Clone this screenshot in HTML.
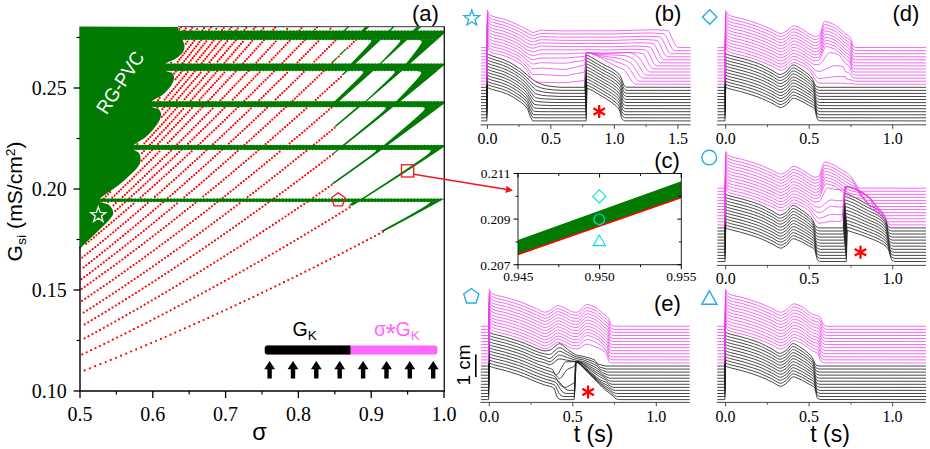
<!DOCTYPE html>
<html><head><meta charset="utf-8"><title>figure</title><style>html,body{margin:0;padding:0;background:#fff}svg{display:block}</style></head><body>
<svg width="930" height="449" viewBox="0 0 930 449">
<rect width="930" height="449" fill="#fff"/>
<g>
<clipPath id="ca"><rect x="79.3" y="26.5" width="364.7" height="364.5"/></clipPath>
<g clip-path="url(#ca)">
<path d="M383.0 231.8h0M379.0 233.9h0M375.0 236.0h0M371.0 238.1h0M367.0 240.2h0M363.0 242.3h0M359.0 244.4h0M354.9 246.5h0M350.8 248.6h0M346.8 250.7h0M342.7 252.8h0M338.6 254.9h0M334.5 257.0h0M330.3 259.1h0M326.2 261.2h0M322.0 263.3h0M317.9 265.4h0M313.7 267.5h0M309.5 269.6h0M305.3 271.7h0M301.0 273.8h0M296.8 275.9h0M292.5 278.0h0M288.2 280.1h0M284.0 282.2h0M279.6 284.3h0M275.3 286.4h0M271.0 288.5h0M266.6 290.6h0M262.2 292.7h0M257.8 294.8h0M253.4 296.9h0M249.0 299.0h0M244.5 301.1h0M240.1 303.2h0M235.6 305.3h0M231.1 307.4h0M226.6 309.5h0M222.0 311.6h0M217.4 313.7h0M212.8 315.8h0M208.2 317.9h0M203.6 320.0h0M199.0 322.1h0M194.3 324.2h0M189.6 326.3h0M184.9 328.4h0M180.1 330.5h0M175.3 332.6h0M170.5 334.7h0M165.7 336.8h0M160.9 338.9h0M156.0 341.0h0M151.1 343.1h0M146.2 345.2h0M141.2 347.3h0M136.2 349.4h0M131.2 351.5h0M126.2 353.6h0M121.1 355.7h0M116.0 357.8h0M110.8 359.9h0M105.7 362.0h0M100.4 364.1h0M95.2 366.2h0M89.9 368.3h0M84.6 370.4h0M349.6 207.4h0M346.2 209.5h0M342.8 211.6h0M339.4 213.7h0M336.0 215.8h0M332.6 217.9h0M329.1 220.0h0M325.7 222.1h0M322.3 224.2h0M318.8 226.3h0M315.3 228.4h0M311.8 230.5h0M308.3 232.6h0M304.8 234.7h0M301.3 236.8h0M297.8 238.9h0M294.3 241.0h0M290.7 243.1h0M287.2 245.2h0M283.6 247.3h0M280.0 249.4h0M276.4 251.5h0M272.8 253.6h0M269.2 255.7h0M265.6 257.8h0M262.0 259.9h0M258.3 262.0h0M254.6 264.1h0M251.0 266.2h0M247.3 268.3h0M243.6 270.4h0M239.9 272.5h0M236.1 274.6h0M232.4 276.7h0M228.7 278.8h0M224.9 280.9h0M221.1 283.0h0M217.3 285.1h0M213.5 287.2h0M209.7 289.3h0M205.8 291.4h0M202.0 293.5h0M198.1 295.6h0M194.2 297.7h0M190.3 299.8h0M186.4 301.9h0M182.5 304.0h0M178.5 306.1h0M174.6 308.2h0M170.6 310.3h0M166.6 312.4h0M162.6 314.5h0M158.5 316.6h0M154.5 318.7h0M150.4 320.8h0M146.3 322.9h0M142.2 325.0h0M138.0 327.1h0M133.9 329.2h0M129.7 331.3h0M125.5 333.4h0M121.3 335.5h0M117.1 337.6h0M112.8 339.7h0M108.5 341.8h0M104.2 343.9h0M99.9 346.0h0M95.5 348.1h0M91.1 350.2h0M86.7 352.3h0M82.3 354.4h0M331.7 185.0h0M328.6 187.1h0M325.6 189.2h0M322.6 191.3h0M319.5 193.4h0M316.5 195.5h0M313.4 197.6h0M307.3 201.8h0M304.2 203.9h0M301.1 206.0h0M298.0 208.1h0M294.9 210.2h0M291.8 212.3h0M288.6 214.4h0M285.5 216.5h0M282.4 218.6h0M279.2 220.7h0M276.1 222.8h0M272.9 224.9h0M269.7 227.0h0M266.5 229.1h0M263.3 231.2h0M260.1 233.3h0M256.9 235.4h0M253.7 237.5h0M250.5 239.6h0M247.2 241.7h0M244.0 243.8h0M240.7 245.9h0M237.4 248.0h0M234.1 250.1h0M230.8 252.2h0M227.5 254.3h0M224.2 256.4h0M220.9 258.5h0M217.6 260.6h0M214.2 262.7h0M210.8 264.8h0M207.5 266.9h0M204.1 269.0h0M200.7 271.1h0M197.3 273.2h0M193.9 275.3h0M190.4 277.4h0M187.0 279.5h0M183.5 281.6h0M180.1 283.7h0M176.6 285.8h0M173.1 287.9h0M169.6 290.0h0M166.1 292.1h0M162.5 294.2h0M159.0 296.3h0M155.4 298.4h0M151.8 300.5h0M148.2 302.6h0M144.6 304.7h0M141.0 306.8h0M137.4 308.9h0M133.7 311.0h0M130.0 313.1h0M126.3 315.2h0M122.6 317.3h0M118.9 319.4h0M115.2 321.5h0M111.4 323.6h0M107.7 325.7h0M103.9 327.8h0M100.0 329.9h0M96.2 332.0h0M92.4 334.1h0M88.5 336.2h0M84.6 338.3h0M332.8 154.3h0M330.0 156.4h0M327.3 158.5h0M324.6 160.6h0M321.8 162.7h0M319.1 164.8h0M316.3 166.9h0M313.5 169.0h0M310.7 171.1h0M308.0 173.2h0M305.2 175.3h0M302.4 177.4h0M299.6 179.5h0M296.8 181.6h0M293.9 183.7h0M291.1 185.8h0M288.3 187.9h0M285.5 190.0h0M282.6 192.1h0M279.8 194.2h0M276.9 196.3h0M274.0 198.4h0M268.3 202.6h0M265.4 204.7h0M262.5 206.8h0M259.6 208.9h0M256.7 211.0h0M253.8 213.1h0M250.8 215.2h0M247.9 217.3h0M244.9 219.4h0M242.0 221.5h0M239.0 223.6h0M236.1 225.7h0M233.1 227.8h0M230.1 229.9h0M227.1 232.0h0M224.1 234.1h0M221.1 236.2h0M218.1 238.3h0M215.0 240.4h0M212.0 242.5h0M209.0 244.6h0M205.9 246.7h0M202.8 248.8h0M199.7 250.9h0M196.7 253.0h0M193.6 255.1h0M190.5 257.2h0M187.3 259.3h0M184.2 261.4h0M181.1 263.5h0M177.9 265.6h0M174.8 267.7h0M171.6 269.8h0M168.4 271.9h0M165.2 274.0h0M162.0 276.1h0M158.8 278.2h0M155.6 280.3h0M152.3 282.4h0M149.1 284.5h0M145.8 286.6h0M142.5 288.7h0M139.2 290.8h0M135.9 292.9h0M132.6 295.0h0M129.3 297.1h0M126.0 299.2h0M122.6 301.3h0M119.2 303.4h0M115.9 305.5h0M112.5 307.6h0M109.0 309.7h0M105.6 311.8h0M102.2 313.9h0M98.7 316.0h0M95.2 318.1h0M91.8 320.2h0M88.2 322.3h0M84.7 324.4h0M334.6 127.8h0M332.0 129.9h0M329.5 132.0h0M326.9 134.1h0M324.4 136.2h0M321.8 138.3h0M319.3 140.4h0M316.7 142.5h0M314.1 144.6h0M306.3 150.9h0M303.7 153.0h0M301.1 155.1h0M298.5 157.2h0M295.9 159.3h0M293.3 161.4h0M290.6 163.5h0M288.0 165.6h0M285.4 167.7h0M282.7 169.8h0M280.1 171.9h0M277.4 174.0h0M274.7 176.1h0M272.1 178.2h0M269.4 180.3h0M266.7 182.4h0M264.0 184.5h0M261.3 186.6h0M258.6 188.7h0M255.9 190.8h0M253.2 192.9h0M250.4 195.0h0M247.7 197.1h0M239.5 203.4h0M236.7 205.5h0M233.9 207.6h0M231.1 209.7h0M228.4 211.8h0M225.6 213.9h0M222.8 216.0h0M220.0 218.1h0M217.1 220.2h0M214.3 222.3h0M211.5 224.4h0M208.6 226.5h0M205.8 228.6h0M202.9 230.7h0M200.1 232.8h0M197.2 234.9h0M194.3 237.0h0M191.4 239.1h0M188.5 241.2h0M185.6 243.3h0M182.7 245.4h0M179.8 247.5h0M176.8 249.6h0M173.9 251.7h0M170.9 253.8h0M168.0 255.9h0M165.0 258.0h0M162.0 260.1h0M159.0 262.2h0M156.0 264.3h0M153.0 266.4h0M150.0 268.5h0M146.9 270.6h0M143.9 272.7h0M140.8 274.8h0M137.8 276.9h0M134.7 279.0h0M131.6 281.1h0M128.5 283.2h0M125.4 285.3h0M122.3 287.4h0M119.1 289.5h0M116.0 291.6h0M112.8 293.7h0M109.6 295.8h0M106.4 297.9h0M103.2 300.0h0M100.0 302.1h0M96.8 304.2h0M93.6 306.3h0M90.3 308.4h0M87.0 310.5h0M83.7 312.6h0M331.4 107.6h0M329.0 109.7h0M326.6 111.8h0M324.1 113.9h0M321.7 116.0h0M319.3 118.1h0M316.8 120.2h0M314.4 122.3h0M311.9 124.4h0M309.5 126.5h0M307.0 128.6h0M304.6 130.7h0M302.1 132.8h0M299.6 134.9h0M297.1 137.0h0M294.6 139.1h0M292.2 141.2h0M289.7 143.3h0M279.6 151.7h0M277.1 153.8h0M274.6 155.9h0M272.0 158.0h0M269.5 160.1h0M266.9 162.2h0M264.4 164.3h0M261.8 166.4h0M259.3 168.5h0M256.7 170.6h0M254.1 172.7h0M251.5 174.8h0M248.9 176.9h0M246.3 179.0h0M243.7 181.1h0M241.1 183.2h0M238.5 185.3h0M235.9 187.4h0M233.3 189.5h0M230.6 191.6h0M228.0 193.7h0M225.3 195.8h0M222.7 197.9h0M217.4 202.1h0M214.7 204.2h0M212.0 206.3h0M209.3 208.4h0M206.6 210.5h0M203.9 212.6h0M201.2 214.7h0M198.5 216.8h0M195.7 218.9h0M193.0 221.0h0M190.3 223.1h0M187.5 225.2h0M184.7 227.3h0M182.0 229.4h0M179.2 231.5h0M176.4 233.6h0M173.6 235.7h0M170.8 237.8h0M168.0 239.9h0M165.2 242.0h0M162.4 244.1h0M159.5 246.2h0M156.7 248.3h0M153.8 250.4h0M150.9 252.5h0M148.1 254.6h0M145.2 256.7h0M142.3 258.8h0M139.4 260.9h0M136.5 263.0h0M133.6 265.1h0M130.6 267.2h0M127.7 269.3h0M124.7 271.4h0M121.8 273.5h0M118.8 275.6h0M115.8 277.7h0M112.8 279.8h0M109.8 281.9h0M106.8 284.0h0M103.7 286.1h0M100.7 288.2h0M97.6 290.3h0M94.5 292.4h0M91.5 294.5h0M88.4 296.6h0M85.3 298.7h0M82.1 300.8h0M341.0 76.8h0M338.7 78.9h0M336.4 81.0h0M334.1 83.1h0M331.8 85.2h0M329.5 87.3h0M327.2 89.4h0M324.9 91.5h0M322.6 93.6h0M320.3 95.7h0M318.0 97.8h0M315.7 99.9h0M306.3 108.3h0M304.0 110.4h0M301.6 112.5h0M299.3 114.6h0M296.9 116.7h0M294.5 118.8h0M292.2 120.9h0M289.8 123.0h0M287.4 125.1h0M285.0 127.2h0M282.6 129.3h0M280.2 131.4h0M277.8 133.5h0M275.4 135.6h0M273.0 137.7h0M270.6 139.8h0M268.2 141.9h0M265.7 144.0h0M258.4 150.3h0M256.0 152.4h0M253.5 154.5h0M251.1 156.6h0M248.6 158.7h0M246.1 160.8h0M243.7 162.9h0M241.2 165.0h0M238.7 167.1h0M236.2 169.2h0M233.7 171.3h0M231.2 173.4h0M228.7 175.5h0M226.1 177.6h0M223.6 179.7h0M221.1 181.8h0M218.6 183.9h0M216.0 186.0h0M213.5 188.1h0M210.9 190.2h0M208.3 192.3h0M205.8 194.4h0M203.2 196.5h0M195.4 202.8h0M192.8 204.9h0M190.2 207.0h0M187.6 209.1h0M184.9 211.2h0M182.3 213.3h0M179.7 215.4h0M177.0 217.5h0M174.4 219.6h0M171.7 221.7h0M169.0 223.8h0M166.3 225.9h0M163.7 228.0h0M161.0 230.1h0M158.3 232.2h0M155.5 234.3h0M152.8 236.4h0M150.1 238.5h0M147.3 240.6h0M144.6 242.7h0M141.8 244.8h0M139.1 246.9h0M136.3 249.0h0M133.5 251.1h0M130.7 253.2h0M127.9 255.3h0M125.1 257.4h0M122.3 259.5h0M119.5 261.6h0M116.6 263.7h0M113.8 265.8h0M110.9 267.9h0M108.0 270.0h0M105.1 272.1h0M102.3 274.2h0M99.4 276.3h0M96.4 278.4h0M93.5 280.5h0M90.6 282.6h0M87.6 284.7h0M84.7 286.8h0M81.7 288.9h0M356.0 39.8h0M353.8 41.9h0M351.7 44.0h0M349.6 46.1h0M347.4 48.2h0M338.8 56.6h0M332.3 62.9h0M323.6 71.3h0M321.5 73.4h0M319.3 75.5h0M317.1 77.6h0M314.9 79.7h0M312.7 81.8h0M310.5 83.9h0M308.3 86.0h0M306.0 88.1h0M303.8 90.2h0M301.6 92.3h0M299.4 94.4h0M297.2 96.5h0M294.9 98.6h0M292.7 100.7h0M285.9 107.0h0M283.7 109.1h0M281.4 111.2h0M279.2 113.3h0M276.9 115.4h0M274.6 117.5h0M272.3 119.6h0M270.1 121.7h0M267.8 123.8h0M265.5 125.9h0M263.2 128.0h0M260.9 130.1h0M258.6 132.2h0M256.2 134.3h0M253.9 136.4h0M251.6 138.5h0M249.3 140.6h0M246.9 142.7h0M244.6 144.8h0M237.6 151.1h0M235.2 153.2h0M232.8 155.3h0M230.5 157.4h0M228.1 159.5h0M225.7 161.6h0M223.3 163.7h0M220.9 165.8h0M218.5 167.9h0M216.1 170.0h0M213.7 172.1h0M211.3 174.2h0M208.9 176.3h0M206.5 178.4h0M204.0 180.5h0M201.6 182.6h0M199.2 184.7h0M196.7 186.8h0M194.2 188.9h0M191.8 191.0h0M189.3 193.1h0M186.8 195.2h0M184.3 197.3h0M176.9 203.6h0M174.3 205.7h0M171.8 207.8h0M169.3 209.9h0M166.8 212.0h0M164.2 214.1h0M161.7 216.2h0M159.1 218.3h0M156.6 220.4h0M154.0 222.5h0M151.4 224.6h0M148.9 226.7h0M146.3 228.8h0M143.7 230.9h0M141.1 233.0h0M138.4 235.1h0M135.8 237.2h0M133.2 239.3h0M130.6 241.4h0M127.9 243.5h0M125.3 245.6h0M122.6 247.7h0M119.9 249.8h0M117.2 251.9h0M114.5 254.0h0M111.8 256.1h0M109.1 258.2h0M106.4 260.3h0M103.7 262.4h0M101.0 264.5h0M98.2 266.6h0M95.4 268.7h0M92.7 270.8h0M89.9 272.9h0M87.1 275.0h0M84.3 277.1h0M81.5 279.2h0M335.3 40.6h0M333.3 42.7h0M331.2 44.8h0M329.1 46.9h0M327.0 49.0h0M324.9 51.1h0M322.8 53.2h0M320.7 55.3h0M318.6 57.4h0M316.5 59.5h0M314.4 61.6h0M303.8 72.1h0M301.7 74.2h0M299.5 76.3h0M297.4 78.4h0M295.3 80.5h0M293.1 82.6h0M291.0 84.7h0M288.8 86.8h0M286.6 88.9h0M284.5 91.0h0M282.3 93.1h0M280.1 95.2h0M278.0 97.3h0M275.8 99.4h0M267.0 107.8h0M264.8 109.9h0M262.6 112.0h0M260.4 114.1h0M258.2 116.2h0M256.0 118.3h0M253.7 120.4h0M251.5 122.5h0M249.3 124.6h0M247.0 126.7h0M244.8 128.8h0M242.6 130.9h0M240.3 133.0h0M238.0 135.1h0M235.8 137.2h0M233.5 139.3h0M231.2 141.4h0M229.0 143.5h0M222.1 149.8h0M219.8 151.9h0M217.5 154.0h0M215.2 156.1h0M212.9 158.2h0M210.6 160.3h0M208.2 162.4h0M205.9 164.5h0M203.6 166.6h0M201.2 168.7h0M198.9 170.8h0M196.5 172.9h0M194.2 175.0h0M191.8 177.1h0M189.4 179.2h0M187.1 181.3h0M184.7 183.4h0M182.3 185.5h0M179.9 187.6h0M177.5 189.7h0M175.1 191.8h0M172.7 193.9h0M170.3 196.0h0M167.8 198.1h0M163.0 202.3h0M160.5 204.4h0M158.1 206.5h0M155.6 208.6h0M153.1 210.7h0M150.7 212.8h0M148.2 214.9h0M145.7 217.0h0M143.2 219.1h0M140.7 221.2h0M138.2 223.3h0M135.7 225.4h0M133.1 227.5h0M130.6 229.6h0M128.1 231.7h0M125.5 233.8h0M123.0 235.9h0M120.4 238.0h0M117.8 240.1h0M115.3 242.2h0M112.7 244.3h0M110.1 246.4h0M107.5 248.5h0M104.9 250.6h0M102.2 252.7h0M99.6 254.8h0M97.0 256.9h0M94.3 259.0h0M91.6 261.1h0M89.0 263.2h0M86.3 265.3h0M83.6 267.4h0M330.5 28.7h0M318.2 41.3h0M316.2 43.4h0M314.1 45.5h0M312.1 47.6h0M310.0 49.7h0M308.0 51.8h0M305.9 53.9h0M303.8 56.0h0M301.7 58.1h0M299.7 60.2h0M297.6 62.3h0M287.1 72.8h0M285.0 74.9h0M282.9 77.0h0M280.8 79.1h0M278.6 81.2h0M276.5 83.3h0M274.4 85.4h0M272.3 87.5h0M270.1 89.6h0M268.0 91.7h0M265.9 93.8h0M263.7 95.9h0M261.6 98.0h0M259.4 100.1h0M250.7 108.5h0M248.6 110.6h0M246.4 112.7h0M244.2 114.8h0M242.0 116.9h0M239.8 119.0h0M237.6 121.1h0M235.4 123.2h0M233.2 125.3h0M231.0 127.4h0M228.8 129.5h0M226.5 131.6h0M224.3 133.7h0M222.1 135.8h0M219.8 137.9h0M217.6 140.0h0M215.3 142.1h0M213.1 144.2h0M206.3 150.5h0M204.0 152.6h0M201.8 154.7h0M199.5 156.8h0M197.2 158.9h0M194.9 161.0h0M192.6 163.1h0M190.3 165.2h0M188.0 167.3h0M185.6 169.4h0M183.3 171.5h0M181.0 173.6h0M178.7 175.7h0M176.3 177.8h0M174.0 179.9h0M171.6 182.0h0M169.3 184.1h0M166.9 186.2h0M164.5 188.3h0M162.1 190.4h0M159.8 192.5h0M157.4 194.6h0M155.0 196.7h0M147.7 203.0h0M145.3 205.1h0M142.9 207.2h0M140.5 209.3h0M138.0 211.4h0M135.6 213.5h0M133.1 215.6h0M130.6 217.7h0M128.2 219.8h0M125.7 221.9h0M123.2 224.0h0M120.7 226.1h0M118.2 228.2h0M115.7 230.3h0M113.2 232.4h0M110.6 234.5h0M108.1 236.6h0M105.5 238.7h0M103.0 240.8h0M100.4 242.9h0M97.9 245.0h0M95.3 247.1h0M92.7 249.2h0M90.1 251.3h0M87.5 253.4h0M84.9 255.5h0M82.3 257.6h0M316.9 27.4h0M314.9 29.5h0M304.8 40.0h0M302.8 42.1h0M300.7 44.2h0M298.7 46.3h0M296.7 48.4h0M294.6 50.5h0M292.6 52.6h0M290.5 54.7h0M288.5 56.8h0M286.4 58.9h0M284.3 61.0h0M282.3 63.1h0M274.0 71.5h0M271.9 73.6h0M269.8 75.7h0M267.7 77.8h0M265.6 79.9h0M263.5 82.0h0M261.4 84.1h0M259.3 86.2h0M257.2 88.3h0M255.0 90.4h0M252.9 92.5h0M250.8 94.6h0M248.7 96.7h0M246.5 98.8h0M244.4 100.9h0M237.9 107.2h0M235.8 109.3h0M233.6 111.4h0M231.5 113.5h0M229.3 115.6h0M227.1 117.7h0M224.9 119.8h0M222.7 121.9h0M220.6 124.0h0M218.4 126.1h0M216.2 128.2h0M214.0 130.3h0M211.7 132.4h0M209.5 134.5h0M207.3 136.6h0M205.1 138.7h0M202.9 140.8h0M200.6 142.9h0M198.4 145.0h0M191.6 151.3h0M189.4 153.4h0M187.1 155.5h0M184.8 157.6h0M182.6 159.7h0M180.3 161.8h0M178.0 163.9h0M175.7 166.0h0M173.4 168.1h0M171.1 170.2h0M168.8 172.3h0M166.5 174.4h0M164.1 176.5h0M161.8 178.6h0M159.5 180.7h0M157.1 182.8h0M154.8 184.9h0M152.4 187.0h0M150.1 189.1h0M147.7 191.2h0M145.3 193.3h0M143.0 195.4h0M140.6 197.5h0M133.4 203.8h0M131.0 205.9h0M128.5 208.0h0M126.1 210.1h0M123.7 212.2h0M121.2 214.3h0M118.8 216.4h0M116.3 218.5h0M113.9 220.6h0M111.4 222.7h0M108.9 224.8h0M106.4 226.9h0M103.9 229.0h0M101.4 231.1h0M98.9 233.2h0M96.4 235.3h0M93.9 237.4h0M91.3 239.5h0M88.8 241.6h0M86.2 243.7h0M301.4 28.2h0M299.5 30.3h0M289.6 40.8h0M287.6 42.9h0M285.6 45.0h0M283.7 47.1h0M281.7 49.2h0M279.7 51.3h0M277.7 53.4h0M275.7 55.5h0M273.7 57.6h0M271.7 59.7h0M269.6 61.8h0M259.5 72.3h0M257.5 74.4h0M255.4 76.5h0M253.4 78.6h0M251.4 80.7h0M249.3 82.8h0M247.3 84.9h0M245.2 87.0h0M243.1 89.1h0M241.1 91.2h0M239.0 93.3h0M236.9 95.4h0M234.8 97.5h0M232.8 99.6h0M224.4 108.0h0M222.3 110.1h0M220.2 112.2h0M218.1 114.3h0M215.9 116.4h0M213.8 118.5h0M211.7 120.6h0M209.6 122.7h0M207.4 124.8h0M205.3 126.9h0M203.1 129.0h0M201.0 131.1h0M198.8 133.2h0M196.7 135.3h0M194.5 137.4h0M192.3 139.5h0M190.2 141.6h0M188.0 143.7h0M181.4 150.0h0M179.2 152.1h0M177.0 154.2h0M174.8 156.3h0M172.6 158.4h0M170.4 160.5h0M168.1 162.6h0M165.9 164.7h0M163.7 166.8h0M161.4 168.9h0M159.2 171.0h0M156.9 173.1h0M154.7 175.2h0M152.4 177.3h0M150.1 179.4h0M147.8 181.5h0M145.6 183.6h0M143.3 185.7h0M141.0 187.8h0M138.7 189.9h0M136.4 192.0h0M134.1 194.1h0M131.7 196.2h0M129.4 198.3h0M124.7 202.5h0M122.4 204.6h0M120.0 206.7h0M117.7 208.8h0M115.3 210.9h0M287.2 28.9h0M275.7 41.5h0M273.8 43.6h0M271.9 45.7h0M270.0 47.8h0M268.0 49.9h0M266.1 52.0h0M264.2 54.1h0M262.2 56.2h0M260.3 58.3h0M258.3 60.4h0M256.4 62.5h0M248.5 70.9h0M246.5 73.0h0M244.6 75.1h0M242.6 77.2h0M240.6 79.3h0M238.6 81.4h0M236.6 83.5h0M234.6 85.6h0M232.6 87.7h0M230.6 89.8h0M228.6 91.9h0M226.6 94.0h0M224.6 96.1h0M222.6 98.2h0M220.6 100.3h0M212.5 108.7h0M210.4 110.8h0M208.4 112.9h0M206.3 115.0h0M204.3 117.1h0M202.2 119.2h0M200.1 121.3h0M198.1 123.4h0M196.0 125.5h0M193.9 127.6h0M191.8 129.7h0M189.8 131.8h0M187.7 133.9h0M185.6 136.0h0M183.5 138.1h0M181.4 140.2h0M179.3 142.3h0M177.2 144.4h0M170.8 150.7h0M168.7 152.8h0M166.5 154.9h0M164.4 157.0h0M162.2 159.1h0M160.1 161.2h0M157.9 163.3h0M155.7 165.4h0M153.6 167.5h0M151.4 169.6h0M149.2 171.7h0M147.0 173.8h0M144.8 175.9h0M142.6 178.0h0M140.4 180.1h0M138.2 182.2h0M136.0 184.3h0M133.8 186.4h0M131.6 188.5h0M129.3 190.6h0M127.1 192.7h0M124.9 194.8h0M122.6 196.9h0M115.8 203.2h0M113.5 205.3h0M275.1 27.6h0M273.3 29.7h0M263.9 40.2h0M262.1 42.3h0M260.2 44.4h0M258.3 46.5h0M256.4 48.6h0M254.5 50.7h0M252.6 52.8h0M250.7 54.9h0M248.8 57.0h0M246.9 59.1h0M245.0 61.2h0M243.1 63.3h0M235.5 71.7h0M233.5 73.8h0M231.6 75.9h0M229.7 78.0h0M227.7 80.1h0M225.8 82.2h0M223.8 84.3h0M221.9 86.4h0M219.9 88.5h0M218.0 90.6h0M216.0 92.7h0M214.1 94.8h0M212.1 96.9h0M210.1 99.0h0M208.2 101.1h0M202.2 107.4h0M200.2 109.5h0M198.2 111.6h0M196.2 113.7h0M194.2 115.8h0M192.2 117.9h0M190.2 120.0h0M188.2 122.1h0M186.2 124.2h0M184.1 126.3h0M182.1 128.4h0M180.1 130.5h0M178.0 132.6h0M176.0 134.7h0M173.9 136.8h0M171.9 138.9h0M169.8 141.0h0M167.8 143.1h0M159.5 151.5h0M157.4 153.6h0M155.3 155.7h0M153.2 157.8h0M151.1 159.9h0M149.0 162.0h0M146.9 164.1h0M144.8 166.2h0M142.6 168.3h0M140.5 170.4h0M138.4 172.5h0M136.3 174.6h0M134.1 176.7h0M132.0 178.8h0M129.8 180.9h0M127.7 183.0h0M125.5 185.1h0M123.3 187.2h0M121.1 189.3h0M119.0 191.4h0M116.8 193.5h0M114.6 195.6h0M112.4 197.7h0M108.0 201.9h0M263.3 28.4h0M261.5 30.5h0M252.3 41.0h0M250.5 43.1h0M248.7 45.2h0M246.8 47.3h0M245.0 49.4h0M243.1 51.5h0M241.3 53.6h0M239.4 55.7h0M237.5 57.8h0M235.7 59.9h0M233.8 62.0h0M224.4 72.5h0M222.5 74.6h0M220.6 76.7h0M218.7 78.8h0M216.8 80.9h0M214.9 83.0h0M213.0 85.1h0M211.1 87.2h0M209.2 89.3h0M207.3 91.4h0M205.4 93.5h0M203.4 95.6h0M201.5 97.7h0M199.6 99.8h0M191.8 108.2h0M189.8 110.3h0M187.9 112.4h0M185.9 114.5h0M184.0 116.6h0M182.0 118.7h0M180.0 120.8h0M178.0 122.9h0M176.1 125.0h0M174.1 127.1h0M172.1 129.2h0M170.1 131.3h0M168.1 133.4h0M166.1 135.5h0M164.1 137.6h0M162.1 139.7h0M160.0 141.8h0M158.0 143.9h0M151.9 150.2h0M149.9 152.3h0M147.8 154.4h0M145.8 156.5h0M143.7 158.6h0M141.7 160.7h0M110.1 192.2h0M108.0 194.3h0M105.8 196.4h0M103.7 198.5h0M255.4 27.1h0M253.6 29.2h0M242.8 41.8h0M241.0 43.9h0M239.2 46.0h0M237.4 48.1h0M235.6 50.2h0M233.8 52.3h0M231.9 54.4h0M230.1 56.5h0M228.3 58.6h0M226.4 60.7h0M224.6 62.8h0M217.2 71.2h0M215.4 73.3h0M213.5 75.4h0M211.6 77.5h0M209.8 79.6h0M207.9 81.7h0M206.0 83.8h0M204.1 85.9h0M202.3 88.0h0M200.4 90.1h0M198.5 92.2h0M196.6 94.3h0M194.7 96.4h0M192.8 98.5h0M190.9 100.6h0M183.2 109.0h0M181.3 111.1h0M179.4 113.2h0M177.5 115.3h0M175.5 117.4h0M173.6 119.5h0M171.7 121.6h0M169.7 123.7h0M167.8 125.8h0M165.8 127.9h0M163.8 130.0h0M161.9 132.1h0M159.9 134.2h0M157.9 136.3h0M156.0 138.4h0M154.0 140.5h0M152.0 142.6h0M150.0 144.7h0M144.0 151.0h0M142.0 153.1h0M246.3 27.8h0M244.5 29.9h0M235.7 40.4h0M233.9 42.5h0M232.1 44.6h0M230.3 46.7h0M228.5 48.8h0M226.7 50.9h0M224.9 53.0h0M223.1 55.1h0M221.3 57.2h0M219.5 59.3h0M217.7 61.4h0M208.6 71.9h0M206.8 74.0h0M205.0 76.1h0M203.1 78.2h0M201.3 80.3h0M199.5 82.4h0M197.6 84.5h0M195.8 86.6h0M193.9 88.7h0M192.1 90.8h0M190.2 92.9h0M188.3 95.0h0M186.5 97.1h0M184.6 99.2h0M177.1 107.6h0M175.2 109.7h0M173.3 111.8h0M171.4 113.9h0M169.5 116.0h0M167.6 118.1h0M165.7 120.2h0M163.8 122.3h0M161.9 124.4h0M159.9 126.5h0M158.0 128.6h0M156.1 130.7h0M154.1 132.8h0M152.2 134.9h0M150.3 137.0h0M148.3 139.1h0M146.4 141.2h0M144.4 143.3h0M237.7 28.6h0M235.9 30.7h0M227.2 41.2h0M225.5 43.3h0M223.7 45.4h0M221.9 47.5h0M220.2 49.6h0M218.4 51.7h0M216.6 53.8h0M214.9 55.9h0M213.1 58.0h0M211.3 60.1h0M209.5 62.2h0M200.6 72.7h0M198.8 74.8h0M197.0 76.9h0M195.2 79.0h0M193.4 81.1h0M191.5 83.2h0M189.7 85.3h0M187.9 87.4h0M186.1 89.5h0M184.2 91.6h0M182.4 93.7h0M180.6 95.8h0M178.7 97.9h0M176.9 100.0h0M169.5 108.4h0M167.6 110.5h0M165.7 112.6h0M163.9 114.7h0M162.0 116.8h0M137.3 144.1h0M231.3 27.3h0M229.6 29.4h0M221.0 39.9h0M219.3 42.0h0M217.6 44.1h0M215.8 46.2h0M214.1 48.3h0M212.4 50.4h0M210.6 52.5h0M208.9 54.6h0M207.1 56.7h0M205.4 58.8h0M203.6 60.9h0M201.9 63.0h0M194.8 71.4h0M193.0 73.5h0M191.3 75.6h0M189.5 77.7h0M187.7 79.8h0M185.9 81.9h0M184.1 84.0h0M182.3 86.1h0M180.5 88.2h0M178.7 90.3h0M176.9 92.4h0M175.1 94.5h0M173.3 96.6h0M171.5 98.7h0M169.7 100.8h0M164.2 107.1h0M162.3 109.2h0M223.8 28.0h0M222.1 30.1h0M213.6 40.6h0M211.9 42.7h0M210.2 44.8h0M208.5 46.9h0M206.8 49.0h0M205.1 51.1h0M203.4 53.2h0M201.6 55.3h0M199.9 57.4h0M198.2 59.5h0M196.5 61.6h0M187.7 72.1h0M186.0 74.2h0M184.2 76.3h0M182.5 78.4h0M180.7 80.5h0M179.0 82.6h0M177.2 84.7h0M175.4 86.8h0M173.6 88.9h0M171.9 91.0h0M170.1 93.1h0M168.3 95.2h0M166.5 97.3h0M164.7 99.4h0M157.5 107.8h0M216.3 28.8h0M206.3 41.4h0M204.6 43.5h0M202.9 45.6h0M201.2 47.7h0M199.5 49.8h0M197.8 51.9h0M196.1 54.0h0M194.4 56.1h0M192.7 58.2h0M191.0 60.3h0M189.3 62.4h0M182.4 70.8h0M180.7 72.9h0M179.0 75.0h0M177.2 77.1h0M175.5 79.2h0M159.7 98.1h0M158.0 100.2h0M211.0 27.5h0M209.3 29.6h0M201.1 40.1h0M199.4 42.2h0M197.8 44.3h0M196.1 46.4h0M194.4 48.5h0M192.8 50.6h0M191.1 52.7h0M189.4 54.8h0M187.7 56.9h0M186.0 59.0h0M184.4 61.1h0M182.7 63.2h0M175.9 71.6h0M174.2 73.7h0M204.0 28.2h0M202.4 30.3h0M194.2 40.8h0M192.6 42.9h0M191.0 45.0h0M189.3 47.1h0M187.7 49.2h0M186.0 51.3h0M184.4 53.4h0M182.7 55.5h0M181.0 57.6h0M179.4 59.7h0M177.7 61.8h0M197.1 29.0h0M187.4 41.6h0M185.8 43.7h0M171.1 62.6h0M192.2 27.7h0M190.7 29.8h0M185.8 28.4h0M184.3 30.6h0M181.0 27.1h0M179.4 29.2h0" stroke="#ff0000" stroke-width="2.2" stroke-linecap="round" fill="none"/>
<path d="M384.7 231.1 385.7 230.6 386.6 230.1 387.5 229.6 388.5 229.1 389.4 228.6 390.4 228.1 391.3 227.6 392.2 227.1 393.2 226.6 394.1 226.1 395.1 225.6 396.0 225.1 396.9 224.6 397.9 224.1 398.8 223.6 399.7 223.1 400.7 222.6 401.6 222.1 402.5 221.6 403.5 221.1 404.4 220.6 405.3 220.1 406.3 219.6 407.2 219.1 408.1 218.6 409.0 218.1 410.0 217.6 410.9 217.1 411.8 216.6 412.8 216.1 413.7 215.6 414.6 215.1 415.5 214.6 416.4 214.1 417.4 213.6 418.3 213.1 419.2 212.6 420.1 212.1 421.1 211.6 422.0 211.1 422.9 210.6 423.8 210.1 424.7 209.6 425.6 209.1 426.6 208.6 427.5 208.1 428.4 207.6 429.3 207.1 430.2 206.6 431.1 206.1 432.0 205.6 433.0 205.1 433.9 204.6 434.8 204.1 435.7 203.6 436.6 203.1 437.5 202.6 438.4 202.1 439.3 201.6 430.8 201.6 430.3 202.1 429.9 202.6 429.4 203.1 428.8 203.6 428.2 204.1 427.5 204.6 426.8 205.1 426.1 205.6 425.3 206.1 424.5 206.6 423.7 207.1 422.9 207.6 422.1 208.1 421.3 208.6 420.5 209.1 419.6 209.6 418.8 210.1 417.9 210.6 417.1 211.1 416.2 211.6 415.3 212.1 414.5 212.6 413.6 213.1 412.7 213.6 411.8 214.1 410.9 214.6 410.1 215.1 409.2 215.6 408.3 216.1 407.4 216.6 406.5 217.1 405.6 217.6 404.7 218.1 403.8 218.6 402.9 219.1 402.0 219.6 401.1 220.1 400.2 220.6 399.3 221.1 398.3 221.6 397.4 222.1 396.5 222.6 395.6 223.1 394.7 223.6 393.8 224.1 392.8 224.6 391.9 225.1 391.0 225.6 390.1 226.1 389.2 226.6 388.2 227.1 387.3 227.6 386.4 228.1 385.5 228.6 384.5 229.1 383.6 229.6 382.7 230.1 381.7 230.6 380.8 231.1 Z" fill="#007a00"/>
<path d="M363.1 199.2 363.9 198.7 364.7 198.2 365.5 197.7 366.3 197.2 367.1 196.7 367.9 196.2 368.7 195.7 369.5 195.2 370.2 194.7 371.0 194.2 371.8 193.7 372.6 193.2 373.4 192.7 374.2 192.2 375.0 191.7 375.8 191.2 376.6 190.7 377.4 190.2 378.2 189.7 378.9 189.2 379.7 188.7 380.5 188.2 381.3 187.7 382.1 187.2 382.9 186.7 383.7 186.2 384.4 185.7 385.2 185.2 386.0 184.7 386.8 184.2 387.6 183.7 388.4 183.2 389.1 182.7 389.9 182.2 390.7 181.7 391.5 181.2 392.3 180.7 393.0 180.2 393.8 179.7 394.6 179.2 395.4 178.7 396.2 178.2 396.9 177.7 397.7 177.2 398.5 176.7 399.3 176.2 400.0 175.7 400.8 175.2 401.6 174.7 402.4 174.2 403.1 173.7 403.9 173.2 404.7 172.7 405.4 172.2 406.2 171.7 407.0 171.2 407.8 170.7 408.5 170.2 409.3 169.7 410.1 169.2 410.8 168.7 411.6 168.2 412.4 167.7 413.1 167.2 413.9 166.7 414.7 166.2 415.4 165.7 416.2 165.2 417.0 164.7 417.7 164.2 418.5 163.7 419.3 163.2 420.0 162.7 420.8 162.2 421.6 161.7 422.3 161.2 423.1 160.7 423.9 160.2 424.6 159.7 425.4 159.2 426.1 158.7 426.9 158.2 427.7 157.7 428.4 157.2 429.2 156.7 429.9 156.2 430.7 155.7 431.5 155.2 432.2 154.7 433.0 154.2 433.7 153.7 434.5 153.2 435.2 152.7 436.0 152.2 436.8 151.7 437.5 151.2 438.3 150.7 439.0 150.2 439.8 149.7 440.5 149.2 429.4 149.2 428.6 149.7 430.2 150.2 430.7 150.7 430.6 151.2 430.4 151.7 429.9 152.2 429.5 152.7 428.9 153.2 428.3 153.7 427.7 154.2 427.1 154.7 426.4 155.2 425.7 155.7 425.1 156.2 424.4 156.7 423.7 157.2 423.0 157.7 422.3 158.2 421.6 158.7 420.9 159.2 420.2 159.7 419.4 160.2 418.7 160.7 418.0 161.2 417.3 161.7 416.5 162.2 415.8 162.7 415.1 163.2 414.3 163.7 413.6 164.2 412.9 164.7 412.1 165.2 411.4 165.7 410.7 166.2 409.9 166.7 409.2 167.2 408.4 167.7 407.7 168.2 407.0 168.7 406.2 169.2 405.5 169.7 404.7 170.2 404.0 170.7 403.2 171.2 402.5 171.7 401.7 172.2 401.0 172.7 400.2 173.2 399.5 173.7 398.7 174.2 398.0 174.7 397.2 175.2 396.5 175.7 395.7 176.2 395.0 176.7 394.2 177.2 393.4 177.7 392.7 178.2 391.9 178.7 391.2 179.2 390.4 179.7 389.7 180.2 388.9 180.7 388.1 181.2 387.4 181.7 386.6 182.2 385.9 182.7 385.1 183.2 384.3 183.7 383.6 184.2 382.8 184.7 382.0 185.2 381.3 185.7 380.5 186.2 379.7 186.7 379.0 187.2 378.2 187.7 377.4 188.2 376.7 188.7 375.9 189.2 375.1 189.7 374.4 190.2 373.6 190.7 372.8 191.2 372.0 191.7 371.3 192.2 370.5 192.7 369.7 193.2 369.0 193.7 368.2 194.2 367.4 194.7 366.6 195.2 365.9 195.7 365.1 196.2 364.3 196.7 363.5 197.2 362.8 197.7 362.0 198.2 361.2 198.7 360.4 199.2 Z" fill="#007a00"/>
<path d="M352.9 205.6 353.7 205.1 354.5 204.6 355.3 204.1 356.1 203.6 356.9 203.1 357.7 202.6 358.5 202.1 359.3 201.6 353.2 201.6 352.6 202.1 352.1 202.6 351.6 203.1 351.0 203.6 350.4 204.1 349.7 204.6 349.0 205.1 348.3 205.6 Z" fill="#007a00"/>
<path d="M387.5 145.6 388.2 145.1 388.9 144.6 389.6 144.1 390.2 143.6 390.9 143.1 391.6 142.6 392.3 142.1 393.0 141.6 393.7 141.1 394.4 140.6 395.0 140.1 395.7 139.6 396.4 139.1 397.1 138.6 397.8 138.1 398.5 137.6 399.1 137.1 399.8 136.6 400.5 136.1 401.2 135.6 401.9 135.1 402.6 134.6 403.2 134.1 403.9 133.6 404.6 133.1 405.3 132.6 405.9 132.1 406.6 131.6 407.3 131.1 408.0 130.6 408.7 130.1 409.3 129.6 410.0 129.1 410.7 128.6 411.4 128.1 412.0 127.6 412.7 127.1 413.4 126.6 414.1 126.1 414.7 125.6 415.4 125.1 416.1 124.6 416.8 124.1 417.4 123.6 418.1 123.1 418.8 122.6 419.5 122.1 420.1 121.6 420.8 121.1 421.5 120.6 422.1 120.1 422.8 119.6 423.5 119.1 424.2 118.6 424.8 118.1 425.5 117.6 426.2 117.1 426.8 116.6 427.5 116.1 428.2 115.6 428.8 115.1 429.5 114.6 430.2 114.1 430.8 113.6 431.5 113.1 432.2 112.6 432.8 112.1 433.5 111.6 434.2 111.1 434.8 110.6 435.5 110.1 436.2 109.6 436.8 109.1 437.5 108.6 438.2 108.1 438.8 107.6 439.5 107.1 440.2 106.6 422.1 106.6 422.3 107.1 424.2 107.6 424.7 108.1 424.8 108.6 424.6 109.1 424.4 109.6 424.0 110.1 423.6 110.6 423.2 111.1 422.7 111.6 422.2 112.1 421.7 112.6 421.2 113.1 420.6 113.6 420.1 114.1 419.6 114.6 419.0 115.1 418.5 115.6 417.9 116.1 417.4 116.6 416.8 117.1 416.3 117.6 415.7 118.1 415.1 118.6 414.6 119.1 414.0 119.6 413.4 120.1 412.9 120.6 412.3 121.1 411.7 121.6 411.1 122.1 410.6 122.6 410.0 123.1 409.4 123.6 408.8 124.1 408.2 124.6 407.7 125.1 407.1 125.6 406.5 126.1 405.9 126.6 405.3 127.1 404.8 127.6 404.2 128.1 403.6 128.6 403.0 129.1 402.4 129.6 401.8 130.1 401.2 130.6 400.6 131.1 400.1 131.6 399.5 132.1 398.9 132.6 398.3 133.1 397.7 133.6 397.1 134.1 396.5 134.6 395.9 135.1 395.3 135.6 394.7 136.1 394.1 136.6 393.6 137.1 393.0 137.6 392.4 138.1 391.8 138.6 391.2 139.1 390.6 139.6 390.0 140.1 389.4 140.6 388.8 141.1 388.2 141.6 387.6 142.1 387.0 142.6 386.4 143.1 385.8 143.6 385.2 144.1 384.6 144.6 384.0 145.1 383.3 145.6 Z" fill="#007a00"/>
<path d="M334.0 183.7 334.7 183.2 335.4 182.7 336.1 182.2 336.8 181.7 337.6 181.2 338.3 180.7 339.0 180.2 339.7 179.7 340.4 179.2 341.1 178.7 341.8 178.2 342.6 177.7 343.3 177.2 344.0 176.7 344.7 176.2 345.4 175.7 346.1 175.2 346.8 174.7 347.5 174.2 348.2 173.7 349.0 173.2 349.7 172.7 350.4 172.2 351.1 171.7 351.8 171.2 352.5 170.7 353.2 170.2 353.9 169.7 354.6 169.2 355.3 168.7 356.0 168.2 356.7 167.7 357.4 167.2 358.1 166.7 358.8 166.2 359.5 165.7 360.2 165.2 360.9 164.7 361.6 164.2 362.3 163.7 363.0 163.2 363.7 162.7 364.4 162.2 365.1 161.7 365.8 161.2 366.5 160.7 367.2 160.2 367.9 159.7 368.6 159.2 369.3 158.7 370.0 158.2 370.7 157.7 371.4 157.2 372.1 156.7 372.8 156.2 373.5 155.7 374.2 155.2 374.9 154.7 375.6 154.2 376.3 153.7 377.0 153.2 377.7 152.7 378.4 152.2 379.1 151.7 379.8 151.2 380.5 150.7 381.1 150.2 381.8 149.7 382.5 149.2 376.5 149.2 375.8 149.7 376.1 150.2 375.9 150.7 375.6 151.2 375.1 151.7 374.5 152.2 373.9 152.7 373.3 153.2 372.7 153.7 372.1 154.2 371.4 154.7 370.8 155.2 370.1 155.7 369.5 156.2 368.8 156.7 368.1 157.2 367.5 157.7 366.8 158.2 366.1 158.7 365.4 159.2 364.7 159.7 364.1 160.2 363.4 160.7 362.7 161.2 362.0 161.7 361.3 162.2 360.6 162.7 359.9 163.2 359.3 163.7 358.6 164.2 357.9 164.7 357.2 165.2 356.5 165.7 355.8 166.2 355.1 166.7 354.4 167.2 353.7 167.7 353.0 168.2 352.3 168.7 351.6 169.2 350.9 169.7 350.2 170.2 349.5 170.7 348.8 171.2 348.1 171.7 347.4 172.2 346.7 172.7 346.0 173.2 345.3 173.7 344.6 174.2 343.9 174.7 343.2 175.2 342.5 175.7 341.8 176.2 341.1 176.7 340.4 177.2 339.7 177.7 339.0 178.2 338.3 178.7 337.6 179.2 336.9 179.7 336.2 180.2 335.5 180.7 334.7 181.2 334.0 181.7 333.3 182.2 332.6 182.7 331.9 183.2 331.2 183.7 Z" fill="#007a00"/>
<path d="M399.6 101.9 400.2 101.4 400.8 100.9 401.4 100.4 402.0 99.9 402.6 99.4 403.3 98.9 403.9 98.4 404.5 97.9 405.1 97.4 405.7 96.9 406.3 96.4 406.9 95.9 407.6 95.4 408.2 94.9 408.8 94.4 409.4 93.9 410.0 93.4 410.6 92.9 411.2 92.4 411.8 91.9 412.5 91.4 413.1 90.9 413.7 90.4 414.3 89.9 414.9 89.4 415.5 88.9 416.1 88.4 416.7 87.9 417.3 87.4 418.0 86.9 418.6 86.4 419.2 85.9 419.8 85.4 420.4 84.9 421.0 84.4 421.6 83.9 422.2 83.4 422.8 82.9 423.4 82.4 424.0 81.9 424.6 81.4 425.3 80.9 425.9 80.4 426.5 79.9 427.1 79.4 427.7 78.9 428.3 78.4 428.9 77.9 429.5 77.4 430.1 76.9 430.7 76.4 431.3 75.9 431.9 75.4 432.5 74.9 433.1 74.4 433.7 73.9 434.3 73.4 434.9 72.9 435.5 72.4 436.1 71.9 436.7 71.4 437.3 70.9 437.9 70.4 415.9 70.4 416.8 70.9 419.8 71.4 420.8 71.9 421.2 72.4 421.2 72.9 421.1 73.4 420.9 73.9 420.6 74.4 420.3 74.9 419.9 75.4 419.6 75.9 419.2 76.4 418.8 76.9 418.4 77.4 418.0 77.9 417.5 78.4 417.1 78.9 416.7 79.4 416.2 79.9 415.8 80.4 415.3 80.9 414.9 81.4 414.4 81.9 414.0 82.4 413.5 82.9 413.1 83.4 412.6 83.9 412.1 84.4 411.7 84.9 411.2 85.4 410.7 85.9 410.3 86.4 409.8 86.9 409.3 87.4 408.9 87.9 408.4 88.4 407.9 88.9 407.5 89.4 407.0 89.9 406.5 90.4 406.0 90.9 405.6 91.4 405.1 91.9 404.6 92.4 404.1 92.9 403.7 93.4 403.2 93.9 402.7 94.4 402.2 94.9 401.8 95.4 401.3 95.9 400.8 96.4 400.3 96.9 399.8 97.4 399.4 97.9 398.9 98.4 398.4 98.9 397.9 99.4 397.4 99.9 397.0 100.4 396.5 100.9 396.0 101.4 395.4 101.9 Z" fill="#007a00"/>
<path d="M344.4 145.6 345.1 145.1 345.7 144.6 346.4 144.1 347.0 143.6 347.7 143.1 348.3 142.6 349.0 142.1 349.6 141.6 350.2 141.1 350.9 140.6 351.5 140.1 352.2 139.6 352.8 139.1 353.4 138.6 354.1 138.1 354.7 137.6 355.4 137.1 356.0 136.6 356.6 136.1 357.3 135.6 357.9 135.1 358.5 134.6 359.2 134.1 359.8 133.6 360.5 133.1 361.1 132.6 361.7 132.1 362.4 131.6 363.0 131.1 363.6 130.6 364.3 130.1 364.9 129.6 365.5 129.1 366.2 128.6 366.8 128.1 367.4 127.6 368.1 127.1 368.7 126.6 369.3 126.1 370.0 125.6 370.6 125.1 371.2 124.6 371.8 124.1 372.5 123.6 373.1 123.1 373.7 122.6 374.4 122.1 375.0 121.6 375.6 121.1 376.3 120.6 376.9 120.1 377.5 119.6 378.1 119.1 378.8 118.6 379.4 118.1 380.0 117.6 380.6 117.1 381.3 116.6 381.9 116.1 382.5 115.6 383.2 115.1 383.8 114.6 384.4 114.1 385.0 113.6 385.6 113.1 386.3 112.6 386.9 112.1 387.5 111.6 388.1 111.1 388.8 110.6 389.4 110.1 390.0 109.6 390.6 109.1 391.3 108.6 391.9 108.1 392.5 107.6 393.1 107.1 393.7 106.6 384.7 106.6 384.7 107.1 385.7 107.6 385.9 108.1 385.7 108.6 385.4 109.1 385.0 109.6 384.5 110.1 384.0 110.6 383.5 111.1 383.0 111.6 382.5 112.1 381.9 112.6 381.3 113.1 380.8 113.6 380.2 114.1 379.6 114.6 379.1 115.1 378.5 115.6 377.9 116.1 377.3 116.6 376.7 117.1 376.1 117.6 375.5 118.1 374.9 118.6 374.4 119.1 373.8 119.6 373.2 120.1 372.6 120.6 372.0 121.1 371.4 121.6 370.8 122.1 370.2 122.6 369.6 123.1 369.0 123.6 368.4 124.1 367.8 124.6 367.1 125.1 366.5 125.6 365.9 126.1 365.3 126.6 364.7 127.1 364.1 127.6 363.5 128.1 362.9 128.6 362.3 129.1 361.7 129.6 361.1 130.1 360.5 130.6 359.9 131.1 359.2 131.6 358.6 132.1 358.0 132.6 357.4 133.1 356.8 133.6 356.2 134.1 355.6 134.6 355.0 135.1 354.3 135.6 353.7 136.1 353.1 136.6 352.5 137.1 351.9 137.6 351.3 138.1 350.6 138.6 350.0 139.1 349.4 139.6 348.8 140.1 348.2 140.6 347.6 141.1 346.9 141.6 346.3 142.1 345.7 142.6 345.1 143.1 344.5 143.6 343.8 144.1 343.2 144.6 342.6 145.1 341.9 145.6 Z" fill="#007a00"/>
<path d="M334.0 153.7 334.6 153.2 335.3 152.7 335.9 152.2 336.6 151.7 337.2 151.2 337.9 150.7 338.5 150.2 339.2 149.7 339.8 149.2 338.0 149.2 337.4 149.7 336.7 150.2 336.1 150.7 335.4 151.2 334.8 151.7 334.1 152.2 333.5 152.7 332.8 153.2 332.2 153.7 Z" fill="#007a00"/>
<path d="M409.7 64.1 410.3 63.6 410.9 63.1 411.5 62.6 412.0 62.1 412.6 61.6 413.2 61.1 413.7 60.6 414.3 60.1 414.9 59.6 415.4 59.1 416.0 58.6 416.6 58.1 417.1 57.6 417.7 57.1 418.3 56.6 418.8 56.1 419.4 55.6 420.0 55.1 420.5 54.6 421.1 54.1 421.7 53.6 422.2 53.1 422.8 52.6 423.4 52.1 423.9 51.6 424.5 51.1 425.1 50.6 425.6 50.1 426.2 49.6 426.8 49.1 427.3 48.6 427.9 48.1 428.5 47.6 429.0 47.1 429.6 46.6 430.1 46.1 430.7 45.6 431.3 45.1 431.8 44.6 432.4 44.1 433.0 43.6 433.5 43.1 434.1 42.6 434.6 42.1 435.2 41.6 435.8 41.1 436.3 40.6 436.9 40.1 437.4 39.6 415.4 39.6 418.9 40.1 420.9 40.6 421.5 41.1 421.7 41.6 421.7 42.1 421.6 42.6 421.4 43.1 421.1 43.6 420.8 44.1 420.5 44.6 420.2 45.1 419.9 45.6 419.6 46.1 419.2 46.6 418.9 47.1 418.5 47.6 418.1 48.1 417.8 48.6 417.4 49.1 417.0 49.6 416.7 50.1 416.3 50.6 415.9 51.1 415.5 51.6 415.2 52.1 414.8 52.6 414.4 53.1 414.0 53.6 413.6 54.1 413.2 54.6 412.8 55.1 412.4 55.6 412.1 56.1 411.7 56.6 411.3 57.1 410.9 57.6 410.5 58.1 410.1 58.6 409.7 59.1 409.3 59.6 408.9 60.1 408.5 60.6 408.1 61.1 407.7 61.6 407.3 62.1 406.9 62.6 406.5 63.1 406.1 63.6 405.5 64.1 Z" fill="#007a00"/>
<path d="M365.9 101.9 366.5 101.4 367.1 100.9 367.7 100.4 368.2 99.9 368.8 99.4 369.4 98.9 370.0 98.4 370.6 97.9 371.2 97.4 371.8 96.9 372.4 96.4 372.9 95.9 373.5 95.4 374.1 94.9 374.7 94.4 375.3 93.9 375.9 93.4 376.5 92.9 377.0 92.4 377.6 91.9 378.2 91.4 378.8 90.9 379.4 90.4 380.0 89.9 380.5 89.4 381.1 88.9 381.7 88.4 382.3 87.9 382.9 87.4 383.5 86.9 384.0 86.4 384.6 85.9 385.2 85.4 385.8 84.9 386.4 84.4 386.9 83.9 387.5 83.4 388.1 82.9 388.7 82.4 389.3 81.9 389.8 81.4 390.4 80.9 391.0 80.4 391.6 79.9 392.2 79.4 392.7 78.9 393.3 78.4 393.9 77.9 394.5 77.4 395.0 76.9 395.6 76.4 396.2 75.9 396.8 75.4 397.4 74.9 397.9 74.4 398.5 73.9 399.1 73.4 399.7 72.9 400.2 72.4 400.8 71.9 401.4 71.4 402.0 70.9 402.5 70.4 393.8 70.4 393.8 70.9 394.7 71.4 394.8 71.9 394.6 72.4 394.3 72.9 393.9 73.4 393.5 73.9 393.0 74.4 392.5 74.9 392.1 75.4 391.6 75.9 391.1 76.4 390.6 76.9 390.1 77.4 389.6 77.9 389.1 78.4 388.6 78.9 388.1 79.4 387.6 79.9 387.1 80.4 386.5 80.9 386.0 81.4 385.5 81.9 385.0 82.4 384.5 82.9 383.9 83.4 383.4 83.9 382.9 84.4 382.4 84.9 381.9 85.4 381.3 85.9 380.8 86.4 380.3 86.9 379.8 87.4 379.2 87.9 378.7 88.4 378.2 88.9 377.6 89.4 377.1 89.9 376.6 90.4 376.1 90.9 375.5 91.4 375.0 91.9 374.5 92.4 373.9 92.9 373.4 93.4 372.9 93.9 372.4 94.4 371.8 94.9 371.3 95.4 370.8 95.9 370.2 96.4 369.7 96.9 369.2 97.4 368.6 97.9 368.1 98.4 367.6 98.9 367.0 99.4 366.5 99.9 366.0 100.4 365.4 100.9 364.9 101.4 364.3 101.9 Z" fill="#007a00"/>
<path d="M336.4 126.6 337.0 126.1 337.6 125.6 338.2 125.1 338.8 124.6 339.4 124.1 340.0 123.6 340.6 123.1 341.2 122.6 341.8 122.1 342.4 121.6 343.0 121.1 343.6 120.6 344.2 120.1 344.8 119.6 345.4 119.1 346.0 118.6 346.6 118.1 347.2 117.6 347.8 117.1 348.4 116.6 349.0 116.1 349.6 115.6 350.2 115.1 350.8 114.6 351.4 114.1 352.0 113.6 352.6 113.1 353.2 112.6 353.8 112.1 354.4 111.6 355.0 111.1 355.6 110.6 356.2 110.1 356.8 109.6 357.4 109.1 358.0 108.6 358.6 108.1 359.1 107.6 359.7 107.1 360.3 106.6 357.5 106.6 356.9 107.1 356.4 107.6 355.8 108.1 355.2 108.6 354.6 109.1 354.0 109.6 353.4 110.1 352.9 110.6 352.3 111.1 351.7 111.6 351.1 112.1 350.5 112.6 349.9 113.1 349.3 113.6 348.8 114.1 348.2 114.6 347.6 115.1 347.0 115.6 346.4 116.1 345.8 116.6 345.2 117.1 344.7 117.6 344.1 118.1 343.5 118.6 342.9 119.1 342.3 119.6 341.7 120.1 341.1 120.6 340.5 121.1 339.9 121.6 339.4 122.1 338.8 122.6 338.2 123.1 337.6 123.6 337.0 124.1 336.4 124.6 335.8 125.1 335.2 125.6 334.6 126.1 334.0 126.6 Z" fill="#007a00"/>
<path d="M416.5 31.3 417.1 30.8 417.6 30.3 418.2 29.8 418.7 29.3 419.2 28.8 419.8 28.3 420.3 27.8 420.9 27.3 421.4 26.8 416.9 26.8 416.4 27.3 415.8 27.8 415.3 28.3 414.7 28.8 414.2 29.3 413.7 29.8 413.1 30.3 412.6 30.8 412.0 31.3 Z" fill="#007a00"/>
<path d="M380.8 64.1 381.3 63.6 381.9 63.1 382.4 62.6 383.0 62.1 383.5 61.6 384.1 61.1 384.6 60.6 385.2 60.1 385.7 59.6 386.3 59.1 386.8 58.6 387.4 58.1 387.9 57.6 388.5 57.1 389.0 56.6 389.6 56.1 390.1 55.6 390.7 55.1 391.2 54.6 391.8 54.1 392.3 53.6 392.9 53.1 393.4 52.6 394.0 52.1 394.5 51.6 395.1 51.1 395.6 50.6 396.1 50.1 396.7 49.6 397.2 49.1 397.8 48.6 398.3 48.1 398.9 47.6 399.4 47.1 400.0 46.6 400.5 46.1 401.1 45.6 401.6 45.1 402.1 44.6 402.7 44.1 403.2 43.6 403.8 43.1 404.3 42.6 404.9 42.1 405.4 41.6 406.0 41.1 406.5 40.6 407.0 40.1 407.6 39.6 398.9 39.6 399.9 40.1 400.4 40.6 400.3 41.1 400.1 41.6 399.8 42.1 399.4 42.6 399.0 43.1 398.6 43.6 398.2 44.1 397.7 44.6 397.3 45.1 396.8 45.6 396.4 46.1 395.9 46.6 395.4 47.1 395.0 47.6 394.5 48.1 394.0 48.6 393.6 49.1 393.1 49.6 392.6 50.1 392.2 50.6 391.7 51.1 391.2 51.6 390.8 52.1 390.3 52.6 389.8 53.1 389.3 53.6 388.8 54.1 388.4 54.6 387.9 55.1 387.4 55.6 386.9 56.1 386.5 56.6 386.0 57.1 385.5 57.6 385.0 58.1 384.5 58.6 384.1 59.1 383.6 59.6 383.1 60.1 382.6 60.6 382.1 61.1 381.7 61.6 381.2 62.1 380.7 62.6 380.2 63.1 379.7 63.6 379.2 64.1 Z" fill="#007a00"/>
<path d="M338.3 101.9 338.8 101.4 339.4 100.9 340.0 100.4 340.6 99.9 341.1 99.4 341.7 98.9 342.3 98.4 342.8 97.9 343.4 97.4 344.0 96.9 344.5 96.4 345.1 95.9 345.7 95.4 346.2 94.9 346.8 94.4 347.4 93.9 347.9 93.4 348.5 92.9 349.1 92.4 349.6 91.9 350.2 91.4 350.8 90.9 351.3 90.4 351.9 89.9 352.5 89.4 353.0 88.9 353.6 88.4 354.2 87.9 354.7 87.4 355.3 86.9 355.9 86.4 356.4 85.9 357.0 85.4 357.6 84.9 358.1 84.4 358.7 83.9 359.2 83.4 359.8 82.9 360.4 82.4 360.9 81.9 361.5 81.4 362.0 80.9 362.6 80.4 363.2 79.9 363.7 79.4 364.3 78.9 364.8 78.4 365.4 77.9 366.0 77.4 366.5 76.9 367.1 76.4 367.6 75.9 368.2 75.4 368.8 74.9 369.3 74.4 369.9 73.9 370.4 73.4 371.0 72.9 371.5 72.4 372.1 71.9 372.7 71.4 373.2 70.9 373.8 70.4 361.7 70.4 361.8 70.9 363.1 71.4 363.3 71.9 363.2 72.4 362.9 72.9 362.6 73.4 362.2 73.9 361.8 74.4 361.4 74.9 360.9 75.4 360.4 75.9 360.0 76.4 359.5 76.9 359.0 77.4 358.5 77.9 358.0 78.4 357.5 78.9 357.0 79.4 356.5 79.9 356.0 80.4 355.5 80.9 355.0 81.4 354.5 81.9 354.0 82.4 353.5 82.9 353.0 83.4 352.5 83.9 352.0 84.4 351.4 84.9 350.9 85.4 350.4 85.9 349.9 86.4 349.4 86.9 348.9 87.4 348.4 87.9 347.8 88.4 347.3 88.9 346.8 89.4 346.3 89.9 345.8 90.4 345.2 90.9 344.7 91.4 344.2 91.9 343.7 92.4 343.2 92.9 342.6 93.4 342.1 93.9 341.6 94.4 341.1 94.9 340.5 95.4 340.0 95.9 339.5 96.4 339.0 96.9 338.5 97.4 337.9 97.9 337.4 98.4 336.9 98.9 336.4 99.4 335.8 99.9 335.3 100.4 334.8 100.9 334.2 101.4 333.7 101.9 Z" fill="#007a00"/>
<path d="M389.9 31.3 390.4 30.8 390.9 30.3 391.4 29.8 391.9 29.3 392.5 28.8 393.0 28.3 393.5 27.8 394.0 27.3 394.6 26.8 392.6 26.8 392.0 27.3 391.5 27.8 391.0 28.3 390.5 28.8 389.9 29.3 389.4 29.8 388.9 30.3 388.4 30.8 387.9 31.3 Z" fill="#007a00"/>
<path d="M355.1 64.1 355.7 63.6 356.2 63.1 356.7 62.6 357.3 62.1 357.8 61.6 358.3 61.1 358.9 60.6 359.4 60.1 359.9 59.6 360.5 59.1 361.0 58.6 361.5 58.1 362.1 57.6 362.6 57.1 363.1 56.6 363.7 56.1 364.2 55.6 364.7 55.1 365.3 54.6 365.8 54.1 366.3 53.6 366.9 53.1 367.4 52.6 367.9 52.1 368.5 51.6 369.0 51.1 369.5 50.6 370.1 50.1 370.6 49.6 371.1 49.1 371.6 48.6 372.2 48.1 372.7 47.6 373.2 47.1 373.8 46.6 374.3 46.1 374.8 45.6 375.4 45.1 375.9 44.6 376.4 44.1 376.9 43.6 377.5 43.1 378.0 42.6 378.5 42.1 379.0 41.6 379.6 41.1 380.1 40.6 380.6 40.1 381.2 39.6 369.1 39.6 370.5 40.1 371.2 40.6 371.3 41.1 371.1 41.6 370.8 42.1 370.5 42.6 370.1 43.1 369.7 43.6 369.3 44.1 368.9 44.6 368.4 45.1 368.0 45.6 367.5 46.1 367.1 46.6 366.6 47.1 366.2 47.6 365.7 48.1 365.3 48.6 364.8 49.1 364.3 49.6 363.9 50.1 363.4 50.6 362.9 51.1 362.5 51.6 362.0 52.1 361.5 52.6 361.1 53.1 360.6 53.6 360.1 54.1 359.6 54.6 359.2 55.1 358.7 55.6 358.2 56.1 357.7 56.6 357.3 57.1 356.8 57.6 356.3 58.1 355.8 58.6 355.4 59.1 354.9 59.6 354.4 60.1 353.9 60.6 353.5 61.1 353.0 61.6 352.5 62.1 352.0 62.6 351.5 63.1 351.1 63.6 350.5 64.1 Z" fill="#007a00"/>
<path d="M343.5 74.9 344.0 74.4 344.6 73.9 345.1 73.4 345.6 72.9 346.2 72.4 346.7 71.9 347.3 71.4 347.8 70.9 348.3 70.4 346.1 70.4 345.6 70.9 345.1 71.4 344.5 71.9 344.0 72.4 343.4 72.9 342.9 73.4 342.4 73.9 341.8 74.4 341.3 74.9 Z" fill="#007a00"/>
<path d="M364.9 31.3 365.4 30.8 365.9 30.3 366.4 29.8 366.9 29.3 367.4 28.8 367.9 28.3 368.4 27.8 368.9 27.3 369.4 26.8 365.4 26.8 364.9 27.3 364.4 27.8 363.9 28.3 363.4 28.8 362.9 29.3 362.4 29.8 361.9 30.3 361.4 30.8 360.9 31.3 Z" fill="#007a00"/>
<path d="M333.6 62.1 334.1 61.6 334.6 61.1 335.1 60.6 335.6 60.1 336.1 59.6 336.6 59.1 337.2 58.6 337.7 58.1 338.2 57.6 336.4 57.6 335.9 58.1 335.4 58.6 334.8 59.1 334.3 59.6 333.8 60.1 333.3 60.6 332.8 61.1 332.3 61.6 331.8 62.1 Z" fill="#007a00"/>
<path d="M340.8 55.1 341.3 54.6 341.8 54.1 342.3 53.6 342.8 53.1 343.3 52.6 343.8 52.1 344.3 51.6 344.9 51.1 345.4 50.6 345.9 50.1 346.4 49.6 346.9 49.1 345.1 49.1 344.6 49.6 344.1 50.1 343.6 50.6 343.1 51.1 342.5 51.6 342.0 52.1 341.5 52.6 341.0 53.1 340.5 53.6 340.0 54.1 339.5 54.6 339.0 55.1 Z" fill="#007a00"/>
<path d="M344.9 31.3 345.3 30.8 345.8 30.3 346.3 29.8 346.8 29.3 347.3 28.8 347.8 28.3 348.3 27.8 348.8 27.3 349.3 26.8 347.3 26.8 346.8 27.3 346.3 27.8 345.8 28.3 345.3 28.8 344.8 29.3 344.3 29.8 343.8 30.3 343.3 30.8 342.9 31.3 Z" fill="#007a00"/>
<path d="M177.5 31.00q1.64 -1.3 3.27 0q1.64 -1.3 3.27 0q1.64 -1.3 3.27 0q1.64 -1.3 3.27 0q1.64 -1.3 3.27 0q1.64 -1.3 3.27 0q1.64 -1.3 3.27 0q1.64 -1.3 3.27 0q1.64 -1.3 3.27 0q1.64 -1.3 3.27 0q1.64 -1.3 3.27 0q1.64 -1.3 3.27 0q1.64 -1.3 3.27 0q1.64 -1.3 3.27 0q1.64 -1.3 3.27 0q1.64 -1.3 3.27 0q1.64 -1.3 3.27 0q1.64 -1.3 3.27 0q1.64 -1.3 3.27 0q1.64 -1.3 3.27 0q1.64 -1.3 3.27 0q1.64 -1.3 3.27 0q1.64 -1.3 3.27 0q1.64 -1.3 3.27 0q1.64 -1.3 3.27 0q1.64 -1.3 3.27 0q1.64 -1.3 3.27 0q1.64 -1.3 3.27 0q1.64 -1.3 3.27 0q1.64 -1.3 3.27 0q1.64 -1.3 3.27 0q1.64 -1.3 3.27 0q1.64 -1.3 3.27 0q1.64 -1.3 3.27 0q1.64 -1.3 3.27 0q1.64 -1.3 3.27 0q1.64 -1.3 3.27 0q1.64 -1.3 3.27 0q1.64 -1.3 3.27 0q1.64 -1.3 3.27 0q1.64 -1.3 3.27 0q1.64 -1.3 3.27 0q1.64 -1.3 3.27 0q1.64 -1.3 3.27 0q1.64 -1.3 3.27 0q1.64 -1.3 3.27 0q1.64 -1.3 3.27 0q1.64 -1.3 3.27 0q1.64 -1.3 3.27 0q1.64 -1.3 3.27 0q1.64 -1.3 3.27 0q1.64 -1.3 3.27 0q1.64 -1.3 3.27 0q1.64 -1.3 3.27 0q1.64 -1.3 3.27 0q1.64 -1.3 3.27 0q1.64 -1.3 3.27 0q1.64 -1.3 3.27 0q1.64 -1.3 3.27 0q1.64 -1.3 3.27 0q1.64 -1.3 3.27 0q1.64 -1.3 3.27 0q1.64 -1.3 3.27 0q1.64 -1.3 3.27 0q1.64 -1.3 3.27 0q1.64 -1.3 3.27 0q1.64 -1.3 3.27 0q1.64 -1.3 3.27 0q1.64 -1.3 3.27 0q1.64 -1.3 3.27 0q1.64 -1.3 3.27 0q1.64 -1.3 3.27 0q1.64 -1.3 3.27 0q1.64 -1.3 3.27 0q1.64 -1.3 3.27 0q1.64 -1.3 3.27 0q1.64 -1.3 3.27 0q1.64 -1.3 3.27 0q1.64 -1.3 3.27 0q1.64 -1.3 3.27 0q1.64 -1.3 3.27 0q1.64 -1.3 3.27 0V39.50q-1.64 1.3 -3.27 0q-1.64 1.3 -3.27 0q-1.64 1.3 -3.27 0q-1.64 1.3 -3.27 0q-1.64 1.3 -3.27 0q-1.64 1.3 -3.27 0q-1.64 1.3 -3.27 0q-1.64 1.3 -3.27 0q-1.64 1.3 -3.27 0q-1.64 1.3 -3.27 0q-1.64 1.3 -3.27 0q-1.64 1.3 -3.27 0q-1.64 1.3 -3.27 0q-1.64 1.3 -3.27 0q-1.64 1.3 -3.27 0q-1.64 1.3 -3.27 0q-1.64 1.3 -3.27 0q-1.64 1.3 -3.27 0q-1.64 1.3 -3.27 0q-1.64 1.3 -3.27 0q-1.64 1.3 -3.27 0q-1.64 1.3 -3.27 0q-1.64 1.3 -3.27 0q-1.64 1.3 -3.27 0q-1.64 1.3 -3.27 0q-1.64 1.3 -3.27 0q-1.64 1.3 -3.27 0q-1.64 1.3 -3.27 0q-1.64 1.3 -3.27 0q-1.64 1.3 -3.27 0q-1.64 1.3 -3.27 0q-1.64 1.3 -3.27 0q-1.64 1.3 -3.27 0q-1.64 1.3 -3.27 0q-1.64 1.3 -3.27 0q-1.64 1.3 -3.27 0q-1.64 1.3 -3.27 0q-1.64 1.3 -3.27 0q-1.64 1.3 -3.27 0q-1.64 1.3 -3.27 0q-1.64 1.3 -3.27 0q-1.64 1.3 -3.27 0q-1.64 1.3 -3.27 0q-1.64 1.3 -3.27 0q-1.64 1.3 -3.27 0q-1.64 1.3 -3.27 0q-1.64 1.3 -3.27 0q-1.64 1.3 -3.27 0q-1.64 1.3 -3.27 0q-1.64 1.3 -3.27 0q-1.64 1.3 -3.27 0q-1.64 1.3 -3.27 0q-1.64 1.3 -3.27 0q-1.64 1.3 -3.27 0q-1.64 1.3 -3.27 0q-1.64 1.3 -3.27 0q-1.64 1.3 -3.27 0q-1.64 1.3 -3.27 0q-1.64 1.3 -3.27 0q-1.64 1.3 -3.27 0q-1.64 1.3 -3.27 0q-1.64 1.3 -3.27 0q-1.64 1.3 -3.27 0q-1.64 1.3 -3.27 0q-1.64 1.3 -3.27 0q-1.64 1.3 -3.27 0q-1.64 1.3 -3.27 0q-1.64 1.3 -3.27 0q-1.64 1.3 -3.27 0q-1.64 1.3 -3.27 0q-1.64 1.3 -3.27 0q-1.64 1.3 -3.27 0q-1.64 1.3 -3.27 0q-1.64 1.3 -3.27 0q-1.64 1.3 -3.27 0q-1.64 1.3 -3.27 0q-1.64 1.3 -3.27 0q-1.64 1.3 -3.27 0q-1.64 1.3 -3.27 0q-1.64 1.3 -3.27 0q-1.64 1.3 -3.27 0q-1.64 1.3 -3.27 0Z" fill="#007a00"/>
<path d="M163.0 63.80q1.65 -1.3 3.29 0q1.65 -1.3 3.29 0q1.65 -1.3 3.29 0q1.65 -1.3 3.29 0q1.65 -1.3 3.29 0q1.65 -1.3 3.29 0q1.65 -1.3 3.29 0q1.65 -1.3 3.29 0q1.65 -1.3 3.29 0q1.65 -1.3 3.29 0q1.65 -1.3 3.29 0q1.65 -1.3 3.29 0q1.65 -1.3 3.29 0q1.65 -1.3 3.29 0q1.65 -1.3 3.29 0q1.65 -1.3 3.29 0q1.65 -1.3 3.29 0q1.65 -1.3 3.29 0q1.65 -1.3 3.29 0q1.65 -1.3 3.29 0q1.65 -1.3 3.29 0q1.65 -1.3 3.29 0q1.65 -1.3 3.29 0q1.65 -1.3 3.29 0q1.65 -1.3 3.29 0q1.65 -1.3 3.29 0q1.65 -1.3 3.29 0q1.65 -1.3 3.29 0q1.65 -1.3 3.29 0q1.65 -1.3 3.29 0q1.65 -1.3 3.29 0q1.65 -1.3 3.29 0q1.65 -1.3 3.29 0q1.65 -1.3 3.29 0q1.65 -1.3 3.29 0q1.65 -1.3 3.29 0q1.65 -1.3 3.29 0q1.65 -1.3 3.29 0q1.65 -1.3 3.29 0q1.65 -1.3 3.29 0q1.65 -1.3 3.29 0q1.65 -1.3 3.29 0q1.65 -1.3 3.29 0q1.65 -1.3 3.29 0q1.65 -1.3 3.29 0q1.65 -1.3 3.29 0q1.65 -1.3 3.29 0q1.65 -1.3 3.29 0q1.65 -1.3 3.29 0q1.65 -1.3 3.29 0q1.65 -1.3 3.29 0q1.65 -1.3 3.29 0q1.65 -1.3 3.29 0q1.65 -1.3 3.29 0q1.65 -1.3 3.29 0q1.65 -1.3 3.29 0q1.65 -1.3 3.29 0q1.65 -1.3 3.29 0q1.65 -1.3 3.29 0q1.65 -1.3 3.29 0q1.65 -1.3 3.29 0q1.65 -1.3 3.29 0q1.65 -1.3 3.29 0q1.65 -1.3 3.29 0q1.65 -1.3 3.29 0q1.65 -1.3 3.29 0q1.65 -1.3 3.29 0q1.65 -1.3 3.29 0q1.65 -1.3 3.29 0q1.65 -1.3 3.29 0q1.65 -1.3 3.29 0q1.65 -1.3 3.29 0q1.65 -1.3 3.29 0q1.65 -1.3 3.29 0q1.65 -1.3 3.29 0q1.65 -1.3 3.29 0q1.65 -1.3 3.29 0q1.65 -1.3 3.29 0q1.65 -1.3 3.29 0q1.65 -1.3 3.29 0q1.65 -1.3 3.29 0q1.65 -1.3 3.29 0q1.65 -1.3 3.29 0q1.65 -1.3 3.29 0q1.65 -1.3 3.29 0q1.65 -1.3 3.29 0V70.50q-1.65 1.3 -3.29 0q-1.65 1.3 -3.29 0q-1.65 1.3 -3.29 0q-1.65 1.3 -3.29 0q-1.65 1.3 -3.29 0q-1.65 1.3 -3.29 0q-1.65 1.3 -3.29 0q-1.65 1.3 -3.29 0q-1.65 1.3 -3.29 0q-1.65 1.3 -3.29 0q-1.65 1.3 -3.29 0q-1.65 1.3 -3.29 0q-1.65 1.3 -3.29 0q-1.65 1.3 -3.29 0q-1.65 1.3 -3.29 0q-1.65 1.3 -3.29 0q-1.65 1.3 -3.29 0q-1.65 1.3 -3.29 0q-1.65 1.3 -3.29 0q-1.65 1.3 -3.29 0q-1.65 1.3 -3.29 0q-1.65 1.3 -3.29 0q-1.65 1.3 -3.29 0q-1.65 1.3 -3.29 0q-1.65 1.3 -3.29 0q-1.65 1.3 -3.29 0q-1.65 1.3 -3.29 0q-1.65 1.3 -3.29 0q-1.65 1.3 -3.29 0q-1.65 1.3 -3.29 0q-1.65 1.3 -3.29 0q-1.65 1.3 -3.29 0q-1.65 1.3 -3.29 0q-1.65 1.3 -3.29 0q-1.65 1.3 -3.29 0q-1.65 1.3 -3.29 0q-1.65 1.3 -3.29 0q-1.65 1.3 -3.29 0q-1.65 1.3 -3.29 0q-1.65 1.3 -3.29 0q-1.65 1.3 -3.29 0q-1.65 1.3 -3.29 0q-1.65 1.3 -3.29 0q-1.65 1.3 -3.29 0q-1.65 1.3 -3.29 0q-1.65 1.3 -3.29 0q-1.65 1.3 -3.29 0q-1.65 1.3 -3.29 0q-1.65 1.3 -3.29 0q-1.65 1.3 -3.29 0q-1.65 1.3 -3.29 0q-1.65 1.3 -3.29 0q-1.65 1.3 -3.29 0q-1.65 1.3 -3.29 0q-1.65 1.3 -3.29 0q-1.65 1.3 -3.29 0q-1.65 1.3 -3.29 0q-1.65 1.3 -3.29 0q-1.65 1.3 -3.29 0q-1.65 1.3 -3.29 0q-1.65 1.3 -3.29 0q-1.65 1.3 -3.29 0q-1.65 1.3 -3.29 0q-1.65 1.3 -3.29 0q-1.65 1.3 -3.29 0q-1.65 1.3 -3.29 0q-1.65 1.3 -3.29 0q-1.65 1.3 -3.29 0q-1.65 1.3 -3.29 0q-1.65 1.3 -3.29 0q-1.65 1.3 -3.29 0q-1.65 1.3 -3.29 0q-1.65 1.3 -3.29 0q-1.65 1.3 -3.29 0q-1.65 1.3 -3.29 0q-1.65 1.3 -3.29 0q-1.65 1.3 -3.29 0q-1.65 1.3 -3.29 0q-1.65 1.3 -3.29 0q-1.65 1.3 -3.29 0q-1.65 1.3 -3.29 0q-1.65 1.3 -3.29 0q-1.65 1.3 -3.29 0q-1.65 1.3 -3.29 0q-1.65 1.3 -3.29 0q-1.65 1.3 -3.29 0Z" fill="#007a00"/>
<path d="M149.0 101.60q1.63 -1.3 3.26 0q1.63 -1.3 3.26 0q1.63 -1.3 3.26 0q1.63 -1.3 3.26 0q1.63 -1.3 3.26 0q1.63 -1.3 3.26 0q1.63 -1.3 3.26 0q1.63 -1.3 3.26 0q1.63 -1.3 3.26 0q1.63 -1.3 3.26 0q1.63 -1.3 3.26 0q1.63 -1.3 3.26 0q1.63 -1.3 3.26 0q1.63 -1.3 3.26 0q1.63 -1.3 3.26 0q1.63 -1.3 3.26 0q1.63 -1.3 3.26 0q1.63 -1.3 3.26 0q1.63 -1.3 3.26 0q1.63 -1.3 3.26 0q1.63 -1.3 3.26 0q1.63 -1.3 3.26 0q1.63 -1.3 3.26 0q1.63 -1.3 3.26 0q1.63 -1.3 3.26 0q1.63 -1.3 3.26 0q1.63 -1.3 3.26 0q1.63 -1.3 3.26 0q1.63 -1.3 3.26 0q1.63 -1.3 3.26 0q1.63 -1.3 3.26 0q1.63 -1.3 3.26 0q1.63 -1.3 3.26 0q1.63 -1.3 3.26 0q1.63 -1.3 3.26 0q1.63 -1.3 3.26 0q1.63 -1.3 3.26 0q1.63 -1.3 3.26 0q1.63 -1.3 3.26 0q1.63 -1.3 3.26 0q1.63 -1.3 3.26 0q1.63 -1.3 3.26 0q1.63 -1.3 3.26 0q1.63 -1.3 3.26 0q1.63 -1.3 3.26 0q1.63 -1.3 3.26 0q1.63 -1.3 3.26 0q1.63 -1.3 3.26 0q1.63 -1.3 3.26 0q1.63 -1.3 3.26 0q1.63 -1.3 3.26 0q1.63 -1.3 3.26 0q1.63 -1.3 3.26 0q1.63 -1.3 3.26 0q1.63 -1.3 3.26 0q1.63 -1.3 3.26 0q1.63 -1.3 3.26 0q1.63 -1.3 3.26 0q1.63 -1.3 3.26 0q1.63 -1.3 3.26 0q1.63 -1.3 3.26 0q1.63 -1.3 3.26 0q1.63 -1.3 3.26 0q1.63 -1.3 3.26 0q1.63 -1.3 3.26 0q1.63 -1.3 3.26 0q1.63 -1.3 3.26 0q1.63 -1.3 3.26 0q1.63 -1.3 3.26 0q1.63 -1.3 3.26 0q1.63 -1.3 3.26 0q1.63 -1.3 3.26 0q1.63 -1.3 3.26 0q1.63 -1.3 3.26 0q1.63 -1.3 3.26 0q1.63 -1.3 3.26 0q1.63 -1.3 3.26 0q1.63 -1.3 3.26 0q1.63 -1.3 3.26 0q1.63 -1.3 3.26 0q1.63 -1.3 3.26 0q1.63 -1.3 3.26 0q1.63 -1.3 3.26 0q1.63 -1.3 3.26 0q1.63 -1.3 3.26 0q1.63 -1.3 3.26 0q1.63 -1.3 3.26 0q1.63 -1.3 3.26 0q1.63 -1.3 3.26 0q1.63 -1.3 3.26 0q1.63 -1.3 3.26 0V106.70q-1.63 1.3 -3.26 0q-1.63 1.3 -3.26 0q-1.63 1.3 -3.26 0q-1.63 1.3 -3.26 0q-1.63 1.3 -3.26 0q-1.63 1.3 -3.26 0q-1.63 1.3 -3.26 0q-1.63 1.3 -3.26 0q-1.63 1.3 -3.26 0q-1.63 1.3 -3.26 0q-1.63 1.3 -3.26 0q-1.63 1.3 -3.26 0q-1.63 1.3 -3.26 0q-1.63 1.3 -3.26 0q-1.63 1.3 -3.26 0q-1.63 1.3 -3.26 0q-1.63 1.3 -3.26 0q-1.63 1.3 -3.26 0q-1.63 1.3 -3.26 0q-1.63 1.3 -3.26 0q-1.63 1.3 -3.26 0q-1.63 1.3 -3.26 0q-1.63 1.3 -3.26 0q-1.63 1.3 -3.26 0q-1.63 1.3 -3.26 0q-1.63 1.3 -3.26 0q-1.63 1.3 -3.26 0q-1.63 1.3 -3.26 0q-1.63 1.3 -3.26 0q-1.63 1.3 -3.26 0q-1.63 1.3 -3.26 0q-1.63 1.3 -3.26 0q-1.63 1.3 -3.26 0q-1.63 1.3 -3.26 0q-1.63 1.3 -3.26 0q-1.63 1.3 -3.26 0q-1.63 1.3 -3.26 0q-1.63 1.3 -3.26 0q-1.63 1.3 -3.26 0q-1.63 1.3 -3.26 0q-1.63 1.3 -3.26 0q-1.63 1.3 -3.26 0q-1.63 1.3 -3.26 0q-1.63 1.3 -3.26 0q-1.63 1.3 -3.26 0q-1.63 1.3 -3.26 0q-1.63 1.3 -3.26 0q-1.63 1.3 -3.26 0q-1.63 1.3 -3.26 0q-1.63 1.3 -3.26 0q-1.63 1.3 -3.26 0q-1.63 1.3 -3.26 0q-1.63 1.3 -3.26 0q-1.63 1.3 -3.26 0q-1.63 1.3 -3.26 0q-1.63 1.3 -3.26 0q-1.63 1.3 -3.26 0q-1.63 1.3 -3.26 0q-1.63 1.3 -3.26 0q-1.63 1.3 -3.26 0q-1.63 1.3 -3.26 0q-1.63 1.3 -3.26 0q-1.63 1.3 -3.26 0q-1.63 1.3 -3.26 0q-1.63 1.3 -3.26 0q-1.63 1.3 -3.26 0q-1.63 1.3 -3.26 0q-1.63 1.3 -3.26 0q-1.63 1.3 -3.26 0q-1.63 1.3 -3.26 0q-1.63 1.3 -3.26 0q-1.63 1.3 -3.26 0q-1.63 1.3 -3.26 0q-1.63 1.3 -3.26 0q-1.63 1.3 -3.26 0q-1.63 1.3 -3.26 0q-1.63 1.3 -3.26 0q-1.63 1.3 -3.26 0q-1.63 1.3 -3.26 0q-1.63 1.3 -3.26 0q-1.63 1.3 -3.26 0q-1.63 1.3 -3.26 0q-1.63 1.3 -3.26 0q-1.63 1.3 -3.26 0q-1.63 1.3 -3.26 0q-1.63 1.3 -3.26 0q-1.63 1.3 -3.26 0q-1.63 1.3 -3.26 0q-1.63 1.3 -3.26 0q-1.63 1.3 -3.26 0q-1.63 1.3 -3.26 0Z" fill="#007a00"/>
<path d="M131.0 145.30q1.64 -1.3 3.28 0q1.64 -1.3 3.28 0q1.64 -1.3 3.28 0q1.64 -1.3 3.28 0q1.64 -1.3 3.28 0q1.64 -1.3 3.28 0q1.64 -1.3 3.28 0q1.64 -1.3 3.28 0q1.64 -1.3 3.28 0q1.64 -1.3 3.28 0q1.64 -1.3 3.28 0q1.64 -1.3 3.28 0q1.64 -1.3 3.28 0q1.64 -1.3 3.28 0q1.64 -1.3 3.28 0q1.64 -1.3 3.28 0q1.64 -1.3 3.28 0q1.64 -1.3 3.28 0q1.64 -1.3 3.28 0q1.64 -1.3 3.28 0q1.64 -1.3 3.28 0q1.64 -1.3 3.28 0q1.64 -1.3 3.28 0q1.64 -1.3 3.28 0q1.64 -1.3 3.28 0q1.64 -1.3 3.28 0q1.64 -1.3 3.28 0q1.64 -1.3 3.28 0q1.64 -1.3 3.28 0q1.64 -1.3 3.28 0q1.64 -1.3 3.28 0q1.64 -1.3 3.28 0q1.64 -1.3 3.28 0q1.64 -1.3 3.28 0q1.64 -1.3 3.28 0q1.64 -1.3 3.28 0q1.64 -1.3 3.28 0q1.64 -1.3 3.28 0q1.64 -1.3 3.28 0q1.64 -1.3 3.28 0q1.64 -1.3 3.28 0q1.64 -1.3 3.28 0q1.64 -1.3 3.28 0q1.64 -1.3 3.28 0q1.64 -1.3 3.28 0q1.64 -1.3 3.28 0q1.64 -1.3 3.28 0q1.64 -1.3 3.28 0q1.64 -1.3 3.28 0q1.64 -1.3 3.28 0q1.64 -1.3 3.28 0q1.64 -1.3 3.28 0q1.64 -1.3 3.28 0q1.64 -1.3 3.28 0q1.64 -1.3 3.28 0q1.64 -1.3 3.28 0q1.64 -1.3 3.28 0q1.64 -1.3 3.28 0q1.64 -1.3 3.28 0q1.64 -1.3 3.28 0q1.64 -1.3 3.28 0q1.64 -1.3 3.28 0q1.64 -1.3 3.28 0q1.64 -1.3 3.28 0q1.64 -1.3 3.28 0q1.64 -1.3 3.28 0q1.64 -1.3 3.28 0q1.64 -1.3 3.28 0q1.64 -1.3 3.28 0q1.64 -1.3 3.28 0q1.64 -1.3 3.28 0q1.64 -1.3 3.28 0q1.64 -1.3 3.28 0q1.64 -1.3 3.28 0q1.64 -1.3 3.28 0q1.64 -1.3 3.28 0q1.64 -1.3 3.28 0q1.64 -1.3 3.28 0q1.64 -1.3 3.28 0q1.64 -1.3 3.28 0q1.64 -1.3 3.28 0q1.64 -1.3 3.28 0q1.64 -1.3 3.28 0q1.64 -1.3 3.28 0q1.64 -1.3 3.28 0q1.64 -1.3 3.28 0q1.64 -1.3 3.28 0q1.64 -1.3 3.28 0q1.64 -1.3 3.28 0q1.64 -1.3 3.28 0q1.64 -1.3 3.28 0q1.64 -1.3 3.28 0q1.64 -1.3 3.28 0q1.64 -1.3 3.28 0q1.64 -1.3 3.28 0q1.64 -1.3 3.28 0V149.40q-1.64 1.3 -3.28 0q-1.64 1.3 -3.28 0q-1.64 1.3 -3.28 0q-1.64 1.3 -3.28 0q-1.64 1.3 -3.28 0q-1.64 1.3 -3.28 0q-1.64 1.3 -3.28 0q-1.64 1.3 -3.28 0q-1.64 1.3 -3.28 0q-1.64 1.3 -3.28 0q-1.64 1.3 -3.28 0q-1.64 1.3 -3.28 0q-1.64 1.3 -3.28 0q-1.64 1.3 -3.28 0q-1.64 1.3 -3.28 0q-1.64 1.3 -3.28 0q-1.64 1.3 -3.28 0q-1.64 1.3 -3.28 0q-1.64 1.3 -3.28 0q-1.64 1.3 -3.28 0q-1.64 1.3 -3.28 0q-1.64 1.3 -3.28 0q-1.64 1.3 -3.28 0q-1.64 1.3 -3.28 0q-1.64 1.3 -3.28 0q-1.64 1.3 -3.28 0q-1.64 1.3 -3.28 0q-1.64 1.3 -3.28 0q-1.64 1.3 -3.28 0q-1.64 1.3 -3.28 0q-1.64 1.3 -3.28 0q-1.64 1.3 -3.28 0q-1.64 1.3 -3.28 0q-1.64 1.3 -3.28 0q-1.64 1.3 -3.28 0q-1.64 1.3 -3.28 0q-1.64 1.3 -3.28 0q-1.64 1.3 -3.28 0q-1.64 1.3 -3.28 0q-1.64 1.3 -3.28 0q-1.64 1.3 -3.28 0q-1.64 1.3 -3.28 0q-1.64 1.3 -3.28 0q-1.64 1.3 -3.28 0q-1.64 1.3 -3.28 0q-1.64 1.3 -3.28 0q-1.64 1.3 -3.28 0q-1.64 1.3 -3.28 0q-1.64 1.3 -3.28 0q-1.64 1.3 -3.28 0q-1.64 1.3 -3.28 0q-1.64 1.3 -3.28 0q-1.64 1.3 -3.28 0q-1.64 1.3 -3.28 0q-1.64 1.3 -3.28 0q-1.64 1.3 -3.28 0q-1.64 1.3 -3.28 0q-1.64 1.3 -3.28 0q-1.64 1.3 -3.28 0q-1.64 1.3 -3.28 0q-1.64 1.3 -3.28 0q-1.64 1.3 -3.28 0q-1.64 1.3 -3.28 0q-1.64 1.3 -3.28 0q-1.64 1.3 -3.28 0q-1.64 1.3 -3.28 0q-1.64 1.3 -3.28 0q-1.64 1.3 -3.28 0q-1.64 1.3 -3.28 0q-1.64 1.3 -3.28 0q-1.64 1.3 -3.28 0q-1.64 1.3 -3.28 0q-1.64 1.3 -3.28 0q-1.64 1.3 -3.28 0q-1.64 1.3 -3.28 0q-1.64 1.3 -3.28 0q-1.64 1.3 -3.28 0q-1.64 1.3 -3.28 0q-1.64 1.3 -3.28 0q-1.64 1.3 -3.28 0q-1.64 1.3 -3.28 0q-1.64 1.3 -3.28 0q-1.64 1.3 -3.28 0q-1.64 1.3 -3.28 0q-1.64 1.3 -3.28 0q-1.64 1.3 -3.28 0q-1.64 1.3 -3.28 0q-1.64 1.3 -3.28 0q-1.64 1.3 -3.28 0q-1.64 1.3 -3.28 0q-1.64 1.3 -3.28 0q-1.64 1.3 -3.28 0q-1.64 1.3 -3.28 0q-1.64 1.3 -3.28 0q-1.64 1.3 -3.28 0q-1.64 1.3 -3.28 0Z" fill="#007a00"/>
<path d="M97.0 198.90q1.65 -1.3 3.29 0q1.65 -1.3 3.29 0q1.65 -1.3 3.29 0q1.65 -1.3 3.29 0q1.65 -1.3 3.29 0q1.65 -1.3 3.29 0q1.65 -1.3 3.29 0q1.65 -1.3 3.29 0q1.65 -1.3 3.29 0q1.65 -1.3 3.29 0q1.65 -1.3 3.29 0q1.65 -1.3 3.29 0q1.65 -1.3 3.29 0q1.65 -1.3 3.29 0q1.65 -1.3 3.29 0q1.65 -1.3 3.29 0q1.65 -1.3 3.29 0q1.65 -1.3 3.29 0q1.65 -1.3 3.29 0q1.65 -1.3 3.29 0q1.65 -1.3 3.29 0q1.65 -1.3 3.29 0q1.65 -1.3 3.29 0q1.65 -1.3 3.29 0q1.65 -1.3 3.29 0q1.65 -1.3 3.29 0q1.65 -1.3 3.29 0q1.65 -1.3 3.29 0q1.65 -1.3 3.29 0q1.65 -1.3 3.29 0q1.65 -1.3 3.29 0q1.65 -1.3 3.29 0q1.65 -1.3 3.29 0q1.65 -1.3 3.29 0q1.65 -1.3 3.29 0q1.65 -1.3 3.29 0q1.65 -1.3 3.29 0q1.65 -1.3 3.29 0q1.65 -1.3 3.29 0q1.65 -1.3 3.29 0q1.65 -1.3 3.29 0q1.65 -1.3 3.29 0q1.65 -1.3 3.29 0q1.65 -1.3 3.29 0q1.65 -1.3 3.29 0q1.65 -1.3 3.29 0q1.65 -1.3 3.29 0q1.65 -1.3 3.29 0q1.65 -1.3 3.29 0q1.65 -1.3 3.29 0q1.65 -1.3 3.29 0q1.65 -1.3 3.29 0q1.65 -1.3 3.29 0q1.65 -1.3 3.29 0q1.65 -1.3 3.29 0q1.65 -1.3 3.29 0q1.65 -1.3 3.29 0q1.65 -1.3 3.29 0q1.65 -1.3 3.29 0q1.65 -1.3 3.29 0q1.65 -1.3 3.29 0q1.65 -1.3 3.29 0q1.65 -1.3 3.29 0q1.65 -1.3 3.29 0q1.65 -1.3 3.29 0q1.65 -1.3 3.29 0q1.65 -1.3 3.29 0q1.65 -1.3 3.29 0q1.65 -1.3 3.29 0q1.65 -1.3 3.29 0q1.65 -1.3 3.29 0q1.65 -1.3 3.29 0q1.65 -1.3 3.29 0q1.65 -1.3 3.29 0q1.65 -1.3 3.29 0q1.65 -1.3 3.29 0q1.65 -1.3 3.29 0q1.65 -1.3 3.29 0q1.65 -1.3 3.29 0q1.65 -1.3 3.29 0q1.65 -1.3 3.29 0q1.65 -1.3 3.29 0q1.65 -1.3 3.29 0q1.65 -1.3 3.29 0q1.65 -1.3 3.29 0q1.65 -1.3 3.29 0q1.65 -1.3 3.29 0q1.65 -1.3 3.29 0q1.65 -1.3 3.29 0q1.65 -1.3 3.29 0q1.65 -1.3 3.29 0q1.65 -1.3 3.29 0q1.65 -1.3 3.29 0q1.65 -1.3 3.29 0q1.65 -1.3 3.29 0q1.65 -1.3 3.29 0q1.65 -1.3 3.29 0q1.65 -1.3 3.29 0q1.65 -1.3 3.29 0q1.65 -1.3 3.29 0q1.65 -1.3 3.29 0q1.65 -1.3 3.29 0q1.65 -1.3 3.29 0q1.65 -1.3 3.29 0q1.65 -1.3 3.29 0q1.65 -1.3 3.29 0V201.50q-1.65 1.3 -3.29 0q-1.65 1.3 -3.29 0q-1.65 1.3 -3.29 0q-1.65 1.3 -3.29 0q-1.65 1.3 -3.29 0q-1.65 1.3 -3.29 0q-1.65 1.3 -3.29 0q-1.65 1.3 -3.29 0q-1.65 1.3 -3.29 0q-1.65 1.3 -3.29 0q-1.65 1.3 -3.29 0q-1.65 1.3 -3.29 0q-1.65 1.3 -3.29 0q-1.65 1.3 -3.29 0q-1.65 1.3 -3.29 0q-1.65 1.3 -3.29 0q-1.65 1.3 -3.29 0q-1.65 1.3 -3.29 0q-1.65 1.3 -3.29 0q-1.65 1.3 -3.29 0q-1.65 1.3 -3.29 0q-1.65 1.3 -3.29 0q-1.65 1.3 -3.29 0q-1.65 1.3 -3.29 0q-1.65 1.3 -3.29 0q-1.65 1.3 -3.29 0q-1.65 1.3 -3.29 0q-1.65 1.3 -3.29 0q-1.65 1.3 -3.29 0q-1.65 1.3 -3.29 0q-1.65 1.3 -3.29 0q-1.65 1.3 -3.29 0q-1.65 1.3 -3.29 0q-1.65 1.3 -3.29 0q-1.65 1.3 -3.29 0q-1.65 1.3 -3.29 0q-1.65 1.3 -3.29 0q-1.65 1.3 -3.29 0q-1.65 1.3 -3.29 0q-1.65 1.3 -3.29 0q-1.65 1.3 -3.29 0q-1.65 1.3 -3.29 0q-1.65 1.3 -3.29 0q-1.65 1.3 -3.29 0q-1.65 1.3 -3.29 0q-1.65 1.3 -3.29 0q-1.65 1.3 -3.29 0q-1.65 1.3 -3.29 0q-1.65 1.3 -3.29 0q-1.65 1.3 -3.29 0q-1.65 1.3 -3.29 0q-1.65 1.3 -3.29 0q-1.65 1.3 -3.29 0q-1.65 1.3 -3.29 0q-1.65 1.3 -3.29 0q-1.65 1.3 -3.29 0q-1.65 1.3 -3.29 0q-1.65 1.3 -3.29 0q-1.65 1.3 -3.29 0q-1.65 1.3 -3.29 0q-1.65 1.3 -3.29 0q-1.65 1.3 -3.29 0q-1.65 1.3 -3.29 0q-1.65 1.3 -3.29 0q-1.65 1.3 -3.29 0q-1.65 1.3 -3.29 0q-1.65 1.3 -3.29 0q-1.65 1.3 -3.29 0q-1.65 1.3 -3.29 0q-1.65 1.3 -3.29 0q-1.65 1.3 -3.29 0q-1.65 1.3 -3.29 0q-1.65 1.3 -3.29 0q-1.65 1.3 -3.29 0q-1.65 1.3 -3.29 0q-1.65 1.3 -3.29 0q-1.65 1.3 -3.29 0q-1.65 1.3 -3.29 0q-1.65 1.3 -3.29 0q-1.65 1.3 -3.29 0q-1.65 1.3 -3.29 0q-1.65 1.3 -3.29 0q-1.65 1.3 -3.29 0q-1.65 1.3 -3.29 0q-1.65 1.3 -3.29 0q-1.65 1.3 -3.29 0q-1.65 1.3 -3.29 0q-1.65 1.3 -3.29 0q-1.65 1.3 -3.29 0q-1.65 1.3 -3.29 0q-1.65 1.3 -3.29 0q-1.65 1.3 -3.29 0q-1.65 1.3 -3.29 0q-1.65 1.3 -3.29 0q-1.65 1.3 -3.29 0q-1.65 1.3 -3.29 0q-1.65 1.3 -3.29 0q-1.65 1.3 -3.29 0q-1.65 1.3 -3.29 0q-1.65 1.3 -3.29 0q-1.65 1.3 -3.29 0q-1.65 1.3 -3.29 0q-1.65 1.3 -3.29 0q-1.65 1.3 -3.29 0q-1.65 1.3 -3.29 0q-1.65 1.3 -3.29 0Z" fill="#007a00"/>
<path d="M436.7 40.3 437.2 39.8 437.8 39.3 438.3 38.8 438.9 38.3 439.5 37.8 440.0 37.3 440.6 36.8 441.1 36.3 441.7 35.8 442.2 35.3 442.8 34.8 443.4 34.3 443.9 33.8 444.5 33.3 445.0 32.8 445.6 32.3 447.0 32.3 447.0 40.3 Z" fill="#fff"/>
<path d="M436.8 71.3 437.4 70.8 438.0 70.3 438.6 69.8 439.2 69.3 439.8 68.8 440.4 68.3 441.0 67.8 441.6 67.3 442.2 66.8 442.8 66.3 443.4 65.8 444.0 65.3 444.6 64.8 445.2 64.3 445.8 63.8 447.0 63.8 447.0 71.3 Z" fill="#fff"/>
<path d="M439.0 107.5 439.6 107.0 440.3 106.5 440.9 106.0 441.6 105.5 442.3 105.0 442.9 104.5 443.6 104.0 444.3 103.5 444.9 103.0 445.6 102.5 447.0 102.5 447.0 107.5 Z" fill="#fff"/>
<path d="M439.0 150.2 439.8 149.7 440.5 149.2 441.3 148.7 442.0 148.2 442.8 147.7 443.5 147.2 444.3 146.7 445.0 146.2 445.8 145.7 447.0 145.7 447.0 150.2 Z" fill="#fff"/>
<path d="M438.1 202.3 439.0 201.8 439.9 201.3 440.8 200.8 441.7 200.3 442.6 199.8 443.5 199.3 444.4 198.8 445.3 198.3 447.0 198.3 447.0 202.3 Z" fill="#fff"/>
<path d="M178.0 27.0C178.1 27.6 177.8 28.4 178.5 30.5C179.2 32.6 181.5 37.2 182.5 39.8C183.5 42.4 184.4 44.0 184.5 46.0C184.6 48.0 184.4 49.9 183.0 52.0C181.6 54.1 178.8 56.6 176.0 58.5C173.2 60.4 167.7 61.5 166.0 63.5C164.3 65.5 165.0 69.2 166.0 70.8C167.0 72.4 170.7 71.8 172.0 73.0C173.3 74.2 174.1 76.0 174.0 78.0C173.9 80.0 173.3 82.2 171.5 85.0C169.7 87.8 166.2 91.8 163.0 94.5C159.8 97.2 153.8 99.2 152.0 101.3C150.2 103.4 150.8 105.6 152.0 107.0C153.2 108.4 157.5 108.2 159.0 109.5C160.5 110.8 161.2 112.8 161.0 115.0C160.8 117.2 160.3 119.5 158.0 123.0C155.7 126.5 151.0 132.3 147.0 136.0C143.0 139.7 136.2 142.7 134.0 145.0C131.8 147.3 133.2 148.4 134.0 149.7C134.8 151.0 137.9 151.3 139.0 153.0C140.1 154.7 140.8 157.5 140.5 160.0C140.2 162.5 140.4 164.0 137.0 168.0C133.6 172.0 126.2 178.9 120.0 184.0C113.8 189.1 103.3 195.6 100.0 198.6C96.7 201.6 98.5 200.7 100.0 201.8C101.5 202.9 106.8 203.3 109.0 205.0C111.2 206.7 113.0 209.7 113.2 212.0C113.4 214.3 112.9 215.5 110.0 219.0C107.1 222.5 101.0 228.1 96.0 233.0C91.0 237.9 82.7 245.9 80.0 248.5L78.0 250.5L78.0 26.0Z" fill="#007a00"/>
</g>
</g>
<path d="M178.0 26.7H444.2" stroke="#333" stroke-width="1" fill="none"/>
<path d="M444.3 26.2V391.0" stroke="#222" stroke-width="1.4" fill="none"/>
<path d="M80.0 246.5V391.0H444.7" stroke="#000" stroke-width="1.4" fill="none"/>
<path d="M80.0 391.0h-6.5" stroke="#000" stroke-width="1.3"/>
<text x="66.8" y="397.6" font-family='"Liberation Serif", serif' font-size="20.0" text-anchor="end" fill="#000" >0.10</text>
<path d="M80.0 290.0h-6.5" stroke="#000" stroke-width="1.3"/>
<text x="66.8" y="296.6" font-family='"Liberation Serif", serif' font-size="20.0" text-anchor="end" fill="#000" >0.15</text>
<path d="M80.0 189.0h-6.5" stroke="#000" stroke-width="1.3"/>
<text x="66.8" y="195.6" font-family='"Liberation Serif", serif' font-size="20.0" text-anchor="end" fill="#000" >0.20</text>
<path d="M80.0 88.0h-6.5" stroke="#000" stroke-width="1.3"/>
<text x="66.8" y="94.6" font-family='"Liberation Serif", serif' font-size="20.0" text-anchor="end" fill="#000" >0.25</text>
<path d="M80.0 340.5h-3.5" stroke="#000" stroke-width="1.2"/>
<path d="M80.0 239.5h-3.5" stroke="#000" stroke-width="1.2"/>
<path d="M80.0 138.5h-3.5" stroke="#000" stroke-width="1.2"/>
<path d="M80.0 37.5h-3.5" stroke="#000" stroke-width="1.2"/>
<path d="M80.0 391.0v7" stroke="#000" stroke-width="1.3"/>
<text x="80.0" y="421.0" font-family='"Liberation Serif", serif' font-size="20.0" text-anchor="middle" fill="#000" >0.5</text>
<path d="M152.8 391.0v7" stroke="#000" stroke-width="1.3"/>
<text x="152.8" y="421.0" font-family='"Liberation Serif", serif' font-size="20.0" text-anchor="middle" fill="#000" >0.6</text>
<path d="M225.6 391.0v7" stroke="#000" stroke-width="1.3"/>
<text x="225.6" y="421.0" font-family='"Liberation Serif", serif' font-size="20.0" text-anchor="middle" fill="#000" >0.7</text>
<path d="M298.4 391.0v7" stroke="#000" stroke-width="1.3"/>
<text x="298.4" y="421.0" font-family='"Liberation Serif", serif' font-size="20.0" text-anchor="middle" fill="#000" >0.8</text>
<path d="M371.2 391.0v7" stroke="#000" stroke-width="1.3"/>
<text x="371.2" y="421.0" font-family='"Liberation Serif", serif' font-size="20.0" text-anchor="middle" fill="#000" >0.9</text>
<path d="M444.0 391.0v7" stroke="#000" stroke-width="1.3"/>
<text x="444.0" y="421.0" font-family='"Liberation Serif", serif' font-size="20.0" text-anchor="middle" fill="#000" >1.0</text>
<path d="M116.4 391.0v3.5" stroke="#000" stroke-width="1.2"/>
<path d="M189.2 391.0v3.5" stroke="#000" stroke-width="1.2"/>
<path d="M262.0 391.0v3.5" stroke="#000" stroke-width="1.2"/>
<path d="M334.8 391.0v3.5" stroke="#000" stroke-width="1.2"/>
<path d="M407.6 391.0v3.5" stroke="#000" stroke-width="1.2"/>
<text x="259.5" y="439.6" font-family='"Liberation Sans", sans-serif' font-size="23.5" text-anchor="middle" fill="#000" >&#963;</text>
<g transform="translate(21.5 201.5) rotate(-90)"><text x="0" y="0" font-family='"Liberation Sans", sans-serif' font-size="20" text-anchor="middle" fill="#000" textLength="120" lengthAdjust="spacingAndGlyphs">G<tspan font-size="13.5" dy="4">si</tspan><tspan dy="-4"> (mS/cm</tspan><tspan font-size="13" dy="-6.5">2</tspan><tspan dy="6.5">)</tspan></text></g>
<text x="425.5" y="21.0" font-family='"Liberation Sans", sans-serif' font-size="22.0" text-anchor="middle" fill="#000" >(a)</text>
<g transform="translate(125.9 86.2) rotate(-56.5)"><text x="0" y="0" font-family='"Liberation Sans", sans-serif' font-size="19.5" text-anchor="middle" fill="#fff" textLength="70" lengthAdjust="spacingAndGlyphs">RG-PVC</text></g>
<polygon points="98.3,207.0 100.2,212.3 105.9,212.5 101.4,216.0 103.0,221.5 98.3,218.3 93.6,221.5 95.2,216.0 90.7,212.5 96.4,212.3" fill="none" stroke="#fff" stroke-width="1.30" stroke-linejoin="miter"/>
<polygon points="338.3,192.8 345.1,197.8 342.5,205.8 334.1,205.8 331.5,197.8" fill="none" stroke="#f5141e" stroke-width="1.30"/>
<rect x="401.5" y="164.8" width="12.2" height="12.2" fill="none" stroke="#f5141e" stroke-width="1.3"/>
<path d="M413.6 174.2L507 189.5" stroke="#f5141e" stroke-width="1.4" fill="none"/>
<path d="M513.0 190.5L505.4 193.1L506.6 185.7Z" fill="#f5141e"/>
<rect x="264.8" y="345.6" width="172.6" height="8.8" rx="2.6" fill="#ff66ff"/>
<path d="M267.4 345.6H350.4V354.4H267.4A2.6 2.6 0 0 1 264.8 351.8V348.2A2.6 2.6 0 0 1 267.4 345.6Z" fill="#000"/>
<path d="M269.6 361L275.0 369.3H271.8V378.6H267.4V369.3H264.2Z" fill="#000"/>
<path d="M293.0 361L298.4 369.3H295.2V378.6H290.8V369.3H287.6Z" fill="#000"/>
<path d="M316.3 361L321.7 369.3H318.5V378.6H314.1V369.3H310.9Z" fill="#000"/>
<path d="M339.7 361L345.1 369.3H341.9V378.6H337.5V369.3H334.3Z" fill="#000"/>
<path d="M363.1 361L368.5 369.3H365.3V378.6H360.9V369.3H357.7Z" fill="#000"/>
<path d="M386.5 361L391.9 369.3H388.7V378.6H384.3V369.3H381.1Z" fill="#000"/>
<path d="M409.8 361L415.2 369.3H412.0V378.6H407.6V369.3H404.4Z" fill="#000"/>
<path d="M433.2 361L438.6 369.3H435.4V378.6H431.0V369.3H427.8Z" fill="#000"/>
<text x="292.5" y="335.5" font-family='"Liberation Sans", sans-serif' font-size="19.5" fill="#000">G<tspan font-size="13.5" dy="4.5">K</tspan></text>
<text x="374" y="335.5" font-family='"Liberation Sans", sans-serif' font-size="19.5" fill="#ff66ff">&#963;<tspan font-size="27" dy="7.5" dx="-0.5">*</tspan><tspan dy="-7.5" dx="-0.5">G</tspan><tspan font-size="13.5" dy="4.5">K</tspan></text>
<clipPath id="cc"><rect x="518.0" y="173.5" width="163.3" height="91.2"/></clipPath>
<g clip-path="url(#cc)">
<polygon points="518.0,240.0 681.3,181.3 681.3,197.2 518.0,254.4" fill="#007a00"/>
<path d="M518.0 254.6L681.3 197.6" stroke="#ff0000" stroke-width="1.6"/>
</g>
<rect x="518.0" y="173.5" width="163.3" height="91.2" fill="none" stroke="#222" stroke-width="1"/>
<path d="M518.0 173.5h-4.5M681.3 173.5h-4" stroke="#000" stroke-width="1"/>
<text x="510.5" y="178.3" font-family='"Liberation Serif", serif' font-size="13.4" text-anchor="end" fill="#000" >0.211</text>
<path d="M518.0 219.1h-4.5M681.3 219.1h-4" stroke="#000" stroke-width="1"/>
<text x="510.5" y="223.9" font-family='"Liberation Serif", serif' font-size="13.4" text-anchor="end" fill="#000" >0.209</text>
<path d="M518.0 264.7h-4.5M681.3 264.7h-4" stroke="#000" stroke-width="1"/>
<text x="510.5" y="269.5" font-family='"Liberation Serif", serif' font-size="13.4" text-anchor="end" fill="#000" >0.207</text>
<path d="M518.0 196.3h-2.5M681.3 196.3h-2.5" stroke="#000" stroke-width="0.9"/>
<path d="M518.0 241.9h-2.5M681.3 241.9h-2.5" stroke="#000" stroke-width="0.9"/>
<path d="M518.0 264.7v4.5M518.0 173.5v4" stroke="#000" stroke-width="1"/>
<text x="518.3" y="281.3" font-family='"Liberation Serif", serif' font-size="13.4" text-anchor="middle" fill="#000" >0.945</text>
<path d="M599.6 264.7v4.5M599.6 173.5v4" stroke="#000" stroke-width="1"/>
<text x="599.6" y="281.3" font-family='"Liberation Serif", serif' font-size="13.4" text-anchor="middle" fill="#000" >0.950</text>
<path d="M681.3 264.7v4.5M681.3 173.5v4" stroke="#000" stroke-width="1"/>
<text x="681.3" y="281.3" font-family='"Liberation Serif", serif' font-size="13.4" text-anchor="middle" fill="#000" >0.955</text>
<path d="M558.8 264.7v2.5M558.8 173.5v2.5" stroke="#000" stroke-width="0.9"/>
<path d="M640.5 264.7v2.5M640.5 173.5v2.5" stroke="#000" stroke-width="0.9"/>
<polygon points="599.3,189.8 605.9,196.4 599.3,203.0 592.7,196.4" fill="none" stroke="#00e0e0" stroke-width="1.1"/>
<circle cx="599.3" cy="219.3" r="5.3" fill="none" stroke="#00e0e0" stroke-width="1.2"/>
<polygon points="599.3,235.0 605.5,245.6 593.1,245.6" fill="none" stroke="#00e0e0" stroke-width="1.1"/>
<text x="667.0" y="167.5" font-family='"Liberation Sans", sans-serif' font-size="22.0" text-anchor="middle" fill="#000" >(c)</text>
<path d="M481.0 120.9 486.9 120.9 487.4 87.4 487.8 87.5 488.9 88.2 491.4 89.2 501.8 92.0 506.6 93.8 510.2 95.5 513.9 97.5 521.4 102.6 523.0 103.8 524.6 105.3 527.0 108.2 527.9 109.8 530.2 116.4 531.9 119.6 532.6 120.7 533.0 120.9 586.2 120.9 587.0 88.2 588.2 88.6 593.4 91.2 605.8 98.6 611.0 101.9 616.2 105.9 617.8 107.5 619.0 109.2 619.8 111.4 621.4 117.2 622.2 119.0 623.4 120.2 624.6 120.8 690.6 120.9M481.0 117.8 486.9 117.8 487.4 84.3 487.8 84.5 488.9 85.2 491.4 86.1 501.8 89.0 506.6 90.8 509.8 92.3 513.4 94.3 517.0 96.6 521.0 99.3 524.2 102.0 525.9 103.7 527.0 105.3 527.9 106.8 529.9 111.9 531.9 116.0 532.6 117.3 533.0 117.7 533.4 117.8 586.1 117.8 586.9 85.2 587.9 85.4 593.0 88.0 606.6 96.1 611.4 99.1 616.2 102.8 618.2 104.9 619.0 106.0 619.4 106.8 621.4 113.6 622.2 115.7 623.4 117.0 624.6 117.7 625.4 117.8 690.6 117.8M481.0 114.8 486.9 114.8 487.4 81.3 487.8 81.4 488.9 82.1 491.4 83.1 501.4 85.8 503.8 86.7 506.6 87.8 509.8 89.4 513.4 91.3 517.0 93.6 520.6 96.1 523.9 98.7 526.7 101.9 527.9 103.8 529.9 108.4 532.2 113.0 533.0 114.2 533.8 114.6 547.0 114.8 586.0 114.8 586.7 82.1 587.9 82.4 593.0 85.0 607.4 93.5 611.8 96.4 616.2 99.7 618.2 101.7 619.4 103.4 620.2 105.7 621.8 111.3 622.6 113.0 623.8 114.1 625.0 114.7 690.6 114.8M481.0 111.7 486.9 111.7 487.4 78.2 487.8 78.4 488.9 79.1 491.4 80.0 501.4 82.8 506.2 84.7 509.4 86.2 513.0 88.1 516.2 90.1 519.9 92.5 523.4 95.4 525.0 96.9 526.6 98.8 527.9 100.8 529.9 104.8 532.6 109.9 533.4 111.0 534.2 111.4 539.0 111.6 547.9 111.7 585.9 111.7 586.6 79.1 587.9 79.4 592.6 81.8 608.2 91.0 612.2 93.6 616.2 96.6 617.8 98.1 619.4 100.2 620.2 102.2 621.8 107.7 622.6 109.7 623.8 110.9 625.0 111.6 625.7 111.7 690.6 111.7M481.0 108.7 486.9 108.7 487.4 75.2 487.8 75.3 488.9 76.0 491.4 77.0 501.4 79.8 505.8 81.5 509.0 83.0 512.2 84.7 515.4 86.6 519.0 89.0 523.0 92.1 524.6 93.6 526.5 95.6 527.9 97.7 533.0 106.8 533.9 107.7 534.5 108.0 539.9 108.4 548.6 108.6 585.7 108.7 586.5 76.0 587.9 76.4 592.6 78.8 601.9 84.3 608.6 88.2 612.2 90.5 616.2 93.5 618.2 95.4 619.8 97.7 622.6 106.3 623.0 107.0 623.8 107.7 624.6 108.3 625.5 108.6 690.6 108.7M481.0 105.6 486.9 105.6 487.4 72.1 487.8 72.3 488.9 73.0 491.4 73.9 501.0 76.7 505.4 78.3 508.6 79.8 511.8 81.5 518.2 85.5 522.6 88.8 524.6 90.6 526.3 92.4 527.9 94.6 533.0 102.9 534.2 104.3 535.0 104.6 540.6 105.2 549.9 105.5 561.0 105.6 585.6 105.6 586.4 73.0 587.4 73.2 592.2 75.6 601.9 81.4 609.0 85.4 612.6 87.7 616.2 90.4 618.2 92.3 619.8 94.4 620.6 96.4 622.2 101.8 623.0 103.7 624.2 104.8 625.5 105.5 626.1 105.6 690.6 105.6M481.0 102.6 486.9 102.6 487.4 69.1 487.8 69.2 488.9 69.9 491.4 70.9 501.0 73.7 505.0 75.2 510.6 77.9 516.6 81.4 519.4 83.3 521.9 85.2 524.2 87.3 526.2 89.3 527.9 91.4 533.0 99.1 534.2 100.5 535.0 101.0 537.4 101.5 543.0 102.1 554.2 102.5 585.5 102.6 586.3 69.9 587.4 70.2 591.8 72.4 601.9 78.4 609.4 82.6 612.6 84.6 616.2 87.3 618.6 89.6 619.8 91.2 620.2 91.9 622.2 98.3 623.0 100.3 623.4 100.9 624.2 101.6 625.0 102.2 625.8 102.5 690.6 102.6M481.0 99.5 486.9 99.5 487.4 66.0 487.8 66.2 488.9 66.9 491.8 68.0 500.6 70.6 504.2 71.8 509.4 74.3 515.0 77.4 520.6 81.3 525.0 85.1 527.0 87.3 533.4 95.7 534.6 97.0 535.5 97.5 539.4 98.4 544.6 98.9 556.6 99.4 585.4 99.5 586.2 66.9 587.4 67.2 591.8 69.5 601.9 75.5 609.8 79.8 613.0 81.8 616.2 84.2 618.6 86.5 620.2 88.6 621.0 90.7 622.6 95.9 623.4 97.7 624.6 98.8 625.8 99.4 690.6 99.5M481.0 96.5 486.9 96.5 487.4 63.0 487.8 63.1 488.9 63.8 491.8 64.9 500.6 67.6 503.8 68.7 508.6 70.9 513.9 73.7 519.4 77.4 523.9 81.0 526.6 83.8 533.4 91.8 535.0 93.4 535.9 93.8 537.4 94.3 541.4 95.2 546.6 95.8 558.2 96.4 585.3 96.5 586.0 63.8 587.0 64.0 591.4 66.2 601.9 72.5 610.2 77.0 613.4 79.0 616.6 81.4 618.6 83.3 620.2 85.4 621.0 87.2 622.6 92.4 623.4 94.3 624.6 95.6 625.8 96.3 626.6 96.5 690.6 96.5M481.0 93.4 486.9 93.4 487.4 59.9 487.8 60.0 488.9 60.8 491.8 61.9 500.6 64.5 503.8 65.7 507.8 67.5 512.2 69.8 518.2 73.6 521.9 76.3 526.2 80.3 533.4 87.9 535.4 89.6 536.6 90.2 539.0 91.0 543.9 92.1 551.0 92.9 559.4 93.3 585.2 93.4 585.9 60.8 587.0 61.0 592.2 63.7 601.9 69.5 611.4 74.7 613.9 76.2 616.2 78.0 618.6 80.2 620.6 82.9 621.4 85.0 623.0 90.0 623.8 91.6 625.0 92.7 626.2 93.3 690.6 93.4M481.0 90.4 486.9 90.4 487.4 56.9 487.8 57.0 488.9 57.7 491.8 58.9 500.2 61.4 503.4 62.5 507.0 64.1 511.0 66.2 516.2 69.3 520.6 72.4 525.9 76.9 530.6 81.5 533.9 84.4 535.4 85.6 537.0 86.4 540.2 87.6 543.0 88.4 545.9 89.0 553.4 89.9 560.2 90.3 585.1 90.4 585.8 57.7 587.0 58.0 591.0 60.1 601.9 66.6 611.0 71.4 613.9 73.1 616.6 75.2 618.6 77.1 620.6 79.6 621.4 81.5 623.0 86.5 623.8 88.3 625.0 89.5 626.2 90.2 626.9 90.4 690.6 90.4M481.0 87.3 486.9 87.3 487.4 53.8 487.8 53.9 488.9 54.6 491.8 55.8 503.0 59.4 506.2 60.8 509.8 62.5 514.6 65.3 519.4 68.5 521.9 70.4 530.2 77.7 535.4 81.5 537.9 82.7 541.9 84.3 545.0 85.3 547.9 85.9 555.0 86.8 561.0 87.3 584.9 87.3 585.7 54.6 586.6 54.9 590.6 56.8 601.9 63.6 611.0 68.3 613.9 70.1 616.6 72.1 619.0 74.4 620.2 75.9 621.0 77.1 623.8 85.0 624.2 85.6 625.0 86.3 625.8 86.9 626.6 87.2 690.6 87.3" fill="none" stroke="#1a1a1a" stroke-width="0.8" stroke-linejoin="round"/>
<path d="M481.0 84.3 486.9 84.3 487.4 46.7 487.8 47.5 488.6 50.3 488.9 50.8 491.0 52.1 494.2 53.4 501.8 55.0 505.8 56.4 510.2 58.2 513.9 59.9 517.0 61.6 520.0 63.5 521.9 64.9 523.4 66.4 527.0 70.5 528.2 72.5 531.0 77.9 532.2 79.6 533.0 80.2 534.6 80.8 536.6 81.5 538.6 81.9 541.0 82.2 548.2 82.5 564.6 82.7 568.2 82.4 576.3 81.4 581.4 81.0 584.6 80.4 585.0 77.2 586.6 53.8 587.0 52.5 590.6 53.3 595.0 55.0 603.4 59.3 614.2 65.4 620.6 68.0 623.4 69.5 624.6 70.5 625.8 71.9 632.6 82.0 634.2 83.5 635.4 84.2 690.6 84.3M481.0 81.2 486.9 81.2 487.4 43.7 487.8 44.5 488.6 47.2 488.9 47.7 491.0 49.0 492.6 49.8 494.6 50.4 501.4 51.9 504.2 52.7 509.4 54.8 513.4 56.6 517.0 58.5 520.0 60.3 522.6 62.5 526.8 66.8 527.9 68.2 531.0 73.1 532.2 74.2 533.0 74.5 544.2 74.6 558.6 75.6 564.6 75.7 568.2 75.3 576.3 73.6 581.0 72.9 583.8 72.1 584.6 71.7 585.0 69.6 586.2 56.5 586.6 53.4 587.0 52.5 589.4 52.9 592.2 53.7 601.4 57.0 614.6 61.1 622.2 63.8 625.5 65.3 627.5 66.6 628.6 67.7 630.2 69.8 635.8 78.5 636.6 79.4 637.8 80.5 639.0 81.2 690.6 81.2M481.0 78.1 486.9 78.1 487.4 40.6 487.8 41.4 488.6 44.2 488.9 44.6 491.4 46.2 494.6 47.4 501.0 48.7 503.8 49.6 512.6 53.2 515.9 54.7 519.0 56.6 520.6 57.6 522.2 59.0 527.4 64.0 530.6 67.5 531.9 68.4 532.6 68.7 534.6 68.7 540.2 68.1 542.6 68.1 547.4 68.3 559.0 69.3 564.6 69.4 568.2 68.9 576.3 66.9 582.2 65.7 583.8 65.1 584.6 64.6 585.0 63.2 586.2 55.0 586.6 53.1 587.0 52.5 591.0 53.3 602.2 55.9 615.0 57.7 619.0 58.4 623.0 59.4 626.6 60.8 629.8 62.5 631.8 64.1 633.8 66.7 639.5 75.5 640.2 76.4 641.5 77.5 642.6 78.1 690.6 78.1M481.0 75.1 486.9 75.1 487.4 37.6 487.8 38.3 488.6 41.1 488.9 41.6 490.2 42.5 492.2 43.5 494.2 44.2 501.4 45.8 503.8 46.5 510.2 49.0 515.0 51.2 518.2 53.0 520.6 54.5 525.9 59.2 529.9 62.5 531.4 63.6 532.6 64.0 534.6 63.9 539.0 63.0 541.0 62.7 560.2 63.2 565.4 63.2 568.6 62.8 576.3 61.5 582.2 60.7 584.6 59.9 585.0 59.1 586.2 54.0 586.6 52.9 587.0 52.5 594.6 53.7 600.2 54.3 605.4 54.7 621.8 55.4 625.8 55.8 628.2 56.5 629.8 57.2 631.8 58.3 634.6 60.1 635.4 60.9 637.4 63.5 643.0 72.5 643.8 73.4 645.0 74.5 646.2 75.1 690.6 75.1M481.0 72.0 486.9 72.0 487.4 34.5 487.8 35.3 488.6 38.1 488.9 38.5 490.6 39.7 492.6 40.6 494.6 41.3 501.0 42.6 503.4 43.3 509.4 45.6 514.2 47.8 517.4 49.4 520.2 51.1 521.4 52.0 526.2 56.2 530.2 58.8 532.2 59.5 533.4 59.6 534.6 59.5 539.0 58.3 541.0 58.0 565.0 58.0 582.6 56.6 584.6 56.3 585.0 55.8 586.2 53.3 586.6 52.7 587.0 52.5 589.0 52.8 591.0 52.9 601.9 53.2 629.0 52.5 631.0 52.8 633.4 53.8 635.8 55.2 638.6 57.2 640.6 59.8 646.6 69.5 648.2 71.1 649.4 71.9 650.0 72.0 690.6 72.0M481.0 69.0 486.9 69.0 487.4 31.5 487.8 32.2 488.6 35.0 488.9 35.5 491.0 36.8 492.6 37.6 494.6 38.2 501.0 39.6 503.4 40.3 513.0 44.1 516.6 45.9 520.2 47.9 521.9 49.2 525.0 52.0 526.2 52.9 529.9 54.7 532.2 55.5 533.4 55.6 534.6 55.4 539.4 54.1 541.4 53.9 565.4 53.8 580.2 53.1 587.9 53.0 609.4 53.3 626.2 52.6 632.6 52.7 639.5 53.0 643.0 53.6 643.8 54.2 645.0 56.2 650.2 66.4 651.8 68.1 653.0 68.9 690.6 69.0M481.0 65.9 486.9 65.9 487.4 28.4 487.8 29.2 488.6 31.9 488.9 32.4 491.0 33.8 492.6 34.5 494.6 35.2 501.0 36.5 503.4 37.2 512.2 40.7 516.6 42.8 520.2 44.8 521.9 46.0 524.6 48.4 526.2 49.5 529.9 51.1 531.9 51.7 533.1 51.9 534.6 51.7 539.4 50.1 541.4 49.8 566.6 49.9 589.4 49.7 608.6 50.0 630.6 49.3 636.6 49.4 643.0 49.7 646.5 50.3 647.4 51.0 648.6 53.0 653.8 63.4 655.4 65.1 656.6 65.9 690.6 65.9M481.0 62.9 486.9 62.9 487.4 25.4 487.8 26.1 488.6 28.9 488.9 29.4 491.0 30.7 492.6 31.4 494.6 32.1 503.0 34.0 511.4 37.3 516.2 39.5 520.2 41.6 524.6 45.1 526.2 46.1 529.4 47.4 531.4 48.0 533.0 48.1 534.2 48.0 539.4 46.4 541.4 46.1 570.2 46.6 590.6 46.6 607.0 46.8 613.4 46.7 632.6 46.1 639.5 46.1 646.6 46.5 650.1 47.1 650.6 47.4 651.0 47.9 652.2 49.9 657.5 60.4 659.0 62.1 660.2 62.8 690.6 62.9M481.0 59.8 486.9 59.8 487.4 22.3 487.8 23.1 488.6 25.8 488.9 26.3 491.4 27.9 493.0 28.6 495.0 29.2 503.0 31.0 511.0 34.1 515.9 36.2 520.2 38.5 524.6 41.7 526.2 42.7 529.9 44.3 531.9 44.9 533.1 45.0 534.6 44.8 539.4 43.2 541.4 42.9 563.0 43.4 581.8 43.5 590.6 43.4 607.4 43.6 614.6 43.5 635.8 42.8 643.0 42.9 650.2 43.2 653.6 43.8 654.2 44.2 654.6 44.7 655.8 46.8 660.6 56.7 661.6 58.1 663.4 59.6 664.2 59.8 690.6 59.8M481.0 56.8 486.9 56.8 487.4 19.2 487.8 20.0 488.6 22.8 488.9 23.3 491.4 24.8 493.0 25.5 495.0 26.1 503.0 27.9 510.6 30.8 515.4 33.0 520.0 35.2 526.2 39.3 530.2 41.2 532.2 41.8 533.4 41.8 534.6 41.6 539.4 40.0 541.4 39.7 562.6 40.3 582.6 40.4 590.2 40.3 607.4 40.4 615.4 40.3 639.0 39.6 646.2 39.6 653.8 40.0 657.2 40.6 657.8 41.0 658.2 41.5 659.5 43.6 664.2 53.8 665.2 55.1 667.0 56.6 667.7 56.8 690.6 56.8M481.0 53.7 486.9 53.7 487.4 16.2 487.8 17.0 488.6 19.7 488.9 20.2 491.4 21.8 493.0 22.4 495.0 23.1 503.0 24.9 510.2 27.6 518.6 31.4 521.0 32.7 526.2 35.9 530.2 37.9 532.2 38.6 533.4 38.7 534.6 38.5 539.4 36.9 541.4 36.6 562.2 37.2 589.8 37.1 607.4 37.2 616.2 37.1 642.2 36.3 649.8 36.4 657.5 36.7 660.8 37.3 661.4 37.8 661.8 38.3 663.0 40.5 667.8 50.8 668.8 52.0 669.8 53.0 670.6 53.6 671.3 53.7 690.6 53.7M481.0 50.7 486.9 50.7 487.4 13.1 487.8 13.9 488.6 16.7 488.9 17.2 491.4 18.7 493.0 19.4 495.0 20.0 503.0 21.8 510.2 24.6 515.4 26.8 520.0 29.0 529.9 34.5 531.0 35.0 532.2 35.4 533.4 35.5 534.6 35.3 539.4 33.7 541.4 33.4 563.4 34.0 589.0 33.9 611.8 34.0 646.6 33.0 653.8 33.1 661.0 33.5 664.3 34.0 665.0 34.6 666.2 36.5 671.5 47.8 672.2 48.9 673.8 50.3 674.9 50.7 690.6 50.7M481.0 47.6 486.9 47.6 487.4 10.1 487.8 10.9 488.6 13.6 488.9 14.1 491.4 15.7 493.0 16.3 495.0 17.0 503.0 18.8 509.8 21.3 520.2 25.9 527.0 29.5 530.6 31.6 532.2 32.3 533.4 32.4 534.6 32.2 539.4 30.5 541.4 30.2 563.6 30.9 588.6 30.8 612.6 30.8 649.8 29.8 657.5 29.9 664.6 30.2 667.9 30.8 668.6 31.4 669.8 33.4 675.0 44.8 675.8 45.9 677.4 47.3 678.4 47.6 690.6 47.6" fill="none" stroke="#e93ce9" stroke-width="0.75" stroke-linejoin="round"/>
<path d="M480.5 124.8H690.6" stroke="#333" stroke-width="0.9"/>
<path d="M487.4 124.8v4" stroke="#333" stroke-width="0.9"/>
<text x="487.4" y="143.6" font-family='"Liberation Serif", serif' font-size="16.0" text-anchor="middle" fill="#000" >0.0</text>
<path d="M550.9 124.8v4" stroke="#333" stroke-width="0.9"/>
<text x="550.9" y="143.6" font-family='"Liberation Serif", serif' font-size="16.0" text-anchor="middle" fill="#000" >0.5</text>
<path d="M614.4 124.8v4" stroke="#333" stroke-width="0.9"/>
<text x="614.4" y="143.6" font-family='"Liberation Serif", serif' font-size="16.0" text-anchor="middle" fill="#000" >1.0</text>
<path d="M677.9 124.8v4" stroke="#333" stroke-width="0.9"/>
<text x="677.9" y="143.6" font-family='"Liberation Serif", serif' font-size="16.0" text-anchor="middle" fill="#000" >1.5</text>
<path d="M519.1 124.8v2.3" stroke="#333" stroke-width="0.8"/>
<path d="M582.6 124.8v2.3" stroke="#333" stroke-width="0.8"/>
<path d="M646.1 124.8v2.3" stroke="#333" stroke-width="0.8"/>
<path d="M717.4 120.9 725.0 120.9 725.7 87.4 726.2 87.5 727.7 88.2 730.6 89.1 740.6 91.6 747.0 93.4 753.0 95.3 758.2 97.1 762.2 98.7 766.6 100.7 773.0 103.7 777.8 106.6 779.0 107.1 780.2 107.5 781.4 107.5 782.6 107.1 786.2 104.9 787.8 103.4 790.6 99.9 792.2 98.5 793.4 98.1 794.6 98.3 795.8 98.6 802.6 101.7 809.4 105.6 812.2 106.9 813.8 108.0 814.6 108.8 815.0 109.7 816.6 116.7 817.4 119.3 817.8 119.7 819.0 120.4 820.6 120.8 926.1 120.9M717.4 117.8 725.0 117.8 725.7 84.3 726.2 84.4 727.7 85.2 730.6 86.1 741.0 88.6 747.4 90.5 753.0 92.2 758.2 94.0 761.8 95.5 766.2 97.5 773.0 100.7 777.8 103.6 779.0 104.2 780.2 104.5 781.4 104.5 782.6 104.1 786.2 101.9 787.8 100.3 790.6 96.9 792.2 95.5 793.4 95.1 795.4 95.5 802.6 98.8 809.4 102.8 812.2 104.3 813.4 105.1 814.4 106.2 815.0 107.6 817.0 115.7 817.4 116.5 817.8 116.7 819.0 117.4 820.2 117.8 821.1 117.8 926.1 117.8M717.4 114.8 725.0 114.8 725.7 81.3 726.2 81.4 727.7 82.1 730.6 83.0 741.0 85.6 747.4 87.4 753.4 89.3 758.2 91.0 762.2 92.6 767.0 94.8 773.0 97.7 777.8 100.7 779.8 101.4 781.0 101.5 782.2 101.2 783.8 100.4 786.2 98.9 787.8 97.3 790.6 93.9 792.2 92.4 793.4 92.1 795.4 92.5 803.0 96.2 809.4 100.1 811.8 101.4 813.4 102.6 814.2 103.5 814.6 104.2 816.2 110.5 817.0 113.1 817.2 113.5 818.2 114.0 820.2 114.7 926.1 114.8M717.4 111.7 725.0 111.7 725.7 78.2 726.2 78.3 727.7 79.1 730.6 80.0 741.0 82.5 747.4 84.4 753.4 86.2 758.2 87.9 762.2 89.5 766.6 91.6 773.0 94.8 777.8 97.7 779.8 98.4 781.0 98.5 782.2 98.2 783.8 97.4 786.2 95.9 787.8 94.3 790.6 90.8 792.2 89.4 793.4 89.0 795.4 89.5 803.0 93.3 811.8 98.8 813.0 99.7 814.0 100.8 814.6 102.0 816.2 108.2 817.0 110.3 818.6 111.2 820.2 111.7 926.1 111.7M717.4 108.7 725.0 108.7 725.7 75.2 726.2 75.3 727.7 76.0 730.6 76.9 741.0 79.5 747.8 81.4 753.4 83.2 758.2 84.9 761.8 86.3 766.2 88.4 773.0 91.8 777.8 94.7 779.8 95.5 781.0 95.5 782.2 95.2 783.8 94.4 786.2 92.8 787.8 91.3 790.6 87.8 792.2 86.4 793.3 86.0 795.0 86.3 796.6 87.0 803.0 90.4 811.4 95.8 812.6 96.7 813.8 98.0 814.2 98.7 816.6 106.8 816.9 107.3 817.8 107.8 819.8 108.6 926.1 108.7M717.4 105.6 725.0 105.6 725.7 72.1 726.2 72.2 727.7 73.0 730.6 73.8 741.0 76.4 747.8 78.4 753.4 80.1 758.2 81.8 761.8 83.3 765.8 85.2 773.0 88.8 777.8 91.8 779.8 92.5 781.0 92.5 782.2 92.2 783.8 91.3 786.2 89.8 787.8 88.2 790.6 84.8 792.2 83.4 793.3 83.0 795.0 83.3 796.6 84.0 803.4 87.8 806.6 89.9 812.2 93.8 813.6 95.4 814.2 96.5 815.8 102.0 816.6 104.0 818.2 105.1 819.8 105.6 926.1 105.6M717.4 102.6 725.0 102.6 725.7 69.1 726.2 69.2 727.7 69.9 730.6 70.8 741.0 73.4 747.8 75.3 753.4 77.1 758.2 78.8 761.8 80.2 765.8 82.1 773.0 85.8 777.8 88.8 779.8 89.5 781.0 89.5 782.2 89.1 783.8 88.3 786.2 86.8 787.8 85.2 790.6 81.8 792.2 80.4 793.3 80.0 795.0 80.3 796.6 81.0 803.8 85.2 807.4 87.6 812.2 91.2 813.4 92.6 813.8 93.2 815.8 99.6 816.6 101.2 818.2 102.1 819.8 102.5 926.1 102.6M717.4 99.5 725.0 99.5 725.7 66.0 726.2 66.1 727.7 66.9 730.6 67.7 741.0 70.3 748.2 72.4 753.4 74.0 758.2 75.7 761.4 77.0 765.4 78.9 773.0 82.8 777.8 85.8 779.8 86.5 781.0 86.5 782.2 86.1 783.8 85.3 786.2 83.8 787.8 82.2 790.6 78.7 792.2 77.3 793.3 77.0 795.0 77.3 796.6 78.1 803.8 82.3 807.4 84.8 811.8 88.3 813.3 90.0 813.8 91.0 815.4 95.9 816.2 97.8 816.5 98.2 817.4 98.7 819.4 99.4 926.1 99.5M717.4 96.5 725.0 96.5 725.7 63.0 726.2 63.0 727.7 63.8 730.6 64.7 741.0 67.3 748.2 69.3 753.4 71.0 758.2 72.7 761.4 74.0 765.4 75.9 773.0 79.8 777.8 82.9 779.0 83.4 779.8 83.5 781.0 83.5 782.2 83.1 786.2 80.7 787.8 79.2 790.6 75.7 792.2 74.3 793.3 73.9 795.0 74.3 796.6 75.1 803.8 79.4 807.4 82.0 811.0 85.0 812.2 86.1 813.4 87.8 815.4 93.4 816.2 95.0 817.8 95.9 819.4 96.4 926.1 96.5M717.4 93.4 725.0 93.4 725.7 59.9 726.2 60.0 727.7 60.8 730.6 61.6 741.0 64.2 748.6 66.4 753.8 68.0 758.6 69.8 762.2 71.3 766.2 73.2 773.0 76.8 777.4 79.7 779.4 80.5 780.2 80.6 781.4 80.4 782.6 79.9 784.2 79.0 786.2 77.7 787.0 77.0 790.6 72.7 791.8 71.6 793.0 71.0 793.8 70.9 794.6 71.1 796.2 71.9 803.4 76.3 807.0 78.9 810.2 81.6 811.8 83.2 813.0 84.7 815.8 91.6 816.2 92.1 817.0 92.5 819.0 93.3 819.9 93.4 926.1 93.4M717.4 90.4 725.0 90.4 725.7 56.9 726.2 56.9 727.7 57.7 730.6 58.6 741.0 61.1 748.6 63.3 753.8 65.0 758.6 66.7 761.8 68.0 765.8 70.0 773.0 73.8 777.4 76.7 779.4 77.5 780.2 77.6 781.4 77.4 782.6 76.9 784.2 76.0 786.2 74.7 787.0 74.0 790.6 69.7 791.8 68.5 793.0 67.9 793.8 67.9 794.6 68.1 796.2 68.9 803.4 73.4 806.6 75.8 809.2 78.0 811.4 80.2 812.7 82.0 813.4 83.2 815.0 87.3 815.8 88.8 817.4 89.8 819.0 90.3 926.1 90.4M717.4 87.3 725.0 87.3 725.7 53.8 726.2 53.9 727.7 54.6 730.6 55.5 741.0 58.1 748.6 60.3 754.2 62.1 758.6 63.6 761.8 65.0 765.8 67.0 773.0 70.8 777.4 73.8 779.4 74.5 780.2 74.6 781.4 74.4 782.6 73.9 784.2 72.9 786.2 71.7 787.0 71.0 790.6 66.6 791.8 65.5 793.0 64.9 793.8 64.9 794.6 65.1 796.2 65.9 803.4 70.5 806.2 72.6 808.6 74.6 810.6 76.7 812.6 79.3 815.4 85.4 815.9 86.0 817.0 86.6 819.0 87.3 926.1 87.3" fill="none" stroke="#1a1a1a" stroke-width="0.8" stroke-linejoin="round"/>
<path d="M717.4 84.3 725.0 84.3 725.7 47.4 726.2 47.8 727.4 50.6 727.7 51.1 730.2 52.4 733.8 53.5 742.2 55.4 751.8 58.3 757.8 60.3 763.4 62.5 772.6 66.5 777.4 69.2 779.8 70.1 781.0 70.2 782.2 70.0 783.4 69.5 786.2 68.0 787.8 66.8 791.0 63.7 792.6 62.7 793.4 62.5 794.2 62.5 796.6 63.1 802.2 65.8 804.6 67.1 807.0 68.7 809.2 70.5 810.6 72.1 814.2 78.0 816.6 81.2 817.8 82.7 818.6 83.2 845.9 83.2 846.2 83.7 849.3 83.9 852.2 83.2 853.0 83.4 854.6 84.2 855.1 84.3 926.1 84.3M717.4 81.2 725.0 81.2 725.7 44.3 726.2 44.8 727.4 47.6 727.7 48.0 730.2 49.3 733.8 50.5 742.2 52.3 751.8 55.3 757.8 57.3 763.4 59.4 772.6 63.5 777.4 66.1 779.8 67.0 781.0 67.1 782.2 66.9 783.4 66.4 786.2 64.9 787.8 63.7 791.0 60.7 792.6 59.7 793.4 59.4 794.2 59.4 796.2 59.9 798.2 60.8 803.8 63.6 806.2 65.1 808.6 66.9 809.8 68.0 810.6 69.0 814.6 74.7 817.4 77.7 818.6 78.5 820.6 78.5 823.4 78.2 834.6 76.7 837.0 76.5 841.4 76.5 845.9 76.9 846.2 78.8 846.6 79.0 847.4 79.2 851.8 80.1 854.6 81.1 855.2 81.2 926.1 81.2M717.4 78.1 725.0 78.1 725.7 41.3 726.2 41.7 727.4 44.5 727.7 45.0 730.2 46.3 733.8 47.4 742.2 49.3 751.8 52.2 757.8 54.2 763.4 56.4 772.6 60.4 777.4 63.1 779.8 64.0 781.0 64.1 782.2 63.9 783.4 63.4 786.2 61.9 787.8 60.6 791.0 57.6 792.6 56.6 793.8 56.4 795.8 56.7 797.8 57.5 801.8 59.5 805.0 61.4 809.8 64.9 814.2 69.3 816.6 70.7 818.2 71.4 820.2 71.3 822.6 70.7 824.6 69.8 829.8 67.2 832.6 66.1 834.6 65.8 837.8 65.8 840.6 66.1 843.4 66.8 843.8 67.2 844.6 69.9 845.1 71.3 846.2 71.9 848.6 72.7 849.4 73.1 850.2 73.9 851.4 76.0 852.2 77.0 853.8 77.8 855.0 78.1 926.1 78.1M717.4 75.1 725.0 75.1 725.7 38.2 726.2 38.7 727.4 41.5 727.7 41.9 730.2 43.2 733.8 44.4 742.2 46.2 751.8 49.1 757.8 51.2 765.8 54.4 773.0 57.6 777.8 60.2 779.0 60.7 780.2 61.0 781.4 61.0 782.6 60.7 785.8 59.0 787.4 57.9 790.6 54.9 791.8 54.0 793.0 53.4 794.2 53.3 795.4 53.5 797.0 54.1 802.2 56.7 809.8 61.7 812.6 63.7 813.8 64.4 815.0 64.7 818.9 64.4 820.2 63.8 821.4 62.7 823.0 60.6 826.6 55.3 827.8 53.9 828.6 53.2 829.4 52.8 830.2 52.6 832.2 52.8 834.6 53.3 838.6 54.8 839.8 55.8 841.0 57.3 844.6 62.6 845.8 63.8 848.6 65.7 849.5 66.7 850.2 68.0 851.4 71.8 852.2 73.8 853.0 74.4 854.6 75.0 855.5 75.1 926.1 75.1M717.4 72.0 725.0 72.0 725.7 35.2 726.2 35.6 727.4 38.4 727.7 38.9 730.2 40.2 733.8 41.3 742.2 43.2 751.8 46.1 757.8 48.1 765.8 51.3 773.0 54.5 777.8 57.2 779.0 57.6 780.2 57.9 781.4 57.9 782.6 57.6 785.8 56.0 787.4 54.9 790.6 51.9 791.8 50.9 793.0 50.4 794.2 50.3 795.4 50.5 797.0 51.0 801.8 53.4 808.2 57.7 813.0 60.5 814.6 60.9 816.6 60.8 819.0 59.9 819.8 59.1 821.0 56.7 823.8 49.4 825.0 47.2 825.4 46.8 825.9 46.6 827.4 46.7 829.4 47.1 834.6 49.1 836.6 50.3 839.0 52.3 845.0 58.0 848.6 60.7 849.6 62.0 850.2 63.2 852.2 70.4 852.6 71.0 853.0 71.3 855.0 72.0 926.1 72.0M717.4 69.0 725.0 69.0 725.7 32.1 726.2 32.6 727.4 35.4 727.7 35.8 730.2 37.1 733.8 38.3 742.2 40.1 751.8 43.0 757.8 45.0 765.8 48.3 773.0 51.5 777.8 54.1 779.0 54.6 780.2 54.9 781.4 54.9 782.6 54.6 785.8 52.9 787.4 51.8 790.6 48.8 791.8 47.9 793.0 47.3 794.2 47.2 795.4 47.4 797.0 48.0 801.8 50.4 808.2 54.6 813.0 57.4 814.6 57.9 816.6 57.7 819.0 56.9 819.8 56.0 821.0 53.6 823.8 46.0 825.0 43.9 825.4 43.6 825.8 43.4 827.4 43.6 829.0 43.9 831.0 44.6 834.2 45.9 836.2 47.0 839.0 49.3 845.0 54.9 848.6 57.6 849.7 58.9 850.2 59.9 851.8 65.9 852.6 67.9 853.8 68.5 855.0 68.9 926.1 69.0M717.4 65.9 725.0 65.9 725.7 29.1 726.2 29.5 727.4 32.3 727.7 32.8 730.2 34.0 733.8 35.2 742.2 37.0 751.8 40.0 757.8 42.0 765.8 45.2 773.0 48.4 777.8 51.0 779.0 51.5 780.2 51.8 781.4 51.8 782.6 51.5 785.8 49.8 787.4 48.8 790.6 45.8 791.8 44.8 793.0 44.3 794.2 44.2 795.4 44.4 797.0 44.9 801.8 47.3 808.2 51.6 813.0 54.3 814.6 54.8 816.6 54.7 819.0 53.8 819.8 53.0 821.0 50.4 823.8 42.6 824.6 41.1 825.0 40.6 825.4 40.3 826.2 40.3 829.0 40.8 834.2 42.8 836.2 44.0 838.6 45.9 845.0 51.9 848.6 54.5 849.8 55.8 850.2 56.6 851.8 62.5 852.6 64.7 853.4 65.2 855.0 65.8 926.1 65.9M717.4 62.9 725.0 62.9 725.7 26.0 726.2 26.4 727.4 29.3 727.7 29.7 730.2 31.0 733.8 32.2 742.2 34.0 751.8 36.9 757.8 38.9 765.8 42.1 773.0 45.3 777.8 48.0 779.0 48.5 780.2 48.8 781.4 48.8 782.6 48.4 785.8 46.8 787.4 45.7 790.6 42.7 791.8 41.8 793.0 41.2 794.2 41.1 795.4 41.3 797.0 41.9 801.8 44.2 808.2 48.5 813.0 51.3 814.6 51.8 816.6 51.6 819.0 50.8 819.8 49.9 821.0 47.2 823.4 40.2 824.6 37.8 825.0 37.3 825.4 37.2 827.0 37.3 828.6 37.6 830.6 38.3 833.8 39.6 836.2 41.0 838.6 42.9 845.0 48.8 848.6 51.4 849.8 52.7 850.2 53.3 852.2 60.4 852.6 61.4 852.9 61.9 853.8 62.3 855.4 62.8 926.1 62.9M717.4 59.8 725.0 59.8 725.7 23.0 726.2 23.4 727.4 26.2 727.7 26.7 730.2 27.9 733.8 29.1 742.2 30.9 751.8 33.9 757.8 35.9 765.8 39.1 773.0 42.3 777.8 44.9 779.0 45.4 780.2 45.7 781.4 45.7 782.6 45.4 785.8 43.7 787.4 42.7 790.6 39.7 791.8 38.7 793.0 38.1 794.2 38.1 795.4 38.3 797.0 38.8 801.8 41.2 808.2 45.5 813.0 48.2 814.6 48.7 816.6 48.6 819.0 47.7 819.8 46.8 821.0 43.9 823.4 36.8 824.6 34.4 825.0 34.1 825.4 34.0 827.0 34.2 828.6 34.5 833.8 36.6 835.8 37.7 838.6 39.9 845.0 45.7 847.8 47.6 849.0 48.6 849.9 49.8 850.6 51.1 852.6 58.1 853.0 58.8 854.2 59.4 855.4 59.8 926.1 59.8M717.4 56.8 725.0 56.8 725.7 19.9 726.2 20.3 727.4 23.1 727.7 23.6 730.2 24.9 733.8 26.1 742.2 27.9 751.8 30.8 757.8 32.8 765.8 36.0 773.0 39.2 777.8 41.9 779.0 42.4 780.2 42.7 781.4 42.7 782.6 42.3 785.8 40.7 787.4 39.6 790.6 36.6 791.8 35.7 793.0 35.1 794.2 35.0 795.4 35.2 797.0 35.8 801.8 38.1 808.2 42.4 813.0 45.2 814.6 45.7 816.6 45.5 819.0 44.7 819.8 43.7 821.0 40.7 823.4 33.3 824.2 31.7 824.6 31.1 825.0 30.9 825.8 30.9 828.2 31.4 830.2 32.0 833.4 33.4 835.8 34.7 838.6 36.9 845.0 42.6 849.0 45.5 850.0 46.7 850.6 47.8 852.2 53.6 853.0 55.6 854.2 56.3 855.4 56.7 926.1 56.8M717.4 53.7 725.0 53.7 725.7 16.9 726.2 17.3 727.4 20.1 727.7 20.5 730.2 21.8 733.8 23.0 742.2 24.8 751.8 27.8 757.8 29.8 765.8 33.0 773.0 36.2 777.8 38.8 779.0 39.3 780.2 39.6 781.4 39.6 782.6 39.3 785.8 37.6 787.4 36.6 790.6 33.5 791.8 32.6 793.0 32.0 794.2 32.0 795.4 32.2 797.0 32.7 801.8 35.1 808.2 39.4 813.0 42.1 814.6 42.6 816.6 42.5 819.0 41.6 819.8 40.6 821.0 37.5 823.0 31.0 824.2 28.3 824.6 27.9 824.9 27.7 826.6 27.9 828.2 28.3 833.4 30.3 835.8 31.7 838.6 33.9 845.0 39.6 849.0 42.4 850.1 43.7 850.6 44.5 852.2 50.2 853.0 52.4 853.8 53.0 855.4 53.6 856.2 53.7 926.1 53.7M717.4 50.7 725.0 50.7 725.7 13.8 726.2 14.2 727.4 17.0 727.7 17.5 730.2 18.8 733.8 20.0 742.2 21.8 751.8 24.7 757.8 26.7 765.8 29.9 773.0 33.1 777.8 35.8 779.0 36.3 780.2 36.5 781.4 36.5 782.6 36.2 785.8 34.6 787.4 33.5 790.6 30.5 791.8 29.6 793.0 29.0 794.2 28.9 795.4 29.1 797.0 29.7 801.8 32.0 808.2 36.3 813.0 39.1 814.6 39.6 816.6 39.4 819.0 38.6 819.8 37.5 820.6 35.5 823.0 27.5 823.8 25.6 824.2 25.0 824.6 24.6 825.0 24.6 827.8 25.1 829.8 25.7 833.1 27.1 835.4 28.4 838.2 30.5 845.0 36.5 849.0 39.3 850.2 40.5 850.6 41.3 852.6 48.1 853.0 49.1 853.3 49.7 853.8 49.9 855.8 50.6 926.1 50.7M717.4 47.6 725.0 47.6 725.7 10.8 726.2 11.2 727.4 14.0 727.7 14.4 730.2 15.7 733.8 16.9 742.2 18.7 751.8 21.7 757.8 23.7 765.8 26.9 773.0 30.1 777.8 32.7 779.0 33.2 780.2 33.5 781.4 33.5 782.6 33.2 785.8 31.5 787.4 30.5 790.6 27.4 791.8 26.5 793.0 25.9 794.2 25.8 795.4 26.1 797.0 26.6 801.8 29.0 808.2 33.3 813.0 36.0 814.6 36.5 816.6 36.4 819.0 35.5 819.8 34.4 820.6 32.3 823.0 24.1 823.8 22.2 824.2 21.7 824.6 21.5 825.4 21.5 827.8 22.0 833.0 24.0 835.4 25.4 838.2 27.5 845.0 33.4 848.2 35.5 849.4 36.5 850.6 38.0 853.0 45.9 853.5 46.6 854.6 47.2 855.8 47.5 926.1 47.6" fill="none" stroke="#e93ce9" stroke-width="0.75" stroke-linejoin="round"/>
<path d="M716.9 124.8H926.1" stroke="#333" stroke-width="0.9"/>
<path d="M725.7 124.8v4" stroke="#333" stroke-width="0.9"/>
<text x="725.7" y="143.6" font-family='"Liberation Serif", serif' font-size="16.0" text-anchor="middle" fill="#000" >0.0</text>
<path d="M809.2 124.8v4" stroke="#333" stroke-width="0.9"/>
<text x="809.2" y="143.6" font-family='"Liberation Serif", serif' font-size="16.0" text-anchor="middle" fill="#000" >0.5</text>
<path d="M892.7 124.8v4" stroke="#333" stroke-width="0.9"/>
<text x="892.7" y="143.6" font-family='"Liberation Serif", serif' font-size="16.0" text-anchor="middle" fill="#000" >1.0</text>
<path d="M767.5 124.8v2.3" stroke="#333" stroke-width="0.8"/>
<path d="M851.0 124.8v2.3" stroke="#333" stroke-width="0.8"/>
<path d="M717.4 261.5 725.0 261.5 725.7 228.0 726.2 228.1 727.7 228.8 730.6 229.7 740.6 232.2 747.0 234.0 753.0 235.9 758.2 237.7 762.2 239.3 766.6 241.3 773.0 244.3 777.8 247.2 779.0 247.7 780.2 248.1 781.4 248.1 782.6 247.7 786.2 245.5 787.8 244.0 790.6 240.5 792.2 239.1 793.3 238.7 795.4 239.1 802.6 242.3 809.4 246.2 812.2 247.5 813.8 248.6 814.6 249.4 815.0 250.3 816.6 257.3 817.4 259.9 818.2 260.5 819.4 261.1 821.2 261.5 846.3 261.5 847.3 230.5 847.8 230.6 861.8 235.2 873.8 239.7 879.0 242.0 883.8 244.7 886.2 246.6 888.2 249.0 889.0 251.0 890.6 257.1 891.4 259.4 891.9 260.2 893.8 261.2 895.2 261.5 926.1 261.5M717.4 258.4 725.0 258.4 725.7 224.9 726.2 225.0 727.7 225.8 730.6 226.7 741.0 229.2 747.4 231.1 753.0 232.8 758.2 234.6 761.8 236.1 766.2 238.1 773.0 241.3 777.8 244.2 779.0 244.8 780.2 245.1 781.4 245.1 782.6 244.7 786.2 242.5 787.8 240.9 790.6 237.5 792.2 236.1 793.4 235.7 795.4 236.1 802.6 239.4 809.4 243.4 812.2 244.9 813.4 245.7 814.4 246.8 815.0 248.2 816.6 255.0 817.0 256.3 817.4 257.1 819.4 258.1 821.0 258.4 846.0 258.4 846.2 256.6 847.0 227.4 847.0 227.1 847.8 227.2 860.2 231.5 874.2 236.9 879.0 239.1 883.4 241.7 885.8 243.6 887.8 245.9 888.6 247.9 890.2 253.8 891.0 256.2 891.5 257.1 893.4 258.1 894.9 258.4 926.1 258.4M717.4 255.4 725.0 255.4 725.7 221.9 726.2 222.0 727.7 222.7 730.6 223.6 741.0 226.2 747.4 228.0 753.4 229.9 758.2 231.6 762.2 233.2 767.0 235.4 773.0 238.3 777.8 241.3 779.8 242.0 781.0 242.1 782.2 241.8 783.8 241.0 786.2 239.5 787.8 237.9 790.6 234.5 792.2 233.0 793.4 232.7 795.4 233.1 803.0 236.8 809.4 240.7 811.8 242.0 813.4 243.2 814.2 244.1 814.6 244.8 816.2 251.1 817.0 253.7 817.4 254.1 819.0 255.0 820.2 255.3 820.9 255.4 845.7 255.4 846.6 226.4 846.7 223.7 847.4 223.8 858.2 227.6 874.6 234.1 879.0 236.2 883.0 238.6 885.4 240.6 887.4 243.0 888.2 244.7 890.6 253.0 891.2 254.1 893.0 255.0 894.5 255.4 926.1 255.4M717.4 252.3 725.0 252.3 725.7 218.8 726.2 218.9 727.7 219.7 730.6 220.6 741.0 223.1 747.4 225.0 753.4 226.8 758.2 228.5 762.2 230.1 766.6 232.2 773.0 235.4 777.8 238.3 779.8 239.0 781.0 239.1 782.2 238.8 783.8 238.0 786.2 236.5 787.8 234.9 790.6 231.4 792.2 230.0 793.4 229.6 795.4 230.1 803.0 233.9 811.8 239.4 813.0 240.3 814.0 241.4 814.6 242.6 816.2 248.8 817.0 250.9 819.0 252.0 820.8 252.3 845.5 252.3 846.5 220.3 847.0 220.4 856.6 223.8 874.6 231.2 878.6 233.1 882.6 235.6 885.0 237.6 887.1 240.2 888.2 242.8 890.2 249.8 890.9 251.0 892.6 252.0 894.2 252.3 926.1 252.3M717.4 249.3 725.0 249.3 725.7 215.8 726.2 215.9 727.7 216.6 730.6 217.5 741.0 220.1 747.8 222.0 753.4 223.8 758.2 225.5 761.8 226.9 766.2 229.0 773.0 232.4 777.8 235.3 779.8 236.1 781.0 236.1 782.2 235.8 783.8 235.0 786.2 233.4 787.8 231.9 790.6 228.4 792.2 227.0 793.3 226.6 795.0 226.9 796.6 227.6 803.0 231.0 811.4 236.4 812.6 237.3 813.8 238.6 814.2 239.3 816.6 247.4 816.9 247.9 818.2 248.6 819.4 249.1 820.6 249.3 845.2 249.3 845.4 246.8 846.2 217.0 846.2 216.9 846.6 216.9 847.8 217.2 855.8 220.3 874.6 228.3 878.6 230.2 881.8 232.2 884.6 234.5 886.8 237.3 887.8 239.6 889.4 245.4 890.2 247.5 890.5 247.9 892.2 248.9 893.0 249.2 893.9 249.3 926.1 249.3M717.4 246.2 725.0 246.2 725.7 212.7 726.2 212.8 727.7 213.6 730.6 214.4 741.0 217.0 747.8 219.0 753.4 220.7 758.2 222.4 761.8 223.9 765.8 225.8 773.0 229.4 777.8 232.4 779.8 233.1 781.0 233.1 782.2 232.8 783.8 231.9 786.2 230.4 787.8 228.8 790.6 225.4 792.2 224.0 793.3 223.6 795.0 223.9 796.6 224.6 803.4 228.4 806.6 230.5 812.2 234.4 813.6 236.0 814.2 237.1 815.8 242.6 816.6 244.6 817.4 245.2 818.6 245.8 820.5 246.2 844.9 246.2 845.8 215.7 845.9 213.5 846.6 213.6 851.4 215.3 855.4 216.9 868.2 222.6 874.6 225.4 878.2 227.1 881.4 229.2 884.2 231.5 885.4 232.8 886.6 234.5 887.4 236.5 889.0 242.2 889.8 244.3 890.2 244.9 891.8 245.8 892.6 246.1 893.5 246.2 926.1 246.2M717.4 243.2 725.0 243.2 725.7 209.7 726.2 209.8 727.7 210.5 730.6 211.4 741.0 214.0 747.8 215.9 753.4 217.7 758.2 219.4 761.8 220.8 765.8 222.7 773.0 226.4 777.8 229.4 779.8 230.1 781.0 230.1 782.2 229.7 783.8 228.9 786.2 227.4 787.8 225.8 790.6 222.4 792.2 221.0 793.3 220.6 795.0 220.9 796.6 221.6 803.4 225.5 807.0 227.9 811.8 231.5 813.0 232.7 813.8 233.8 815.8 240.2 816.6 241.8 818.6 242.8 820.3 243.2 844.6 243.2 845.6 210.1 846.2 210.2 851.8 212.1 857.4 214.5 867.8 219.5 875.8 223.0 878.6 224.5 881.0 226.1 883.8 228.5 885.0 229.8 886.2 231.5 887.0 233.3 888.6 238.9 889.4 241.1 889.9 241.8 891.8 242.9 893.2 243.2 926.1 243.2M717.4 240.1 725.0 240.1 725.7 206.6 726.2 206.7 727.7 207.5 730.6 208.3 741.0 210.9 748.2 213.0 753.4 214.6 758.2 216.3 761.4 217.6 765.4 219.5 773.0 223.4 777.8 226.4 779.8 227.1 781.0 227.1 782.2 226.7 783.8 225.9 786.2 224.4 787.8 222.8 790.6 219.3 792.2 217.9 793.3 217.6 795.0 217.9 796.6 218.7 803.8 222.9 807.0 225.1 811.4 228.5 813.0 230.2 813.8 231.6 815.4 236.5 816.2 238.4 816.6 238.8 818.2 239.7 819.4 240.0 820.2 240.1 844.4 240.1 844.6 237.0 845.4 206.7 845.8 206.7 847.0 207.0 851.0 208.5 856.2 210.8 867.8 216.5 875.8 220.1 878.2 221.4 880.6 223.0 883.4 225.4 884.6 226.8 885.9 228.7 886.6 230.1 888.2 235.7 889.0 237.9 889.5 238.8 891.4 239.8 892.9 240.1 926.1 240.1M717.4 237.1 725.0 237.1 725.7 203.6 726.2 203.6 727.7 204.4 730.6 205.3 741.0 207.9 748.2 209.9 753.4 211.6 758.2 213.3 761.4 214.6 765.4 216.5 773.0 220.4 777.8 223.5 779.0 224.0 779.8 224.1 781.0 224.1 782.2 223.7 786.2 221.3 787.8 219.8 790.6 216.3 792.2 214.9 793.3 214.5 794.6 214.7 796.6 215.7 803.8 220.0 807.4 222.6 811.4 225.9 812.6 227.2 813.4 228.4 815.8 234.9 816.3 235.7 817.8 236.5 819.0 236.9 820.0 237.1 844.1 237.1 845.1 203.3 847.0 203.7 851.4 205.4 855.0 207.0 867.8 213.5 875.4 217.0 877.8 218.3 879.8 219.6 881.4 220.8 883.0 222.3 885.4 225.4 886.2 227.0 888.6 234.7 889.2 235.7 891.0 236.7 892.5 237.1 926.1 237.1M717.4 234.0 725.0 234.0 725.7 200.5 726.2 200.6 727.7 201.4 730.6 202.2 741.0 204.8 748.6 207.0 753.8 208.6 758.6 210.4 762.2 211.9 766.2 213.8 773.0 217.4 777.4 220.3 779.4 221.1 780.2 221.2 781.4 221.0 782.6 220.5 784.2 219.6 786.2 218.3 787.0 217.6 790.6 213.3 791.8 212.2 793.0 211.6 793.8 211.5 794.6 211.7 796.2 212.5 803.8 217.2 807.4 219.8 810.6 222.5 811.8 223.8 813.0 225.3 815.8 232.2 816.2 232.7 817.8 233.5 819.0 233.9 819.8 234.0 843.8 234.0 844.2 225.1 844.6 205.9 844.8 199.9 846.2 200.1 849.4 201.3 854.6 203.6 867.8 210.5 875.4 214.0 877.8 215.4 879.6 216.7 881.4 218.1 882.6 219.3 885.0 222.4 885.8 223.9 888.2 231.5 888.9 232.7 890.6 233.6 892.2 234.0 926.1 234.0M717.4 231.0 725.0 231.0 725.7 197.5 726.2 197.5 727.7 198.3 730.6 199.2 741.0 201.7 748.6 203.9 753.8 205.6 758.6 207.3 761.8 208.6 765.8 210.6 773.0 214.4 777.4 217.3 779.4 218.1 780.2 218.2 781.4 218.0 782.6 217.5 784.2 216.6 786.2 215.3 787.0 214.6 790.6 210.3 791.8 209.1 793.0 208.5 793.8 208.5 794.6 208.7 796.2 209.5 803.8 214.3 807.0 216.7 809.8 219.1 811.4 220.8 813.0 222.9 815.0 227.9 815.8 229.4 817.4 230.4 818.6 230.8 819.7 231.0 843.5 231.0 843.8 227.1 844.5 196.5 845.8 196.7 849.0 197.9 854.2 200.2 867.8 207.5 875.4 211.1 877.4 212.3 879.4 213.6 881.0 215.0 882.2 216.2 884.6 219.4 885.4 220.8 885.8 221.9 887.4 227.2 888.2 229.2 888.5 229.6 890.2 230.6 891.0 230.8 891.9 231.0 926.1 231.0M717.4 227.9 725.0 227.9 725.7 194.4 726.2 194.5 727.7 195.2 730.6 196.1 741.0 198.7 748.6 200.9 754.2 202.7 758.6 204.2 761.8 205.6 765.8 207.6 773.0 211.4 777.4 214.4 779.4 215.1 780.6 215.1 781.8 214.8 783.4 214.0 785.8 212.5 787.4 211.2 790.2 207.7 791.4 206.4 792.2 205.8 793.0 205.5 794.2 205.6 796.2 206.5 803.0 210.9 806.2 213.2 809.0 215.6 811.0 217.7 812.6 219.9 815.4 226.0 815.9 226.6 817.4 227.4 818.6 227.8 819.6 227.9 843.3 227.9 844.3 193.1 845.8 193.4 848.6 194.4 853.8 196.8 867.7 204.5 875.4 208.2 879.0 210.5 880.6 211.9 881.8 213.1 884.2 216.3 885.0 217.7 885.4 218.7 887.0 224.0 887.8 226.0 888.2 226.6 889.8 227.5 890.6 227.8 891.5 227.9 926.1 227.9" fill="none" stroke="#1a1a1a" stroke-width="0.8" stroke-linejoin="round"/>
<path d="M717.4 224.9 725.0 224.9 725.7 188.0 726.2 188.4 727.4 191.2 727.7 191.7 730.2 193.0 733.8 194.1 742.2 196.0 751.8 198.9 757.8 200.9 763.4 203.1 772.6 207.1 777.4 209.8 779.8 210.7 781.0 210.8 782.2 210.6 783.4 210.1 786.2 208.6 787.8 207.4 791.0 204.3 792.6 203.3 793.4 203.1 794.2 203.1 796.6 203.7 804.2 207.5 806.6 209.0 809.0 210.9 810.6 212.7 814.2 218.3 817.0 221.8 818.2 222.9 819.0 223.2 822.2 222.9 828.6 221.6 831.0 221.2 833.4 221.2 839.4 221.4 840.6 221.2 841.6 220.9 841.8 220.6 842.2 218.2 842.6 213.9 844.2 191.3 844.6 187.8 844.9 186.5 846.6 186.7 851.0 187.7 857.0 189.6 859.8 190.8 862.6 192.2 864.2 193.1 865.8 194.4 868.6 197.1 875.4 204.7 880.6 209.9 882.6 212.2 884.2 214.6 887.4 222.4 888.2 223.6 889.0 224.1 890.6 224.7 891.8 224.9 926.1 224.9M717.4 221.8 725.0 221.8 725.7 184.9 726.2 185.4 727.4 188.2 727.7 188.6 730.2 189.9 733.8 191.1 742.2 192.9 751.8 195.9 757.8 197.9 763.4 200.0 772.6 204.1 777.4 206.7 779.8 207.6 781.0 207.7 782.2 207.5 783.4 207.0 786.2 205.5 787.8 204.3 791.0 201.3 792.6 200.3 793.4 200.0 794.2 200.0 796.2 200.5 798.2 201.4 803.4 204.0 805.8 205.4 807.8 206.9 810.2 209.0 814.6 214.8 817.4 217.4 818.2 217.9 818.9 218.1 820.6 218.0 822.2 217.5 828.2 215.2 830.6 214.6 832.6 214.4 838.7 214.8 842.3 214.5 842.6 213.9 843.0 211.4 845.0 189.3 845.4 187.0 845.6 186.5 847.0 186.6 852.6 188.1 857.8 190.1 863.4 193.0 867.0 195.8 869.4 198.0 872.6 201.4 876.2 205.4 878.6 208.4 880.2 210.7 881.4 212.7 884.2 219.5 885.0 220.6 885.8 221.1 887.4 221.6 888.5 221.8 926.1 221.8M717.4 218.7 725.0 218.7 725.7 181.9 726.2 182.3 727.4 185.1 727.7 185.6 730.2 186.9 733.8 188.0 742.2 189.9 751.8 192.8 757.8 194.8 763.4 197.0 772.6 201.0 777.4 203.7 779.8 204.6 781.0 204.7 782.2 204.5 783.4 204.0 786.2 202.5 787.8 201.2 791.0 198.2 792.6 197.2 793.4 197.0 794.2 197.0 796.2 197.4 802.2 200.3 805.8 202.5 809.8 205.5 813.4 209.4 814.6 210.6 817.4 212.3 818.9 212.7 820.2 212.5 821.8 211.9 823.4 210.9 827.8 207.7 829.4 206.8 830.6 206.4 832.6 206.4 837.8 207.0 843.0 207.0 843.4 206.1 843.8 203.9 845.4 190.3 845.8 187.9 846.3 186.5 847.8 186.7 852.6 188.0 855.0 188.9 857.8 190.3 864.6 194.2 867.0 195.9 869.4 197.9 872.6 201.1 874.6 203.6 878.2 210.0 881.0 216.6 881.8 217.7 883.0 218.3 884.2 218.6 885.2 218.7 926.1 218.7M717.4 215.7 725.0 215.7 725.7 178.8 726.2 179.3 727.4 182.1 727.7 182.5 730.2 183.8 733.8 185.0 742.2 186.8 752.2 189.9 758.2 191.9 763.4 193.9 772.6 198.0 777.4 200.6 779.0 201.3 781.0 201.6 782.2 201.4 783.4 200.9 787.0 198.9 790.6 195.5 791.8 194.6 793.0 194.0 794.6 194.0 795.8 194.3 797.4 194.9 801.8 197.0 803.8 198.2 809.4 202.1 813.0 205.3 814.2 206.2 816.2 206.9 818.6 207.3 819.8 207.2 821.4 206.5 823.0 205.4 827.8 201.2 829.0 200.5 830.2 200.0 832.2 200.0 837.4 200.7 843.8 200.7 844.2 199.7 844.6 198.0 845.8 190.7 846.6 187.1 846.9 186.5 848.6 186.7 852.2 187.6 855.8 189.3 867.0 195.9 868.6 197.0 870.2 198.3 872.0 200.3 873.0 201.9 877.8 213.8 878.5 214.7 879.8 215.3 881.0 215.6 881.8 215.7 926.1 215.7M717.4 212.6 725.0 212.6 725.7 175.8 726.2 176.2 727.4 179.0 727.7 179.5 730.2 180.8 733.8 181.9 742.2 183.8 751.8 186.7 757.8 188.7 763.4 190.9 772.6 194.9 777.4 197.6 779.8 198.5 780.8 198.6 781.8 198.5 784.2 197.5 787.0 195.8 790.6 192.5 791.8 191.5 793.0 191.0 794.2 190.9 795.4 191.1 797.0 191.6 801.8 194.0 813.4 201.6 815.0 202.0 818.2 201.7 819.4 201.4 820.6 200.0 821.8 197.8 825.0 190.7 826.2 188.8 827.0 188.0 827.6 187.8 829.0 188.0 834.2 189.2 840.2 189.8 844.3 189.9 845.0 189.6 847.0 186.9 847.4 186.6 848.2 186.5 851.8 187.3 854.2 188.3 856.6 189.8 862.6 193.8 867.4 195.9 868.6 196.6 869.8 197.6 870.7 198.6 871.0 199.1 872.6 205.7 874.2 210.1 875.0 211.5 876.6 212.3 878.5 212.6 926.1 212.6M717.4 209.6 725.0 209.6 725.7 172.7 726.2 173.2 727.4 176.0 727.7 176.4 730.2 177.7 733.8 178.9 742.2 180.7 751.8 183.6 757.8 185.6 763.4 187.8 772.6 191.9 777.4 194.5 779.8 195.4 780.8 195.5 781.8 195.4 784.2 194.4 787.0 192.8 790.6 189.4 791.8 188.5 793.0 187.9 794.2 187.8 795.4 188.0 797.0 188.6 801.8 191.0 808.2 195.2 813.0 198.0 814.6 198.5 816.6 198.3 819.0 197.5 819.8 196.7 821.0 194.2 823.4 187.7 824.6 185.0 825.4 184.0 825.8 183.8 827.0 183.8 830.2 184.6 835.4 186.6 837.8 188.2 846.6 194.7 849.0 196.1 852.6 197.0 861.4 198.3 863.4 198.9 865.4 199.6 866.6 201.0 869.0 205.2 871.0 208.1 871.8 209.1 872.6 209.6 926.1 209.6M717.4 206.5 725.0 206.5 725.7 169.7 726.2 170.1 727.4 172.9 727.7 173.4 730.2 174.6 733.8 175.8 742.2 177.6 751.8 180.6 757.8 182.6 763.4 184.8 772.6 188.8 777.4 191.4 779.8 192.3 780.8 192.5 781.8 192.3 784.2 191.3 787.0 189.7 790.6 186.4 791.8 185.4 793.0 184.9 794.2 184.8 795.4 185.0 797.0 185.5 801.8 187.9 808.2 192.2 813.0 194.9 814.6 195.4 816.6 195.3 819.0 194.4 819.8 193.6 821.0 191.0 823.4 184.3 824.2 182.4 825.0 181.1 825.4 180.8 826.6 180.7 828.2 181.0 830.2 181.6 835.4 183.7 837.8 185.2 846.6 191.6 849.0 193.0 852.2 194.0 859.4 195.3 862.6 196.5 863.4 197.1 864.2 198.1 866.6 202.3 868.6 205.2 869.4 206.1 870.2 206.5 926.1 206.5M717.4 203.5 725.0 203.5 725.7 166.6 726.2 167.0 727.4 169.9 727.7 170.3 730.2 171.6 733.8 172.8 742.2 174.6 751.8 177.5 757.8 179.5 763.4 181.7 772.6 185.8 777.4 188.4 779.8 189.3 780.8 189.4 781.8 189.3 784.2 188.3 787.0 186.7 790.6 183.3 791.8 182.4 793.0 181.8 794.2 181.7 795.4 181.9 797.0 182.5 801.8 184.8 808.2 189.1 813.0 191.9 814.6 192.4 816.6 192.2 819.0 191.4 819.8 190.5 821.0 187.8 823.0 181.9 824.2 179.0 825.0 177.9 825.4 177.6 826.6 177.6 828.2 177.9 830.2 178.5 835.4 180.7 837.8 182.3 846.6 188.5 849.0 189.9 851.4 190.8 857.4 192.2 860.2 193.4 861.4 194.7 864.2 199.4 866.2 202.3 867.0 203.2 867.4 203.4 926.1 203.5M717.4 200.4 725.0 200.4 725.7 163.6 726.2 164.0 727.4 166.8 727.7 167.3 730.2 168.5 733.8 169.7 742.2 171.5 751.8 174.5 757.8 176.5 763.4 178.7 772.6 182.7 777.4 185.3 779.8 186.2 780.8 186.4 781.8 186.2 784.2 185.2 787.0 183.6 790.6 180.3 791.8 179.3 793.0 178.7 794.2 178.7 795.4 178.9 797.0 179.4 801.8 181.8 808.2 186.1 813.0 188.8 814.6 189.3 816.6 189.2 819.0 188.3 819.8 187.4 820.6 185.7 823.0 178.5 824.2 175.6 825.0 174.6 825.3 174.5 826.2 174.5 827.8 174.8 829.4 175.3 834.6 177.4 837.4 179.0 846.6 185.4 848.6 186.6 850.6 187.6 855.4 189.2 857.6 190.4 859.0 191.9 861.4 195.9 863.8 199.4 864.6 200.2 865.0 200.4 926.1 200.4M717.4 197.4 725.0 197.4 725.7 160.5 726.2 160.9 727.4 163.7 727.7 164.2 730.2 165.5 733.8 166.7 742.2 168.5 751.8 171.4 757.8 173.4 763.4 175.6 772.6 179.7 777.4 182.3 779.8 183.2 780.8 183.3 781.8 183.2 784.2 182.2 787.0 180.5 790.6 177.2 791.8 176.3 793.0 175.7 794.2 175.6 795.4 175.8 797.0 176.4 801.8 178.7 808.2 183.0 813.0 185.8 814.6 186.3 816.6 186.1 818.9 185.3 819.4 184.9 820.6 182.5 823.0 175.1 823.8 173.0 824.6 171.7 825.0 171.4 826.2 171.4 827.8 171.7 829.8 172.4 835.4 174.8 848.6 183.5 853.0 185.9 854.6 186.9 855.4 187.5 856.2 188.5 859.0 193.1 861.4 196.4 862.2 197.2 862.6 197.4 926.1 197.4M717.4 194.3 725.0 194.3 725.7 157.5 726.2 157.9 727.4 160.7 727.7 161.1 730.2 162.4 733.8 163.6 742.2 165.4 751.8 168.4 757.8 170.4 763.4 172.6 772.6 176.6 777.4 179.2 779.8 180.1 780.8 180.2 781.8 180.1 784.2 179.1 787.0 177.5 790.6 174.1 791.8 173.2 793.0 172.6 794.2 172.6 795.4 172.8 797.0 173.3 801.8 175.7 808.2 180.0 813.0 182.7 814.2 183.1 815.0 183.3 817.0 183.0 819.0 182.2 819.8 181.2 820.6 179.3 823.0 171.6 823.8 169.6 824.6 168.4 824.9 168.3 825.8 168.3 827.4 168.6 829.4 169.2 833.8 171.1 835.4 171.9 852.6 183.0 854.6 184.9 857.8 189.9 859.8 192.7 860.6 193.8 861.4 194.3 926.1 194.3M717.4 191.3 725.0 191.3 725.7 154.4 726.2 154.8 727.4 157.6 727.7 158.1 730.2 159.4 733.8 160.6 742.2 162.4 751.8 165.3 757.8 167.3 763.4 169.5 772.6 173.5 777.4 176.2 779.8 177.1 780.8 177.2 781.8 177.1 784.2 176.1 787.0 174.4 790.6 171.1 791.8 170.2 793.0 169.6 794.2 169.5 795.4 169.7 797.0 170.3 801.8 172.6 808.2 176.9 813.0 179.7 814.2 180.1 815.0 180.2 817.0 179.9 818.9 179.2 819.4 178.8 819.8 178.1 820.6 176.1 822.6 169.4 823.8 166.2 824.2 165.6 824.6 165.2 825.8 165.2 827.4 165.6 829.0 166.1 835.0 168.7 846.6 175.9 849.0 177.6 851.0 179.2 853.0 181.3 859.0 190.1 859.8 191.0 860.2 191.2 926.1 191.3M717.4 188.2 725.0 188.2 725.7 151.4 726.2 151.8 727.4 154.6 727.7 155.0 730.2 156.3 733.8 157.5 742.2 159.3 751.8 162.3 757.8 164.3 763.4 166.4 772.6 170.5 777.4 173.1 779.8 174.0 780.8 174.1 781.8 174.0 784.2 173.0 787.0 171.4 790.6 168.0 791.8 167.1 793.0 166.5 794.2 166.4 795.4 166.7 797.0 167.2 801.8 169.6 808.2 173.9 813.0 176.6 814.2 177.0 815.0 177.1 817.0 176.9 818.9 176.1 819.4 175.7 819.8 175.0 820.6 172.9 822.6 165.9 823.4 163.6 824.2 162.3 824.6 162.1 825.4 162.1 827.0 162.4 828.6 162.9 834.6 165.5 837.4 167.1 842.6 170.4 846.6 172.7 848.2 173.8 849.4 174.9 850.2 175.8 857.8 186.9 858.6 187.9 859.0 188.1 926.1 188.2" fill="none" stroke="#e93ce9" stroke-width="0.75" stroke-linejoin="round"/>
<path d="M716.9 265.4H926.1" stroke="#333" stroke-width="0.9"/>
<path d="M725.7 265.4v4" stroke="#333" stroke-width="0.9"/>
<text x="725.7" y="283.9" font-family='"Liberation Serif", serif' font-size="16.0" text-anchor="middle" fill="#000" >0.0</text>
<path d="M809.2 265.4v4" stroke="#333" stroke-width="0.9"/>
<text x="809.2" y="283.9" font-family='"Liberation Serif", serif' font-size="16.0" text-anchor="middle" fill="#000" >0.5</text>
<path d="M892.7 265.4v4" stroke="#333" stroke-width="0.9"/>
<text x="892.7" y="283.9" font-family='"Liberation Serif", serif' font-size="16.0" text-anchor="middle" fill="#000" >1.0</text>
<path d="M767.5 265.4v2.3" stroke="#333" stroke-width="0.8"/>
<path d="M851.0 265.4v2.3" stroke="#333" stroke-width="0.8"/>
<path d="M480.9 399.6 488.6 399.6 489.3 366.1 489.8 366.2 491.3 366.9 493.8 367.7 505.4 370.6 517.8 374.4 524.6 376.9 534.1 381.1 539.4 383.1 545.4 385.2 550.6 386.5 552.6 387.3 553.6 387.9 554.2 388.6 555.0 390.7 556.6 395.9 557.4 397.5 559.0 398.8 560.2 399.4 561.1 399.6 574.1 399.6 574.6 391.0 575.0 374.6 575.5 361.8 576.2 362.0 577.8 362.7 579.8 364.2 593.8 378.6 602.2 387.0 605.0 389.5 612.0 395.2 615.0 398.1 615.7 398.6 617.4 399.3 619.1 399.6 689.7 399.6M480.9 396.5 488.6 396.5 489.3 363.0 489.8 363.1 491.3 363.9 493.8 364.7 505.4 367.6 517.8 371.4 524.6 373.8 534.1 378.0 539.8 380.2 545.8 382.3 551.0 383.6 553.4 384.5 555.0 385.4 555.8 386.5 558.6 392.5 559.4 393.9 559.9 394.5 561.0 395.3 562.6 396.3 563.6 396.5 574.3 396.5 574.6 393.4 575.4 366.0 575.6 361.9 576.6 362.1 578.2 362.9 580.6 364.7 593.4 377.4 599.4 383.2 602.2 385.7 610.6 392.0 613.8 395.1 614.5 395.5 616.6 396.4 617.8 396.5 689.7 396.5M480.9 393.5 488.6 393.5 489.3 360.0 489.8 360.1 491.3 360.8 493.8 361.6 505.4 364.5 517.8 368.3 524.6 370.8 534.1 375.0 539.8 377.1 545.8 379.3 551.8 380.9 554.2 381.7 555.8 382.5 557.0 383.7 560.6 389.6 561.8 391.2 563.8 392.7 565.4 393.4 574.5 393.5 575.0 384.2 575.4 370.4 575.8 361.9 576.6 362.0 578.2 362.8 580.6 364.5 597.4 380.3 601.0 383.4 603.0 384.9 609.0 388.7 610.2 389.7 612.6 392.1 613.8 392.7 615.4 393.3 616.6 393.5 689.7 393.5M480.9 390.4 488.6 390.4 489.3 356.9 489.8 357.0 491.3 357.8 493.8 358.5 505.4 361.4 517.8 365.2 524.6 367.7 534.1 371.9 539.4 373.9 545.8 376.2 552.6 378.1 555.4 379.1 557.0 379.9 558.2 380.9 559.8 382.6 563.0 386.6 564.2 387.8 567.0 389.9 568.2 390.4 574.6 390.4 575.0 386.5 575.8 364.0 576.0 361.9 576.6 362.0 578.2 362.7 580.6 364.3 597.0 378.8 599.8 381.1 601.8 382.5 606.2 384.8 608.2 386.0 611.0 388.7 611.8 389.3 614.2 390.3 615.3 390.4 689.7 390.4M480.9 387.4 488.6 387.4 489.3 353.9 489.8 354.0 491.3 354.7 493.4 355.4 505.8 358.5 518.6 362.5 524.6 364.7 537.4 370.1 545.8 373.2 550.6 374.6 552.6 375.4 554.4 376.3 555.4 377.2 556.6 378.9 559.4 383.7 560.6 385.3 562.6 386.5 564.6 387.3 566.2 387.3 567.8 386.7 572.6 383.7 574.2 382.9 574.8 382.4 575.4 376.9 576.2 363.8 576.5 361.9 578.6 362.3 580.6 363.5 585.0 367.4 596.6 377.2 599.0 379.0 601.0 380.2 605.0 381.9 606.6 382.7 607.8 383.6 610.2 386.0 611.4 386.7 613.0 387.2 614.0 387.4 689.7 387.4M480.9 384.3 488.6 384.3 489.3 350.8 489.8 350.9 491.3 351.7 493.4 352.3 505.8 355.4 518.6 359.4 525.0 361.8 537.0 366.9 545.8 370.1 551.4 371.9 553.4 372.8 554.2 373.3 557.8 377.5 558.6 378.2 559.4 378.5 559.8 378.4 560.6 378.1 561.8 377.0 565.8 371.2 567.4 369.4 569.0 368.5 572.6 367.2 574.2 366.2 574.6 365.7 576.2 362.4 576.6 361.8 577.0 361.6 577.4 361.6 579.4 361.9 581.0 362.7 585.0 366.0 597.8 375.5 599.8 376.8 603.8 378.8 605.8 380.0 608.6 382.7 609.4 383.3 611.8 384.2 612.8 384.3 689.7 384.3M480.9 381.3 488.6 381.3 489.3 347.8 489.8 347.9 491.3 348.6 493.4 349.3 505.8 352.4 518.1 356.2 524.6 358.5 537.4 364.0 545.4 366.9 550.6 368.5 551.9 369.2 552.6 369.8 555.0 374.0 555.8 374.8 556.1 374.9 556.6 374.8 557.4 374.4 558.6 373.0 559.8 371.0 563.4 364.4 564.6 362.8 565.4 362.1 566.1 361.8 577.4 361.5 579.4 361.8 581.0 362.6 597.4 373.0 603.8 376.8 605.0 377.7 607.8 380.0 609.8 380.9 611.0 381.2 689.7 381.3M480.9 378.2 488.6 378.2 489.3 344.7 489.8 344.8 491.3 345.6 493.8 346.3 505.4 349.2 517.8 353.0 524.1 355.3 535.0 360.1 537.8 361.0 545.0 363.0 548.2 364.5 549.0 364.8 550.2 364.7 551.4 364.3 553.0 363.2 557.0 359.9 558.2 359.2 559.4 359.0 562.2 359.2 567.4 360.3 580.6 362.3 583.0 362.8 585.4 363.9 596.6 370.4 599.0 371.9 602.6 374.7 605.4 376.4 608.2 377.7 609.8 378.2 689.7 378.2M480.9 375.2 488.6 375.2 489.3 341.7 489.8 341.7 491.3 342.5 493.8 343.3 505.4 346.2 517.8 350.0 524.1 352.3 535.0 357.0 537.8 357.9 545.0 360.0 548.2 361.5 549.0 361.7 550.2 361.7 551.8 360.8 553.0 359.9 556.2 356.8 558.2 355.4 559.4 355.1 561.8 355.4 567.4 357.6 573.8 359.6 577.4 360.5 582.6 361.4 584.6 362.0 591.0 365.1 596.6 368.1 598.2 369.2 601.4 372.0 602.6 372.7 605.0 373.9 607.4 374.8 608.6 375.1 689.7 375.2M480.9 372.1 488.6 372.1 489.3 338.6 489.8 338.7 491.3 339.5 493.8 340.2 505.4 343.1 517.4 346.8 524.1 349.2 535.4 354.1 545.2 357.0 547.8 358.1 549.0 358.5 550.2 358.4 551.8 357.6 553.0 356.5 556.2 353.2 557.8 351.9 558.6 351.5 559.4 351.3 561.0 351.6 563.0 352.4 567.4 354.8 574.6 358.0 577.4 358.8 583.4 359.9 590.6 362.7 594.6 364.6 596.3 365.5 597.4 366.4 599.8 368.9 600.8 369.6 602.6 370.4 607.4 372.1 689.7 372.1M480.9 369.1 488.6 369.1 489.3 335.6 489.8 335.6 491.3 336.4 493.8 337.2 505.4 340.1 517.0 343.6 524.1 346.2 535.0 350.9 541.0 353.0 544.6 353.9 548.6 354.4 549.8 354.4 550.6 354.2 551.4 353.7 552.6 352.8 555.8 349.7 557.4 348.4 559.0 347.7 560.6 347.8 562.6 348.7 567.4 352.1 574.6 356.1 577.4 357.1 582.2 357.9 584.2 358.4 589.0 360.0 593.0 361.5 594.6 362.2 595.8 363.0 598.6 366.1 599.4 366.8 600.6 367.3 606.2 369.0 689.7 369.1M480.9 366.0 488.6 366.0 489.3 332.5 489.8 332.6 491.3 333.3 493.8 334.1 505.4 337.0 517.8 340.8 524.1 343.1 534.6 347.7 541.0 350.1 543.8 350.8 545.2 350.9 546.6 350.8 550.2 350.0 552.2 348.7 555.8 345.5 557.4 344.4 559.0 343.8 559.8 343.7 560.6 343.9 562.6 345.1 567.0 348.9 572.2 352.7 575.4 354.7 577.8 355.5 582.6 356.2 585.0 356.8 589.0 357.9 592.6 359.1 594.2 359.8 595.0 360.4 597.4 363.4 598.2 364.0 599.4 364.4 601.9 365.0 605.0 366.0 689.7 366.0" fill="none" stroke="#1a1a1a" stroke-width="0.8" stroke-linejoin="round"/>
<path d="M480.9 363.0 488.6 363.0 489.3 326.1 489.8 326.5 490.9 329.3 491.3 329.8 494.2 331.2 497.4 332.2 505.4 334.0 515.0 336.9 521.0 338.9 526.1 340.9 536.6 345.4 541.8 348.0 544.2 348.8 545.8 348.8 547.8 348.2 551.4 346.2 555.4 343.1 556.6 342.4 557.4 342.2 559.0 342.3 561.0 343.0 565.4 344.9 569.8 347.5 571.4 348.2 572.6 348.5 575.4 348.8 577.4 348.9 579.0 348.4 580.6 347.5 584.2 345.1 585.8 344.4 587.4 344.2 589.8 344.7 599.8 348.6 602.2 349.9 604.2 351.3 605.4 352.5 606.7 354.6 607.4 356.4 608.6 360.7 609.0 361.7 609.2 361.9 610.2 362.4 611.8 362.9 689.7 363.0M480.9 359.9 488.6 359.9 489.3 323.0 489.8 323.5 490.9 326.3 491.3 326.7 494.2 328.2 497.4 329.2 505.4 330.9 515.0 333.8 521.0 335.8 526.1 337.8 536.6 342.4 541.8 345.0 544.2 345.7 545.8 345.8 547.8 345.1 551.4 343.2 555.4 340.0 556.6 339.4 557.4 339.2 559.0 339.3 561.0 339.9 565.4 341.9 569.8 344.4 571.4 345.1 572.8 345.5 576.6 345.8 577.8 345.7 579.4 344.9 583.8 341.0 585.8 339.7 586.6 339.5 587.4 339.5 589.8 339.9 595.0 342.0 597.4 343.2 600.6 345.3 604.2 348.2 605.8 349.9 607.0 351.7 609.0 358.3 609.4 358.9 610.6 359.5 611.8 359.8 689.7 359.9M480.9 356.8 488.6 356.8 489.3 320.0 489.8 320.4 490.9 323.2 491.3 323.7 494.2 325.1 497.4 326.1 505.4 327.8 515.0 330.8 521.0 332.8 526.1 334.8 536.6 339.3 541.8 341.9 544.2 342.7 545.8 342.7 547.8 342.1 551.4 340.1 555.8 336.7 557.0 336.2 557.8 336.1 559.4 336.3 561.4 337.0 565.4 338.8 569.8 341.4 571.4 342.1 572.6 342.4 574.2 342.6 577.4 342.7 578.6 342.3 579.8 341.4 583.8 337.3 585.4 336.1 586.2 335.7 587.0 335.6 588.2 335.7 589.8 336.0 594.6 337.9 597.0 339.2 600.2 341.6 604.6 345.6 605.8 346.8 607.0 348.5 607.4 349.3 609.0 354.8 609.4 355.7 610.6 356.3 611.8 356.7 612.9 356.8 689.7 356.8M480.9 353.8 488.6 353.8 489.3 316.9 489.8 317.4 490.9 320.2 491.3 320.6 494.2 322.1 497.4 323.1 505.4 324.8 515.0 327.7 521.0 329.7 526.1 331.7 536.6 336.2 541.8 338.9 544.2 339.6 545.8 339.7 547.8 339.0 551.4 337.1 555.8 333.7 557.0 333.1 557.8 333.0 559.4 333.2 561.4 334.0 565.4 335.8 569.8 338.3 571.4 339.0 572.6 339.3 574.2 339.5 577.4 339.7 578.6 339.2 579.8 338.4 583.8 334.3 585.4 333.0 586.2 332.6 587.0 332.5 588.2 332.6 589.8 332.9 594.6 334.8 597.0 336.2 600.2 338.6 605.0 342.8 606.6 344.6 607.4 345.9 609.4 352.3 609.7 352.8 610.2 353.0 612.2 353.7 689.7 353.8M480.9 350.7 488.6 350.7 489.3 313.9 489.8 314.3 490.9 317.1 491.3 317.6 494.2 319.0 497.4 320.0 505.4 321.7 515.0 324.7 521.0 326.7 526.1 328.7 536.6 333.2 541.8 335.8 544.2 336.6 545.8 336.6 547.8 336.0 551.4 334.0 555.8 330.6 557.0 330.1 557.8 330.0 559.4 330.2 561.4 330.9 565.4 332.7 569.8 335.2 571.4 336.0 572.6 336.3 574.2 336.5 577.4 336.6 578.6 336.2 579.8 335.3 583.8 331.2 585.4 329.9 586.2 329.5 587.0 329.4 588.2 329.4 589.8 329.8 594.6 331.7 597.0 333.1 599.8 335.2 605.4 340.1 606.6 341.4 607.4 342.5 607.8 343.5 609.0 347.7 609.8 349.6 611.0 350.3 612.2 350.6 613.2 350.7 689.7 350.7M480.9 347.7 488.6 347.7 489.3 310.8 489.8 311.3 490.9 314.1 491.3 314.5 494.2 316.0 497.4 317.0 505.4 318.7 515.0 321.6 521.0 323.6 526.1 325.6 536.6 330.1 541.8 332.8 544.2 333.5 545.8 333.6 547.8 332.9 551.4 330.9 555.8 327.6 557.0 327.0 557.8 326.9 559.4 327.1 561.4 327.9 565.4 329.7 569.8 332.2 571.4 332.9 572.6 333.2 574.2 333.4 577.4 333.6 578.6 333.1 579.8 332.2 583.8 328.1 585.4 326.8 586.2 326.4 587.0 326.3 588.2 326.3 589.8 326.7 594.6 328.6 597.0 330.0 599.8 332.1 605.8 337.4 607.0 338.7 607.8 340.0 609.4 345.4 609.8 346.3 610.0 346.7 611.0 347.1 612.6 347.6 689.7 347.7M480.9 344.6 488.6 344.6 489.3 307.8 489.8 308.2 490.9 311.0 491.3 311.5 494.2 312.9 497.4 313.9 505.4 315.6 515.0 318.6 521.0 320.5 526.1 322.5 536.6 327.1 541.8 329.7 544.2 330.5 545.8 330.5 547.8 329.9 551.4 327.9 555.8 324.5 557.0 324.0 557.8 323.9 559.4 324.1 561.4 324.8 565.4 326.6 569.8 329.1 571.4 329.9 572.6 330.2 574.2 330.4 577.4 330.5 578.6 330.1 579.8 329.2 583.8 325.0 585.4 323.7 586.2 323.3 587.0 323.2 588.2 323.2 589.8 323.6 594.6 325.5 596.6 326.6 599.0 328.4 605.8 334.2 607.0 335.5 607.8 336.6 609.4 341.9 609.8 343.0 610.2 343.6 611.4 344.2 612.6 344.5 613.5 344.6 689.7 344.6M480.9 341.6 488.6 341.6 489.3 304.7 489.8 305.1 490.9 308.0 491.3 308.4 494.2 309.9 497.4 310.9 505.4 312.6 515.0 315.5 521.0 317.5 526.1 319.5 536.6 324.0 541.8 326.6 544.2 327.4 545.8 327.5 547.8 326.8 551.4 324.8 555.8 321.4 557.0 320.9 557.8 320.8 559.4 321.0 561.4 321.7 565.4 323.6 569.8 326.1 571.4 326.8 572.6 327.1 574.2 327.3 577.4 327.5 578.6 327.0 579.8 326.1 583.8 321.9 585.4 320.6 586.2 320.2 587.0 320.1 588.2 320.1 589.8 320.5 594.6 322.4 596.6 323.5 599.0 325.4 603.7 329.5 606.2 331.5 607.8 333.3 608.2 334.2 609.8 339.5 610.2 340.3 611.4 341.0 613.0 341.5 689.7 341.6M480.9 338.5 488.6 338.5 489.3 301.7 489.8 302.1 490.9 304.9 491.3 305.4 494.2 306.8 497.4 307.8 505.4 309.5 515.0 312.5 521.0 314.4 526.1 316.4 536.6 321.0 541.8 323.6 544.2 324.4 545.8 324.4 547.8 323.7 551.4 321.8 555.8 318.4 557.0 317.9 557.8 317.8 559.4 318.0 561.4 318.7 565.4 320.5 569.8 323.0 571.4 323.8 572.6 324.1 574.2 324.3 577.4 324.4 578.6 324.0 579.8 323.0 583.8 318.8 585.4 317.5 586.2 317.1 587.0 316.9 588.2 317.0 589.8 317.4 594.6 319.3 596.6 320.4 598.6 322.0 603.7 326.5 606.6 328.7 607.8 330.1 608.2 330.8 610.2 337.0 610.5 337.5 611.0 337.7 613.0 338.4 689.7 338.5M480.9 335.5 488.6 335.5 489.3 298.6 489.8 299.0 490.9 301.8 491.3 302.3 494.2 303.7 497.4 304.8 505.4 306.5 515.0 309.4 521.0 311.4 526.1 313.4 536.6 317.9 541.8 320.5 544.2 321.3 545.8 321.4 547.8 320.7 551.4 318.7 555.8 315.3 557.0 314.8 557.8 314.7 559.4 314.9 561.4 315.6 565.4 317.4 569.8 320.0 571.4 320.7 572.6 321.0 574.2 321.2 577.4 321.4 578.6 320.9 579.8 320.0 583.8 315.7 585.4 314.4 586.2 314.0 587.0 313.8 588.2 313.9 589.8 314.3 594.6 316.2 596.6 317.3 599.0 319.2 603.8 323.5 606.6 325.6 607.4 326.3 608.2 327.4 609.8 332.5 610.6 334.3 611.8 335.0 613.0 335.3 614.0 335.5 689.7 335.5M480.9 332.4 488.6 332.4 489.3 295.6 489.8 296.0 490.9 298.8 491.3 299.2 494.2 300.7 497.4 301.7 505.4 303.4 515.0 306.3 521.0 308.3 526.1 310.3 536.6 314.9 541.8 317.5 544.2 318.2 545.8 318.3 547.8 317.6 551.4 315.7 555.8 312.3 557.0 311.8 557.8 311.6 559.4 311.9 561.4 312.6 565.4 314.4 569.8 316.9 571.4 317.6 572.6 318.0 574.2 318.2 577.4 318.3 578.6 317.8 579.8 316.9 583.8 312.6 585.4 311.3 586.2 310.9 587.0 310.7 588.2 310.8 589.8 311.2 594.6 313.1 596.6 314.3 598.6 315.8 603.7 320.4 607.0 322.8 608.1 324.0 608.6 325.0 610.2 330.1 610.6 331.0 610.9 331.4 611.4 331.7 613.4 332.3 689.7 332.4M480.9 329.4 488.6 329.4 489.3 292.5 489.8 292.9 490.9 295.7 491.3 296.2 494.2 297.6 497.4 298.7 505.4 300.4 515.0 303.3 521.0 305.3 526.1 307.3 536.6 311.8 541.8 314.4 544.2 315.2 545.8 315.3 547.8 314.6 551.4 312.6 555.8 309.2 557.0 308.7 557.8 308.6 559.4 308.8 561.4 309.5 565.4 311.3 569.8 313.9 571.4 314.6 572.6 314.9 574.2 315.1 577.4 315.3 578.6 314.8 579.8 313.9 583.8 309.5 585.4 308.2 586.2 307.8 587.0 307.6 588.2 307.7 589.8 308.1 593.0 309.3 595.0 310.2 596.2 310.9 598.6 312.7 603.7 317.3 607.0 319.6 608.2 320.9 608.6 321.6 610.2 326.6 610.6 327.7 611.0 328.3 612.2 328.9 613.4 329.3 614.4 329.4 689.7 329.4M480.9 326.3 488.6 326.3 489.3 289.5 489.8 289.9 490.9 292.7 491.3 293.1 494.2 294.6 497.4 295.6 505.4 297.3 515.0 300.2 521.0 302.2 526.1 304.2 536.6 308.8 541.8 311.4 544.2 312.1 545.8 312.2 547.8 311.5 551.4 309.6 555.8 306.2 557.0 305.7 557.8 305.5 559.4 305.8 561.4 306.5 565.4 308.3 569.8 310.8 571.4 311.5 572.6 311.9 574.2 312.1 577.4 312.2 578.6 311.7 579.8 310.8 583.8 306.4 585.4 305.1 586.2 304.7 587.0 304.5 588.2 304.6 589.8 305.0 593.0 306.2 595.0 307.1 596.2 307.8 598.2 309.3 603.7 314.2 607.4 316.8 608.6 318.2 610.6 324.2 611.0 325.0 611.2 325.3 612.2 325.8 613.8 326.2 689.7 326.3" fill="none" stroke="#e93ce9" stroke-width="0.75" stroke-linejoin="round"/>
<path d="M480.4 402.4H689.7" stroke="#333" stroke-width="0.9"/>
<path d="M489.3 402.4v4" stroke="#333" stroke-width="0.9"/>
<text x="489.3" y="422.3" font-family='"Liberation Serif", serif' font-size="16.0" text-anchor="middle" fill="#000" >0.0</text>
<path d="M572.8 402.4v4" stroke="#333" stroke-width="0.9"/>
<text x="572.8" y="422.3" font-family='"Liberation Serif", serif' font-size="16.0" text-anchor="middle" fill="#000" >0.5</text>
<path d="M656.3 402.4v4" stroke="#333" stroke-width="0.9"/>
<text x="656.3" y="422.3" font-family='"Liberation Serif", serif' font-size="16.0" text-anchor="middle" fill="#000" >1.0</text>
<path d="M531.0 402.4v2.3" stroke="#333" stroke-width="0.8"/>
<path d="M614.5 402.4v2.3" stroke="#333" stroke-width="0.8"/>
<path d="M717.2 399.6 724.9 399.6 725.6 366.1 726.1 366.2 727.6 366.9 730.5 367.8 740.5 370.3 746.9 372.1 752.9 374.0 758.1 375.8 762.1 377.4 766.5 379.4 772.9 382.4 777.7 385.3 778.9 385.8 780.1 386.2 781.2 386.2 782.5 385.8 786.1 383.6 787.7 382.1 790.5 378.6 792.1 377.2 793.2 376.8 794.5 377.0 795.7 377.3 802.5 380.4 809.2 384.3 812.1 385.6 813.7 386.7 814.5 387.5 814.9 388.4 816.5 395.4 817.2 398.0 817.7 398.4 818.9 399.1 820.5 399.5 926.0 399.6M717.2 396.5 724.9 396.5 725.6 363.0 726.1 363.1 727.6 363.9 730.5 364.8 740.9 367.3 747.2 369.2 752.9 370.9 758.1 372.7 761.7 374.2 766.1 376.2 772.9 379.4 777.7 382.3 778.9 382.9 780.1 383.2 781.2 383.2 782.5 382.8 786.1 380.6 787.7 379.0 790.5 375.6 792.1 374.2 793.2 373.8 795.2 374.2 802.5 377.5 809.2 381.5 812.1 383.0 813.2 383.8 814.3 384.9 814.9 386.3 816.9 394.4 817.2 395.2 817.7 395.4 818.9 396.1 820.1 396.5 821.0 396.5 926.0 396.5M717.2 393.5 724.9 393.5 725.6 360.0 726.1 360.1 727.6 360.8 730.5 361.7 740.9 364.3 747.2 366.1 753.2 368.0 758.1 369.7 762.1 371.3 766.9 373.5 772.9 376.4 777.7 379.4 779.7 380.1 780.9 380.2 782.1 379.9 783.7 379.1 786.1 377.6 787.7 376.0 790.5 372.6 792.1 371.1 793.2 370.8 795.2 371.2 802.9 374.9 809.2 378.8 811.7 380.1 813.2 381.3 814.1 382.2 814.5 382.9 816.1 389.2 816.9 391.8 817.1 392.2 818.1 392.7 820.1 393.4 926.0 393.5M717.2 390.4 724.9 390.4 725.6 356.9 726.1 357.0 727.6 357.8 730.5 358.7 740.9 361.2 747.2 363.1 753.2 364.9 758.1 366.6 762.1 368.2 766.5 370.3 772.9 373.5 777.7 376.4 779.7 377.1 780.9 377.2 782.1 376.9 783.7 376.1 786.1 374.6 787.7 373.0 790.5 369.5 792.1 368.1 793.2 367.7 795.2 368.2 802.9 372.0 811.7 377.5 812.9 378.4 813.9 379.5 814.5 380.7 816.1 386.9 816.9 389.0 818.5 389.9 820.1 390.4 926.0 390.4M717.2 387.4 724.9 387.4 725.6 353.9 726.1 354.0 727.6 354.7 730.5 355.6 740.9 358.2 747.6 360.1 753.2 361.9 758.1 363.6 761.7 365.0 766.1 367.1 772.9 370.5 777.7 373.4 779.7 374.2 780.9 374.2 782.1 373.9 783.7 373.1 786.1 371.5 787.7 370.0 790.5 366.5 792.1 365.1 793.2 364.7 794.9 365.0 796.5 365.7 802.9 369.1 811.2 374.5 812.5 375.4 813.7 376.7 814.1 377.4 816.5 385.5 816.8 386.0 817.7 386.5 819.7 387.3 926.0 387.4M717.2 384.3 724.9 384.3 725.6 350.8 726.1 350.9 727.6 351.7 730.5 352.5 740.9 355.1 747.6 357.1 753.2 358.8 758.1 360.5 761.7 362.0 765.7 363.9 772.9 367.5 777.7 370.5 779.7 371.2 780.9 371.2 782.1 370.9 783.7 370.0 786.1 368.5 787.7 366.9 790.5 363.5 792.1 362.1 793.2 361.7 794.9 362.0 796.5 362.7 803.2 366.5 806.5 368.6 812.1 372.5 813.5 374.1 814.1 375.2 815.7 380.7 816.5 382.7 818.1 383.8 819.7 384.3 926.0 384.3M717.2 381.3 724.9 381.3 725.6 347.8 726.1 347.9 727.6 348.6 730.5 349.5 740.9 352.1 747.6 354.0 753.2 355.8 758.1 357.5 761.7 358.9 765.7 360.8 772.9 364.5 777.7 367.5 779.7 368.2 780.9 368.2 782.1 367.8 783.7 367.0 786.1 365.5 787.7 363.9 790.5 360.5 792.1 359.1 793.2 358.7 794.9 359.0 796.5 359.7 803.7 363.9 807.2 366.3 812.1 369.9 813.2 371.3 813.7 371.9 815.7 378.3 816.5 379.9 818.1 380.8 819.7 381.2 926.0 381.3M717.2 378.2 724.9 378.2 725.6 344.7 726.1 344.8 727.6 345.6 730.5 346.4 740.9 349.0 748.1 351.1 753.2 352.7 758.1 354.4 761.2 355.7 765.2 357.6 772.9 361.5 777.7 364.5 779.7 365.2 780.9 365.2 782.1 364.8 783.7 364.0 786.1 362.5 787.7 360.9 790.5 357.4 792.1 356.0 793.2 355.7 794.9 356.0 796.5 356.8 803.7 361.0 807.2 363.5 811.7 367.0 813.2 368.7 813.7 369.7 815.2 374.6 816.1 376.5 816.4 376.9 817.2 377.4 819.2 378.1 926.0 378.2M717.2 375.2 724.9 375.2 725.6 341.7 726.1 341.7 727.6 342.5 730.5 343.4 740.9 346.0 748.1 348.0 753.2 349.7 758.1 351.4 761.2 352.7 765.2 354.6 772.9 358.5 777.7 361.6 778.9 362.1 779.7 362.2 780.9 362.2 782.1 361.8 786.1 359.4 787.7 357.9 790.5 354.4 792.1 353.0 793.2 352.6 794.9 353.0 796.5 353.8 803.7 358.1 807.2 360.7 810.9 363.7 812.1 364.8 813.2 366.5 815.2 372.1 816.1 373.7 817.7 374.6 819.2 375.1 926.0 375.2M717.2 372.1 724.9 372.1 725.6 338.6 726.1 338.7 727.6 339.5 730.5 340.3 740.9 342.9 748.5 345.1 753.6 346.7 758.5 348.5 762.1 350.0 766.1 351.9 772.9 355.5 777.2 358.4 779.2 359.2 780.1 359.3 781.2 359.1 782.5 358.6 784.1 357.7 786.1 356.4 786.9 355.7 790.5 351.4 791.7 350.3 792.9 349.7 793.7 349.6 794.5 349.8 796.1 350.6 803.2 355.0 806.9 357.6 810.1 360.3 811.7 361.9 812.9 363.4 815.7 370.3 816.1 370.8 816.9 371.2 818.9 372.0 819.8 372.1 926.0 372.1M717.2 369.1 724.9 369.1 725.6 335.6 726.1 335.6 727.6 336.4 730.5 337.3 740.9 339.8 748.5 342.0 753.6 343.7 758.5 345.4 761.7 346.7 765.7 348.7 772.9 352.5 777.2 355.4 779.2 356.2 780.1 356.3 781.2 356.1 782.5 355.6 784.1 354.7 786.1 353.4 786.9 352.7 790.5 348.4 791.7 347.2 792.9 346.6 793.7 346.6 794.5 346.8 796.1 347.6 803.2 352.1 806.5 354.5 809.1 356.7 811.2 358.9 812.6 360.7 813.2 361.9 814.9 366.0 815.7 367.5 817.2 368.5 818.9 369.0 926.0 369.1M717.2 366.0 724.9 366.0 725.6 332.5 726.1 332.6 727.6 333.3 730.5 334.2 740.9 336.8 748.5 339.0 754.1 340.8 758.5 342.3 761.7 343.7 765.7 345.7 772.9 349.5 777.2 352.5 779.2 353.2 780.1 353.3 781.2 353.1 782.5 352.6 784.1 351.6 786.1 350.4 786.9 349.7 790.5 345.3 791.7 344.2 792.9 343.6 793.7 343.6 794.5 343.8 796.1 344.6 803.2 349.2 806.1 351.3 808.5 353.3 810.5 355.4 812.5 358.0 815.2 364.1 815.8 364.7 816.9 365.3 818.9 366.0 926.0 366.0" fill="none" stroke="#1a1a1a" stroke-width="0.8" stroke-linejoin="round"/>
<path d="M717.2 363.0 724.9 363.0 725.6 326.1 726.1 326.5 727.2 329.3 727.6 329.8 730.1 331.1 733.6 332.2 742.1 334.1 751.7 337.0 757.7 339.0 763.2 341.2 772.5 345.2 777.2 347.9 779.7 348.8 780.9 348.9 782.1 348.7 783.2 348.2 786.1 346.7 787.7 345.4 791.2 341.9 792.9 340.8 793.7 340.5 794.5 340.5 796.9 341.1 802.1 343.5 804.5 345.1 811.2 350.2 812.9 351.1 816.1 352.4 817.5 353.2 818.1 354.1 818.5 355.0 820.1 359.4 820.9 361.0 822.9 362.4 824.5 362.9 926.0 363.0M717.2 359.9 724.9 359.9 725.6 323.0 726.1 323.5 727.2 326.3 727.6 326.7 730.1 328.0 733.6 329.2 742.1 331.0 751.7 334.0 757.7 336.0 763.2 338.1 772.5 342.2 777.2 344.8 779.7 345.7 780.9 345.8 782.1 345.6 783.2 345.1 786.1 343.6 787.7 342.4 791.2 338.8 792.9 337.7 793.7 337.5 794.5 337.5 796.9 338.0 801.2 340.0 802.9 341.0 809.7 346.1 811.7 347.4 813.2 348.2 816.1 349.3 817.6 350.2 818.5 351.5 820.1 355.9 820.9 357.6 821.2 358.2 822.5 359.0 823.7 359.6 824.5 359.8 926.0 359.9M717.2 356.8 724.9 356.8 725.6 320.0 726.1 320.4 727.2 323.2 727.6 323.7 730.1 325.0 733.6 326.1 742.1 328.0 751.7 330.9 757.7 332.9 763.2 335.1 772.5 339.1 777.2 341.8 779.7 342.7 780.9 342.8 782.1 342.6 783.2 342.1 786.1 340.6 787.7 339.3 791.2 335.8 792.9 334.7 793.7 334.4 794.5 334.4 796.9 335.0 801.2 337.0 802.9 337.9 809.7 343.0 811.7 344.3 813.2 345.2 816.5 346.3 817.8 347.1 818.5 348.1 820.5 353.3 821.2 354.9 823.2 356.3 824.9 356.8 926.0 356.8M717.2 353.8 724.9 353.8 725.6 316.9 726.1 317.4 727.2 320.2 727.6 320.6 730.1 321.9 733.6 323.1 742.1 324.9 751.7 327.8 757.7 329.9 763.2 332.0 772.5 336.1 777.2 338.7 779.7 339.6 780.9 339.7 782.1 339.5 783.2 339.0 786.1 337.5 787.7 336.3 791.2 332.7 792.9 331.6 793.7 331.4 794.5 331.4 796.9 331.9 801.2 333.9 802.9 334.9 809.2 339.7 811.7 341.3 813.2 342.1 816.5 343.2 818.0 344.1 818.9 345.5 820.5 349.8 821.2 351.6 821.7 352.1 822.9 352.9 824.1 353.5 824.9 353.7 926.0 353.8M717.2 350.7 724.9 350.7 725.6 313.9 726.1 314.3 727.2 317.1 727.6 317.6 730.1 318.9 733.6 320.0 742.1 321.9 751.7 324.8 757.7 326.8 763.2 329.0 772.5 333.0 777.2 335.7 779.7 336.6 780.9 336.7 782.1 336.4 783.2 336.0 786.1 334.5 787.7 333.2 791.2 329.7 792.9 328.6 793.7 328.3 794.5 328.3 796.9 328.9 801.2 330.9 802.9 331.8 809.2 336.6 811.7 338.2 813.2 339.0 816.5 340.1 818.1 341.0 818.9 342.1 820.9 347.3 821.7 348.8 823.7 350.2 825.2 350.7 926.0 350.7M717.2 347.7 724.9 347.7 725.6 310.8 726.1 311.3 727.2 314.1 727.6 314.5 730.1 315.8 733.6 317.0 742.1 318.8 751.7 321.7 757.7 323.7 763.2 325.9 772.5 330.0 777.2 332.6 779.7 333.5 780.9 333.6 782.1 333.4 783.2 332.9 786.1 331.4 787.7 330.2 791.2 326.6 792.9 325.5 793.7 325.3 794.5 325.2 796.9 325.8 801.2 327.8 802.9 328.8 809.2 333.6 811.7 335.2 813.2 336.0 816.9 337.2 818.3 338.0 818.9 338.7 819.2 339.5 820.9 343.8 821.7 345.5 822.1 346.0 823.2 346.8 824.5 347.4 825.2 347.6 926.0 347.7M717.2 344.6 724.9 344.6 725.6 307.8 726.1 308.2 727.2 311.0 727.6 311.5 730.1 312.7 733.6 313.9 742.1 315.7 751.7 318.7 757.7 320.7 763.2 322.9 772.5 326.9 777.2 329.5 779.7 330.4 780.9 330.6 782.1 330.3 783.2 329.9 786.1 328.4 787.7 327.1 791.2 323.5 792.9 322.5 793.7 322.2 794.5 322.2 796.9 322.8 800.9 324.6 802.5 325.4 804.5 326.8 809.2 330.6 811.7 332.2 813.2 332.9 816.9 334.1 818.5 334.9 819.2 336.1 821.2 341.2 822.1 342.7 824.1 344.1 825.7 344.6 926.0 344.6M717.2 341.6 724.9 341.6 725.6 304.7 726.1 305.1 727.2 308.0 727.6 308.4 730.1 309.7 733.6 310.9 742.1 312.7 751.7 315.6 757.7 317.6 763.2 319.8 772.5 323.9 777.2 326.5 779.7 327.4 780.9 327.5 782.1 327.3 783.2 326.8 786.1 325.3 787.7 324.0 791.2 320.5 792.9 319.4 793.7 319.2 794.5 319.1 796.9 319.7 800.9 321.5 802.5 322.4 804.5 323.8 809.2 327.5 811.7 329.1 813.2 329.9 816.9 331.0 818.6 331.9 819.2 332.7 819.7 333.5 821.2 337.7 822.1 339.4 822.5 339.9 823.7 340.7 824.9 341.3 825.7 341.5 926.0 341.6M717.2 338.5 724.9 338.5 725.6 301.7 726.1 302.1 727.2 304.9 727.6 305.4 730.1 306.6 733.6 307.8 742.1 309.6 751.7 312.6 757.7 314.6 763.2 316.8 772.5 320.8 777.2 323.4 779.7 324.3 780.9 324.4 782.1 324.2 783.2 323.7 786.1 322.3 787.7 321.0 791.2 317.4 792.9 316.4 793.7 316.1 794.5 316.1 796.9 316.7 800.9 318.5 802.5 319.3 804.5 320.7 809.2 324.5 811.7 326.1 813.2 326.8 817.2 328.0 818.9 328.9 819.7 330.1 821.7 335.2 822.5 336.6 824.5 338.0 826.1 338.5 926.0 338.5M717.2 335.5 724.9 335.5 725.6 298.6 726.1 299.0 727.2 301.8 727.6 302.3 730.1 303.6 733.6 304.8 742.1 306.6 751.7 309.5 757.7 311.5 763.2 313.7 772.5 317.8 777.2 320.4 779.7 321.3 780.9 321.4 782.1 321.2 783.2 320.7 786.1 319.2 787.7 317.9 791.2 314.4 792.9 313.3 793.7 313.1 794.5 313.0 796.9 313.6 800.9 315.4 802.5 316.3 804.5 317.7 809.2 321.4 811.7 323.0 813.2 323.7 817.2 324.9 819.0 325.8 819.7 326.7 820.1 327.5 821.7 331.7 822.5 333.3 822.9 333.8 824.1 334.6 825.2 335.2 826.1 335.4 926.0 335.5M717.2 332.4 724.9 332.4 725.6 295.6 726.1 296.0 727.2 298.8 727.6 299.2 730.1 300.5 733.6 301.7 742.1 303.5 751.7 306.5 757.7 308.5 763.2 310.7 772.5 314.7 777.2 317.3 779.7 318.2 780.9 318.3 782.1 318.1 783.2 317.6 786.1 316.1 787.7 314.9 791.2 311.3 792.9 310.3 793.7 310.0 794.5 310.0 796.9 310.5 800.9 312.4 802.5 313.2 804.5 314.6 809.2 318.4 811.7 320.0 813.7 320.8 817.2 321.8 819.1 322.7 819.7 323.3 820.1 324.0 822.1 329.1 822.9 330.5 824.9 331.8 826.5 332.4 926.0 332.4M717.2 329.4 724.9 329.4 725.6 292.5 726.1 292.9 727.2 295.7 727.6 296.2 730.1 297.5 733.6 298.7 742.1 300.5 751.7 303.4 757.7 305.4 763.2 307.6 772.5 311.6 777.2 314.3 779.7 315.2 780.9 315.3 782.1 315.1 783.2 314.6 786.1 313.1 787.7 311.8 791.2 308.3 792.9 307.2 793.7 306.9 794.5 306.9 796.9 307.5 800.9 309.3 802.5 310.2 804.5 311.6 809.2 315.4 811.7 316.9 813.7 317.7 817.7 318.8 819.3 319.6 819.7 320.0 820.5 321.5 822.1 325.6 822.9 327.2 823.2 327.7 824.5 328.5 825.7 329.1 826.5 329.3 926.0 329.4M717.2 326.3 724.9 326.3 725.6 289.5 726.1 289.9 727.2 292.7 727.6 293.1 730.1 294.4 733.6 295.6 742.1 297.4 751.7 300.4 757.7 302.4 763.2 304.5 772.5 308.6 777.2 311.2 779.7 312.1 780.9 312.2 782.1 312.0 783.2 311.5 786.1 310.0 787.7 308.8 791.2 305.2 792.9 304.1 793.7 303.9 794.5 303.9 796.9 304.4 800.9 306.2 802.5 307.1 804.5 308.5 809.2 312.3 811.7 313.9 813.7 314.7 817.7 315.7 819.5 316.6 820.1 317.3 820.5 318.0 822.5 323.1 823.2 324.4 825.2 325.7 826.9 326.3 926.0 326.3" fill="none" stroke="#e93ce9" stroke-width="0.75" stroke-linejoin="round"/>
<path d="M716.8 402.4H926.0" stroke="#333" stroke-width="0.9"/>
<path d="M725.6 402.4v4" stroke="#333" stroke-width="0.9"/>
<text x="725.6" y="422.3" font-family='"Liberation Serif", serif' font-size="16.0" text-anchor="middle" fill="#000" >0.0</text>
<path d="M809.1 402.4v4" stroke="#333" stroke-width="0.9"/>
<text x="809.1" y="422.3" font-family='"Liberation Serif", serif' font-size="16.0" text-anchor="middle" fill="#000" >0.5</text>
<path d="M892.6 402.4v4" stroke="#333" stroke-width="0.9"/>
<text x="892.6" y="422.3" font-family='"Liberation Serif", serif' font-size="16.0" text-anchor="middle" fill="#000" >1.0</text>
<path d="M767.4 402.4v2.3" stroke="#333" stroke-width="0.8"/>
<path d="M850.9 402.4v2.3" stroke="#333" stroke-width="0.8"/>
<path d="M599.2 105.1L599.2 118.1M593.4 108.3L605.0 114.8M605.0 108.3L593.4 114.8" stroke="#ff0000" stroke-width="2.3" fill="none"/>
<path d="M860.5 245.8L860.5 258.8M854.7 249.1L866.3 255.6M866.3 249.1L854.7 255.6" stroke="#ff0000" stroke-width="2.3" fill="none"/>
<path d="M588.1 385.5L588.1 398.5M582.3 388.8L593.9 395.2M593.9 388.8L582.3 395.2" stroke="#ff0000" stroke-width="2.3" fill="none"/>
<text x="668.0" y="20.5" font-family='"Liberation Sans", sans-serif' font-size="22.0" text-anchor="middle" fill="#000" >(b)</text>
<text x="906.0" y="20.5" font-family='"Liberation Sans", sans-serif' font-size="22.0" text-anchor="middle" fill="#000" >(d)</text>
<text x="667.5" y="310.5" font-family='"Liberation Sans", sans-serif' font-size="22.0" text-anchor="middle" fill="#000" >(e)</text>
<text x="593.5" y="442.3" font-family='"Liberation Sans", sans-serif' font-size="23.0" text-anchor="middle" fill="#000" >t (s)</text>
<text x="830.0" y="442.3" font-family='"Liberation Sans", sans-serif' font-size="23.0" text-anchor="middle" fill="#000" >t (s)</text>
<polygon points="471.8,10.0 473.8,15.5 479.7,15.7 475.0,19.4 476.7,25.0 471.8,21.7 466.9,25.0 468.6,19.4 463.9,15.7 469.8,15.5" fill="none" stroke="#29abe2" stroke-width="1.30" stroke-linejoin="miter"/>
<polygon points="709.7,9.8 716.9,17 709.7,24.2 702.5,17" fill="none" stroke="#29abe2" stroke-width="1.4"/>
<circle cx="709.2" cy="157.5" r="7.3" fill="none" stroke="#29abe2" stroke-width="1.4"/>
<polygon points="471.3,288.5 478.9,294.0 476.0,303.0 466.6,303.0 463.7,294.0" fill="none" stroke="#29abe2" stroke-width="1.40"/>
<polygon points="709.4,290.8 717.0,304.3 701.8,304.3" fill="none" stroke="#29abe2" stroke-width="1.4"/>
<path d="M475.8 354.5V377" stroke="#000" stroke-width="1.6"/>
<g transform="translate(470.3 365) rotate(-90)"><text x="0.0" y="0.0" font-family='"Liberation Sans", sans-serif' font-size="19.0" text-anchor="middle" fill="#000" >1 cm</text></g>
</svg></body></html>
